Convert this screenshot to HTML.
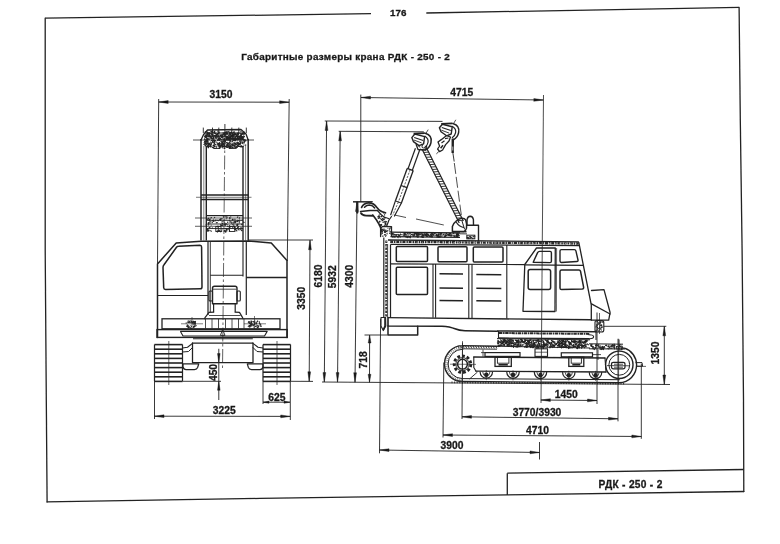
<!DOCTYPE html>
<html><head><meta charset="utf-8"><title>176</title>
<style>
html,body{margin:0;padding:0;background:#fff;}
body{width:780px;height:544px;overflow:hidden;font-family:"Liberation Sans",sans-serif;}
svg{display:block;}
svg text{font-family:"Liberation Sans",sans-serif;font-weight:bold;stroke:#1a1a1a;stroke-width:0.3px;}
</style></head><body>
<svg width="780" height="544" viewBox="0 0 780 544">
<defs><filter id="soft" x="0" y="0" width="780" height="544" filterUnits="userSpaceOnUse"><feGaussianBlur stdDeviation="0.38"/></filter></defs>
<rect x="0" y="0" width="780" height="544" fill="#ffffff"/>
<g filter="url(#soft)">
<line x1="45.20" y1="18.20" x2="371.00" y2="13.60" stroke="#222" stroke-width="1.3" />
<line x1="426.30" y1="13.00" x2="739.10" y2="7.40" stroke="#222" stroke-width="1.3" />
<path d="M739.10,7.40 L740.30,120.00 L742.10,250.00 L743.50,400.00 L743.80,491.50" stroke="#222" stroke-width="1.3" fill="none" stroke-linejoin="round" stroke-linecap="round" />
<path d="M743.80,491.50 L507.00,494.90 L260.00,498.40 L47.10,501.90" stroke="#222" stroke-width="1.3" fill="none" stroke-linejoin="round" stroke-linecap="round" />
<path d="M47.10,501.90 L46.30,400.00 L45.20,250.00 L45.20,18.20" stroke="#222" stroke-width="1.3" fill="none" stroke-linejoin="round" stroke-linecap="round" />
<line x1="507.30" y1="473.20" x2="507.30" y2="495.00" stroke="#222" stroke-width="1.3" />
<line x1="507.30" y1="473.20" x2="743.60" y2="469.50" stroke="#222" stroke-width="1.3" />
<text x="398.30" y="15.90" font-size="9.8" text-anchor="middle" fill="#1a1a1a">176</text>
<text x="345.50" y="60.00" font-size="9.9" text-anchor="middle" fill="#1a1a1a" textLength="208.6" lengthAdjust="spacing">Габаритные размеры крана РДК - 250 - 2</text>
<text x="630.40" y="488.10" font-size="10.2" text-anchor="middle" fill="#1a1a1a" textLength="63.8" lengthAdjust="spacing">РДК - 250 - 2</text>
<line x1="158.70" y1="99.00" x2="157.50" y2="264.00" stroke="#222" stroke-width="0.9" />
<line x1="289.20" y1="99.00" x2="287.30" y2="261.00" stroke="#222" stroke-width="0.9" />
<line x1="158.70" y1="102.00" x2="289.10" y2="102.20" stroke="#222" stroke-width="0.9" />
<path d="M158.70,102.00 L168.20,100.61 L168.20,103.41 Z" fill="#1a1a1a" stroke="#1a1a1a" stroke-width="0.4"/>
<path d="M289.10,102.20 L279.60,103.59 L279.60,100.79 Z" fill="#1a1a1a" stroke="#1a1a1a" stroke-width="0.4"/>
<text x="221.00" y="98.30" font-size="10.3" text-anchor="middle" fill="#1a1a1a">3150</text>
<line x1="248.00" y1="240.00" x2="313.00" y2="240.00" stroke="#222" stroke-width="0.9" />
<line x1="290.50" y1="381.30" x2="313.00" y2="381.40" stroke="#222" stroke-width="0.9" />
<line x1="310.00" y1="240.20" x2="309.20" y2="381.30" stroke="#222" stroke-width="0.9" />
<path d="M310.00,240.20 L311.35,249.71 L308.55,249.69 Z" fill="#1a1a1a" stroke="#1a1a1a" stroke-width="0.4"/>
<path d="M309.20,381.30 L307.85,371.79 L310.65,371.81 Z" fill="#1a1a1a" stroke="#1a1a1a" stroke-width="0.4"/>
<text x="305.30" y="298.30" font-size="10.3" text-anchor="middle" fill="#1a1a1a" transform="rotate(-90 305.30 298.30)">3350</text>
<line x1="218.80" y1="348.80" x2="218.80" y2="400.00" stroke="#222" stroke-width="0.9" />
<path d="M218.80,362.50 L217.50,353.50 L220.10,353.50 Z" fill="#1a1a1a" stroke="#1a1a1a" stroke-width="0.4"/>
<path d="M218.80,381.30 L220.10,390.30 L217.50,390.30 Z" fill="#1a1a1a" stroke="#1a1a1a" stroke-width="0.4"/>
<line x1="182.50" y1="381.30" x2="221.00" y2="381.30" stroke="#222" stroke-width="0.9" />
<text x="217.30" y="372.50" font-size="10.3" text-anchor="middle" fill="#1a1a1a" transform="rotate(-90 217.30 372.50)">450</text>
<line x1="263.00" y1="381.00" x2="263.00" y2="404.00" stroke="#222" stroke-width="0.9" />
<line x1="290.30" y1="381.00" x2="290.30" y2="420.00" stroke="#222" stroke-width="0.9" />
<line x1="263.00" y1="402.20" x2="290.00" y2="402.20" stroke="#222" stroke-width="0.9" />
<path d="M263.00,402.20 L269.00,401.10 L269.00,403.30 Z" fill="#1a1a1a" stroke="#1a1a1a" stroke-width="0.4"/>
<path d="M290.00,402.20 L284.00,403.30 L284.00,401.10 Z" fill="#1a1a1a" stroke="#1a1a1a" stroke-width="0.4"/>
<text x="276.80" y="400.90" font-size="10.3" text-anchor="middle" fill="#1a1a1a">625</text>
<line x1="154.50" y1="381.00" x2="154.50" y2="419.00" stroke="#222" stroke-width="0.9" />
<line x1="154.50" y1="416.20" x2="290.20" y2="416.40" stroke="#222" stroke-width="0.9" />
<path d="M154.50,416.20 L164.00,414.81 L164.00,417.61 Z" fill="#1a1a1a" stroke="#1a1a1a" stroke-width="0.4"/>
<path d="M290.20,416.40 L280.70,417.79 L280.70,414.99 Z" fill="#1a1a1a" stroke="#1a1a1a" stroke-width="0.4"/>
<text x="224.30" y="414.40" font-size="10.3" text-anchor="middle" fill="#1a1a1a">3225</text>
<line x1="322.00" y1="382.00" x2="670.00" y2="384.50" stroke="#222" stroke-width="0.9" />
<line x1="324.80" y1="121.00" x2="442.50" y2="121.40" stroke="#222" stroke-width="0.9" />
<line x1="326.60" y1="121.00" x2="324.30" y2="382.00" stroke="#222" stroke-width="0.9" />
<path d="M326.60,121.00 L327.92,130.51 L325.12,130.49 Z" fill="#1a1a1a" stroke="#1a1a1a" stroke-width="0.4"/>
<path d="M324.30,382.00 L322.98,372.49 L325.78,372.51 Z" fill="#1a1a1a" stroke="#1a1a1a" stroke-width="0.4"/>
<text x="322.10" y="276.00" font-size="10.3" text-anchor="middle" fill="#1a1a1a" transform="rotate(-90 322.10 276.00)">6180</text>
<line x1="338.70" y1="131.30" x2="423.80" y2="131.80" stroke="#222" stroke-width="0.9" />
<line x1="340.20" y1="131.30" x2="337.50" y2="382.10" stroke="#222" stroke-width="0.9" />
<path d="M340.20,131.30 L341.50,140.81 L338.70,140.78 Z" fill="#1a1a1a" stroke="#1a1a1a" stroke-width="0.4"/>
<path d="M337.50,382.10 L336.20,372.59 L339.00,372.62 Z" fill="#1a1a1a" stroke="#1a1a1a" stroke-width="0.4"/>
<text x="336.20" y="276.80" font-size="10.3" text-anchor="middle" fill="#1a1a1a" transform="rotate(-90 336.20 276.80)">5932</text>
<line x1="353.00" y1="202.00" x2="372.00" y2="202.00" stroke="#222" stroke-width="0.9" />
<line x1="357.00" y1="202.00" x2="355.00" y2="382.20" stroke="#222" stroke-width="0.9" />
<path d="M357.00,202.00 L358.29,211.51 L355.49,211.48 Z" fill="#1a1a1a" stroke="#1a1a1a" stroke-width="0.4"/>
<path d="M355.00,382.20 L353.71,372.69 L356.51,372.72 Z" fill="#1a1a1a" stroke="#1a1a1a" stroke-width="0.4"/>
<text x="353.50" y="276.30" font-size="10.3" text-anchor="middle" fill="#1a1a1a" transform="rotate(-90 353.50 276.30)">4300</text>
<line x1="364.50" y1="335.00" x2="387.50" y2="335.00" stroke="#222" stroke-width="0.9" />
<line x1="369.60" y1="335.00" x2="369.50" y2="382.30" stroke="#222" stroke-width="0.9" />
<path d="M369.60,335.00 L370.98,343.00 L368.18,343.00 Z" fill="#1a1a1a" stroke="#1a1a1a" stroke-width="0.4"/>
<path d="M369.50,382.30 L368.12,374.30 L370.92,374.30 Z" fill="#1a1a1a" stroke="#1a1a1a" stroke-width="0.4"/>
<text x="366.80" y="359.80" font-size="10.3" text-anchor="middle" fill="#1a1a1a" transform="rotate(-90 366.80 359.80)">718</text>
<line x1="360.80" y1="94.60" x2="360.80" y2="202.00" stroke="#222" stroke-width="0.9" />
<line x1="361.00" y1="97.50" x2="543.30" y2="100.00" stroke="#222" stroke-width="0.9" />
<path d="M361.00,97.50 L370.52,96.23 L370.48,99.03 Z" fill="#1a1a1a" stroke="#1a1a1a" stroke-width="0.4"/>
<path d="M543.30,100.00 L533.78,101.27 L533.82,98.47 Z" fill="#1a1a1a" stroke="#1a1a1a" stroke-width="0.4"/>
<text x="461.80" y="95.80" font-size="10.3" text-anchor="middle" fill="#1a1a1a">4715</text>
<line x1="543.50" y1="95.00" x2="541.00" y2="403.00" stroke="#222" stroke-width="0.8" />
<line x1="380.60" y1="318.80" x2="379.50" y2="453.30" stroke="#222" stroke-width="0.9" />
<line x1="539.50" y1="442.00" x2="539.50" y2="459.50" stroke="#222" stroke-width="0.9" />
<line x1="379.50" y1="450.00" x2="539.50" y2="452.50" stroke="#222" stroke-width="0.9" />
<path d="M379.50,450.00 L389.02,448.75 L388.98,451.55 Z" fill="#1a1a1a" stroke="#1a1a1a" stroke-width="0.4"/>
<path d="M539.50,452.50 L529.98,453.75 L530.02,450.95 Z" fill="#1a1a1a" stroke="#1a1a1a" stroke-width="0.4"/>
<text x="452.00" y="448.80" font-size="10.3" text-anchor="middle" fill="#1a1a1a">3900</text>
<line x1="597.00" y1="312.50" x2="597.00" y2="404.00" stroke="#222" stroke-width="0.9" />
<line x1="540.90" y1="400.00" x2="597.00" y2="400.50" stroke="#222" stroke-width="0.9" />
<path d="M540.90,400.00 L550.41,398.68 L550.39,401.48 Z" fill="#1a1a1a" stroke="#1a1a1a" stroke-width="0.4"/>
<path d="M597.00,400.50 L587.49,401.82 L587.51,399.02 Z" fill="#1a1a1a" stroke="#1a1a1a" stroke-width="0.4"/>
<text x="566.30" y="398.00" font-size="10.3" text-anchor="middle" fill="#1a1a1a">1450</text>
<line x1="462.50" y1="342.50" x2="462.00" y2="419.00" stroke="#222" stroke-width="0.9" />
<line x1="618.00" y1="338.80" x2="618.00" y2="421.30" stroke="#222" stroke-width="0.9" />
<line x1="462.00" y1="416.80" x2="618.00" y2="418.80" stroke="#222" stroke-width="0.9" />
<path d="M462.00,416.80 L471.52,415.52 L471.48,418.32 Z" fill="#1a1a1a" stroke="#1a1a1a" stroke-width="0.4"/>
<path d="M618.00,418.80 L608.48,420.08 L608.52,417.28 Z" fill="#1a1a1a" stroke="#1a1a1a" stroke-width="0.4"/>
<text x="537.00" y="415.90" font-size="10.3" text-anchor="middle" fill="#1a1a1a">3770/3930</text>
<line x1="443.80" y1="362.50" x2="443.00" y2="437.50" stroke="#222" stroke-width="0.9" />
<line x1="641.30" y1="363.80" x2="641.30" y2="438.80" stroke="#222" stroke-width="0.9" />
<line x1="443.00" y1="435.00" x2="641.30" y2="436.50" stroke="#222" stroke-width="0.9" />
<path d="M443.00,435.00 L452.51,433.67 L452.49,436.47 Z" fill="#1a1a1a" stroke="#1a1a1a" stroke-width="0.4"/>
<path d="M641.30,436.50 L631.79,437.83 L631.81,435.03 Z" fill="#1a1a1a" stroke="#1a1a1a" stroke-width="0.4"/>
<text x="537.50" y="434.20" font-size="10.3" text-anchor="middle" fill="#1a1a1a">4710</text>
<line x1="603.80" y1="326.30" x2="666.30" y2="326.30" stroke="#222" stroke-width="0.9" />
<line x1="664.30" y1="326.30" x2="664.30" y2="384.50" stroke="#222" stroke-width="0.9" />
<path d="M664.30,326.30 L665.70,335.80 L662.90,335.80 Z" fill="#1a1a1a" stroke="#1a1a1a" stroke-width="0.4"/>
<path d="M664.30,384.50 L662.90,375.00 L665.70,375.00 Z" fill="#1a1a1a" stroke="#1a1a1a" stroke-width="0.4"/>
<text x="658.80" y="353.00" font-size="10.3" text-anchor="middle" fill="#1a1a1a" transform="rotate(-90 658.80 353.00)">1350</text>
<line x1="201.00" y1="139.00" x2="201.00" y2="240.50" stroke="#222" stroke-width="1.5" />
<line x1="203.80" y1="146.00" x2="203.80" y2="240.50" stroke="#555" stroke-width="0.7" />
<line x1="206.30" y1="146.00" x2="206.30" y2="240.50" stroke="#222" stroke-width="1.4" />
<line x1="243.00" y1="146.00" x2="243.00" y2="240.50" stroke="#222" stroke-width="1.4" />
<line x1="245.60" y1="146.00" x2="245.60" y2="240.50" stroke="#555" stroke-width="0.7" />
<line x1="248.20" y1="139.00" x2="248.20" y2="240.50" stroke="#222" stroke-width="1.5" />
<path d="M201.00,140.00 L203.60,134.50 L207.50,130.00 L241.00,129.50 L246.00,134.00 L248.20,140.00" stroke="#222" stroke-width="1.3" fill="none" stroke-linejoin="round" stroke-linecap="round" />
<path d="M206.30,146.50 L212.00,146.80 L214.00,148.50 L220.00,148.30 L222.00,146.50 L227.00,146.50 L229.00,148.50 L236.00,148.30 L238.00,146.50 L243.00,146.50" stroke="#222" stroke-width="1.0" fill="none" stroke-linejoin="round" stroke-linecap="round" />
<line x1="217.78" y1="133.26" x2="217.43" y2="133.94" stroke="#222" stroke-width="1.25" />
<line x1="226.47" y1="136.49" x2="228.16" y2="136.80" stroke="#222" stroke-width="1.25" />
<line x1="206.04" y1="137.50" x2="206.82" y2="137.68" stroke="#222" stroke-width="1.25" />
<line x1="221.91" y1="143.40" x2="222.91" y2="143.82" stroke="#222" stroke-width="1.25" />
<line x1="230.22" y1="145.22" x2="229.87" y2="146.65" stroke="#222" stroke-width="1.25" />
<line x1="244.53" y1="131.70" x2="243.41" y2="132.23" stroke="#222" stroke-width="1.25" />
<line x1="210.41" y1="132.77" x2="211.77" y2="134.74" stroke="#222" stroke-width="1.25" />
<line x1="211.91" y1="139.72" x2="211.31" y2="141.01" stroke="#222" stroke-width="1.25" />
<line x1="226.96" y1="131.94" x2="227.99" y2="132.14" stroke="#222" stroke-width="1.25" />
<line x1="232.40" y1="137.41" x2="233.44" y2="138.99" stroke="#222" stroke-width="1.25" />
<line x1="223.08" y1="135.50" x2="221.37" y2="136.78" stroke="#222" stroke-width="1.25" />
<line x1="214.51" y1="139.62" x2="214.31" y2="142.13" stroke="#222" stroke-width="1.25" />
<line x1="234.41" y1="135.32" x2="233.55" y2="135.37" stroke="#222" stroke-width="1.25" />
<line x1="221.64" y1="142.36" x2="223.13" y2="143.13" stroke="#222" stroke-width="1.25" />
<line x1="206.11" y1="141.02" x2="204.73" y2="142.28" stroke="#222" stroke-width="1.25" />
<line x1="240.39" y1="135.71" x2="239.30" y2="137.27" stroke="#222" stroke-width="1.25" />
<line x1="228.28" y1="137.84" x2="225.93" y2="139.13" stroke="#222" stroke-width="1.25" />
<line x1="223.94" y1="140.96" x2="226.04" y2="141.37" stroke="#222" stroke-width="1.25" />
<line x1="231.03" y1="145.90" x2="229.99" y2="146.55" stroke="#222" stroke-width="1.25" />
<line x1="220.32" y1="141.03" x2="221.93" y2="141.14" stroke="#222" stroke-width="1.25" />
<line x1="211.39" y1="132.76" x2="213.64" y2="133.18" stroke="#222" stroke-width="1.25" />
<line x1="209.80" y1="134.71" x2="210.65" y2="137.09" stroke="#222" stroke-width="1.25" />
<line x1="207.80" y1="137.74" x2="207.41" y2="140.25" stroke="#222" stroke-width="1.25" />
<line x1="238.09" y1="143.96" x2="239.06" y2="145.12" stroke="#222" stroke-width="1.25" />
<line x1="219.21" y1="144.26" x2="218.29" y2="144.39" stroke="#222" stroke-width="1.25" />
<line x1="211.72" y1="134.48" x2="212.96" y2="135.59" stroke="#222" stroke-width="1.25" />
<line x1="228.65" y1="134.94" x2="230.18" y2="134.96" stroke="#222" stroke-width="1.25" />
<line x1="219.64" y1="139.50" x2="217.54" y2="139.81" stroke="#222" stroke-width="1.25" />
<line x1="225.64" y1="140.26" x2="225.26" y2="140.88" stroke="#222" stroke-width="1.25" />
<line x1="241.38" y1="142.70" x2="239.21" y2="143.60" stroke="#222" stroke-width="1.25" />
<line x1="220.59" y1="136.98" x2="222.48" y2="137.62" stroke="#222" stroke-width="1.25" />
<line x1="207.05" y1="132.01" x2="207.81" y2="132.59" stroke="#222" stroke-width="1.25" />
<line x1="218.44" y1="131.79" x2="219.37" y2="131.79" stroke="#222" stroke-width="1.25" />
<line x1="208.66" y1="136.45" x2="211.18" y2="136.66" stroke="#222" stroke-width="1.25" />
<line x1="229.68" y1="133.23" x2="230.63" y2="134.20" stroke="#222" stroke-width="1.25" />
<line x1="219.43" y1="132.84" x2="216.95" y2="134.12" stroke="#222" stroke-width="1.25" />
<line x1="223.61" y1="138.26" x2="224.40" y2="138.48" stroke="#222" stroke-width="1.25" />
<line x1="218.55" y1="134.97" x2="217.73" y2="135.46" stroke="#222" stroke-width="1.25" />
<line x1="205.45" y1="145.26" x2="205.37" y2="146.18" stroke="#222" stroke-width="1.25" />
<line x1="226.77" y1="131.41" x2="226.53" y2="134.15" stroke="#222" stroke-width="1.25" />
<line x1="239.90" y1="141.44" x2="240.86" y2="142.47" stroke="#222" stroke-width="1.25" />
<line x1="211.35" y1="142.58" x2="211.11" y2="144.88" stroke="#222" stroke-width="1.25" />
<line x1="218.02" y1="134.35" x2="215.72" y2="135.89" stroke="#222" stroke-width="1.25" />
<line x1="239.46" y1="143.09" x2="237.58" y2="144.29" stroke="#222" stroke-width="1.25" />
<line x1="213.80" y1="138.76" x2="214.09" y2="139.36" stroke="#222" stroke-width="1.25" />
<line x1="205.65" y1="135.19" x2="207.10" y2="136.74" stroke="#222" stroke-width="1.25" />
<line x1="243.72" y1="137.71" x2="241.00" y2="138.25" stroke="#222" stroke-width="1.25" />
<line x1="243.66" y1="136.47" x2="244.50" y2="137.17" stroke="#222" stroke-width="1.25" />
<line x1="212.56" y1="134.07" x2="211.58" y2="136.45" stroke="#222" stroke-width="1.25" />
<line x1="238.96" y1="138.19" x2="237.87" y2="140.28" stroke="#222" stroke-width="1.25" />
<line x1="207.98" y1="140.91" x2="205.75" y2="141.56" stroke="#222" stroke-width="1.25" />
<line x1="235.26" y1="138.17" x2="237.23" y2="139.41" stroke="#222" stroke-width="1.25" />
<line x1="218.13" y1="143.01" x2="216.67" y2="143.14" stroke="#222" stroke-width="1.25" />
<line x1="220.96" y1="145.20" x2="220.32" y2="145.94" stroke="#222" stroke-width="1.25" />
<line x1="209.71" y1="133.27" x2="207.44" y2="133.97" stroke="#222" stroke-width="1.25" />
<line x1="210.49" y1="143.40" x2="208.45" y2="143.52" stroke="#222" stroke-width="1.25" />
<line x1="218.87" y1="139.23" x2="219.45" y2="139.48" stroke="#222" stroke-width="1.25" />
<line x1="244.31" y1="140.75" x2="244.09" y2="143.39" stroke="#222" stroke-width="1.25" />
<line x1="222.29" y1="144.08" x2="221.38" y2="144.63" stroke="#222" stroke-width="1.25" />
<line x1="214.83" y1="135.39" x2="216.20" y2="136.69" stroke="#222" stroke-width="1.25" />
<line x1="215.13" y1="137.29" x2="217.52" y2="138.33" stroke="#222" stroke-width="1.25" />
<line x1="219.01" y1="137.87" x2="218.33" y2="140.37" stroke="#222" stroke-width="1.25" />
<line x1="221.75" y1="144.77" x2="221.74" y2="146.54" stroke="#222" stroke-width="1.25" />
<line x1="225.96" y1="131.28" x2="226.15" y2="132.27" stroke="#222" stroke-width="1.25" />
<line x1="204.66" y1="142.99" x2="206.07" y2="143.83" stroke="#222" stroke-width="1.25" />
<line x1="234.23" y1="139.35" x2="235.14" y2="140.83" stroke="#222" stroke-width="1.25" />
<line x1="227.27" y1="142.76" x2="229.00" y2="143.36" stroke="#222" stroke-width="1.25" />
<line x1="214.69" y1="135.15" x2="213.39" y2="136.28" stroke="#222" stroke-width="1.25" />
<line x1="227.53" y1="142.40" x2="226.01" y2="142.83" stroke="#222" stroke-width="1.25" />
<line x1="229.61" y1="138.58" x2="229.53" y2="140.71" stroke="#222" stroke-width="1.25" />
<line x1="223.05" y1="139.00" x2="223.23" y2="141.66" stroke="#222" stroke-width="1.25" />
<line x1="233.17" y1="144.15" x2="232.02" y2="144.36" stroke="#222" stroke-width="1.25" />
<line x1="227.44" y1="145.15" x2="226.65" y2="145.58" stroke="#222" stroke-width="1.25" />
<line x1="209.49" y1="137.63" x2="210.59" y2="137.89" stroke="#222" stroke-width="1.25" />
<line x1="207.50" y1="141.04" x2="205.49" y2="142.66" stroke="#222" stroke-width="1.25" />
<line x1="210.83" y1="141.74" x2="210.39" y2="142.54" stroke="#222" stroke-width="1.25" />
<line x1="240.70" y1="145.51" x2="242.78" y2="147.23" stroke="#222" stroke-width="1.25" />
<line x1="220.83" y1="138.31" x2="218.40" y2="138.39" stroke="#222" stroke-width="1.25" />
<line x1="211.12" y1="137.47" x2="211.05" y2="138.82" stroke="#222" stroke-width="1.25" />
<line x1="212.53" y1="135.78" x2="212.11" y2="136.27" stroke="#222" stroke-width="1.25" />
<line x1="227.22" y1="137.61" x2="228.54" y2="137.68" stroke="#222" stroke-width="1.25" />
<line x1="230.08" y1="138.68" x2="232.79" y2="139.24" stroke="#222" stroke-width="1.25" />
<line x1="236.82" y1="145.58" x2="237.94" y2="145.96" stroke="#222" stroke-width="1.25" />
<line x1="206.12" y1="142.68" x2="206.71" y2="143.35" stroke="#222" stroke-width="1.25" />
<line x1="221.81" y1="144.67" x2="220.83" y2="145.30" stroke="#222" stroke-width="1.25" />
<line x1="210.62" y1="144.79" x2="210.15" y2="146.88" stroke="#222" stroke-width="1.25" />
<line x1="208.17" y1="131.86" x2="207.31" y2="133.14" stroke="#222" stroke-width="1.25" />
<line x1="207.47" y1="145.08" x2="206.50" y2="147.23" stroke="#222" stroke-width="1.25" />
<line x1="207.93" y1="143.84" x2="210.38" y2="144.36" stroke="#222" stroke-width="1.25" />
<line x1="223.10" y1="136.09" x2="222.67" y2="138.69" stroke="#222" stroke-width="1.25" />
<line x1="215.48" y1="132.94" x2="215.39" y2="134.06" stroke="#222" stroke-width="1.25" />
<line x1="208.99" y1="133.42" x2="210.02" y2="133.59" stroke="#222" stroke-width="1.25" />
<line x1="217.29" y1="135.58" x2="216.39" y2="136.42" stroke="#222" stroke-width="1.25" />
<line x1="225.00" y1="133.67" x2="225.30" y2="134.24" stroke="#222" stroke-width="1.25" />
<line x1="214.77" y1="131.23" x2="213.56" y2="132.58" stroke="#222" stroke-width="1.25" />
<line x1="212.27" y1="138.12" x2="211.45" y2="138.29" stroke="#222" stroke-width="1.25" />
<line x1="238.08" y1="137.48" x2="238.11" y2="139.92" stroke="#222" stroke-width="1.25" />
<line x1="220.62" y1="138.60" x2="219.08" y2="140.90" stroke="#222" stroke-width="1.25" />
<line x1="218.55" y1="143.48" x2="217.34" y2="145.08" stroke="#222" stroke-width="1.25" />
<line x1="221.09" y1="136.21" x2="221.97" y2="136.36" stroke="#222" stroke-width="1.25" />
<line x1="207.40" y1="142.11" x2="208.07" y2="142.80" stroke="#222" stroke-width="1.25" />
<line x1="207.96" y1="143.62" x2="206.06" y2="144.44" stroke="#222" stroke-width="1.25" />
<line x1="216.06" y1="134.63" x2="217.03" y2="135.92" stroke="#222" stroke-width="1.25" />
<line x1="210.96" y1="137.69" x2="212.80" y2="139.69" stroke="#222" stroke-width="1.25" />
<line x1="244.38" y1="139.21" x2="246.34" y2="141.10" stroke="#222" stroke-width="1.25" />
<line x1="217.19" y1="136.35" x2="218.63" y2="136.35" stroke="#222" stroke-width="1.25" />
<line x1="223.96" y1="138.54" x2="225.34" y2="139.55" stroke="#222" stroke-width="1.25" />
<line x1="204.70" y1="134.96" x2="206.12" y2="135.37" stroke="#222" stroke-width="1.25" />
<line x1="206.21" y1="131.34" x2="206.85" y2="132.25" stroke="#222" stroke-width="1.25" />
<line x1="228.51" y1="138.94" x2="227.06" y2="140.38" stroke="#222" stroke-width="1.25" />
<line x1="233.86" y1="144.19" x2="234.30" y2="145.43" stroke="#222" stroke-width="1.25" />
<line x1="244.87" y1="133.24" x2="243.57" y2="134.78" stroke="#222" stroke-width="1.25" />
<line x1="206.30" y1="143.53" x2="204.43" y2="144.19" stroke="#222" stroke-width="1.25" />
<line x1="234.59" y1="143.18" x2="236.18" y2="143.93" stroke="#222" stroke-width="1.25" />
<line x1="225.18" y1="143.52" x2="223.20" y2="144.92" stroke="#222" stroke-width="1.25" />
<line x1="228.45" y1="144.39" x2="227.29" y2="146.18" stroke="#222" stroke-width="1.25" />
<line x1="213.93" y1="131.47" x2="215.20" y2="132.03" stroke="#222" stroke-width="1.25" />
<line x1="208.80" y1="143.54" x2="208.44" y2="145.49" stroke="#222" stroke-width="1.25" />
<line x1="230.18" y1="141.21" x2="230.20" y2="141.82" stroke="#222" stroke-width="1.25" />
<line x1="237.21" y1="142.22" x2="237.19" y2="144.00" stroke="#222" stroke-width="1.25" />
<line x1="231.53" y1="131.99" x2="230.75" y2="132.84" stroke="#222" stroke-width="1.25" />
<line x1="207.55" y1="134.98" x2="206.86" y2="135.77" stroke="#222" stroke-width="1.25" />
<line x1="234.83" y1="145.64" x2="234.86" y2="147.08" stroke="#222" stroke-width="1.25" />
<line x1="224.14" y1="141.26" x2="222.68" y2="142.56" stroke="#222" stroke-width="1.25" />
<line x1="230.85" y1="132.16" x2="231.89" y2="132.68" stroke="#222" stroke-width="1.25" />
<line x1="234.97" y1="135.57" x2="234.84" y2="136.18" stroke="#222" stroke-width="1.25" />
<line x1="206.99" y1="135.03" x2="205.90" y2="136.85" stroke="#222" stroke-width="1.25" />
<line x1="232.20" y1="135.36" x2="232.12" y2="136.98" stroke="#222" stroke-width="1.25" />
<line x1="223.62" y1="132.78" x2="222.64" y2="133.12" stroke="#222" stroke-width="1.25" />
<line x1="244.60" y1="145.04" x2="246.21" y2="145.13" stroke="#222" stroke-width="1.25" />
<line x1="238.12" y1="145.52" x2="238.30" y2="146.70" stroke="#222" stroke-width="1.25" />
<line x1="213.10" y1="145.18" x2="214.59" y2="146.34" stroke="#222" stroke-width="1.25" />
<line x1="210.31" y1="138.86" x2="209.43" y2="138.99" stroke="#222" stroke-width="1.25" />
<line x1="238.13" y1="138.63" x2="236.12" y2="139.38" stroke="#222" stroke-width="1.25" />
<line x1="213.99" y1="144.47" x2="214.02" y2="145.12" stroke="#222" stroke-width="1.25" />
<line x1="204.65" y1="138.38" x2="204.84" y2="139.62" stroke="#222" stroke-width="1.25" />
<line x1="210.27" y1="136.16" x2="211.61" y2="138.21" stroke="#222" stroke-width="1.25" />
<line x1="204.57" y1="142.26" x2="203.82" y2="142.68" stroke="#222" stroke-width="1.25" />
<line x1="242.48" y1="141.70" x2="241.30" y2="142.07" stroke="#222" stroke-width="1.25" />
<line x1="219.76" y1="136.89" x2="217.86" y2="136.90" stroke="#222" stroke-width="1.25" />
<line x1="219.29" y1="137.42" x2="219.75" y2="137.96" stroke="#222" stroke-width="1.25" />
<line x1="208.67" y1="143.52" x2="210.33" y2="145.60" stroke="#222" stroke-width="1.25" />
<line x1="214.72" y1="134.99" x2="214.69" y2="136.00" stroke="#222" stroke-width="1.25" />
<line x1="219.81" y1="145.34" x2="217.58" y2="146.19" stroke="#222" stroke-width="1.25" />
<line x1="230.37" y1="144.70" x2="228.59" y2="145.04" stroke="#222" stroke-width="1.25" />
<line x1="234.00" y1="131.74" x2="232.94" y2="132.93" stroke="#222" stroke-width="1.25" />
<line x1="235.36" y1="140.67" x2="235.80" y2="141.22" stroke="#222" stroke-width="1.25" />
<line x1="242.50" y1="132.91" x2="242.62" y2="134.26" stroke="#222" stroke-width="1.25" />
<line x1="216.71" y1="142.09" x2="215.54" y2="142.17" stroke="#222" stroke-width="1.25" />
<line x1="231.40" y1="135.51" x2="231.13" y2="136.96" stroke="#222" stroke-width="1.25" />
<line x1="211.36" y1="133.42" x2="213.42" y2="135.00" stroke="#222" stroke-width="1.25" />
<line x1="224.88" y1="134.30" x2="222.21" y2="135.11" stroke="#222" stroke-width="1.25" />
<line x1="222.95" y1="133.09" x2="223.61" y2="133.55" stroke="#222" stroke-width="1.25" />
<line x1="218.52" y1="132.37" x2="219.37" y2="133.16" stroke="#222" stroke-width="1.25" />
<line x1="227.85" y1="144.31" x2="226.79" y2="145.38" stroke="#222" stroke-width="1.25" />
<line x1="221.47" y1="138.86" x2="221.98" y2="140.11" stroke="#222" stroke-width="1.25" />
<line x1="207.04" y1="135.16" x2="206.17" y2="135.25" stroke="#222" stroke-width="1.25" />
<line x1="225.14" y1="140.44" x2="224.16" y2="140.89" stroke="#222" stroke-width="1.25" />
<line x1="215.61" y1="134.73" x2="216.10" y2="136.23" stroke="#222" stroke-width="1.25" />
<line x1="243.61" y1="143.73" x2="243.01" y2="143.98" stroke="#222" stroke-width="1.25" />
<line x1="205.82" y1="141.64" x2="204.27" y2="142.17" stroke="#222" stroke-width="1.25" />
<line x1="228.57" y1="131.00" x2="229.46" y2="133.49" stroke="#222" stroke-width="1.25" />
<line x1="238.35" y1="143.83" x2="237.21" y2="143.93" stroke="#222" stroke-width="1.25" />
<line x1="208.97" y1="133.32" x2="208.82" y2="135.41" stroke="#222" stroke-width="1.25" />
<line x1="243.10" y1="141.83" x2="242.08" y2="143.87" stroke="#222" stroke-width="1.25" />
<line x1="223.25" y1="139.27" x2="225.55" y2="139.56" stroke="#222" stroke-width="1.25" />
<line x1="214.04" y1="144.80" x2="213.48" y2="145.94" stroke="#222" stroke-width="1.25" />
<line x1="209.75" y1="134.78" x2="208.86" y2="136.72" stroke="#222" stroke-width="1.25" />
<line x1="209.10" y1="132.06" x2="208.95" y2="133.93" stroke="#222" stroke-width="1.25" />
<line x1="220.41" y1="134.35" x2="220.22" y2="134.95" stroke="#222" stroke-width="1.25" />
<line x1="216.86" y1="137.91" x2="214.86" y2="138.17" stroke="#222" stroke-width="1.25" />
<line x1="240.73" y1="138.13" x2="241.58" y2="138.90" stroke="#222" stroke-width="1.25" />
<line x1="243.89" y1="141.57" x2="244.25" y2="142.10" stroke="#222" stroke-width="1.25" />
<line x1="224.93" y1="141.12" x2="225.22" y2="142.25" stroke="#222" stroke-width="1.25" />
<line x1="231.86" y1="144.88" x2="232.37" y2="145.32" stroke="#222" stroke-width="1.25" />
<line x1="218.36" y1="137.31" x2="217.80" y2="138.18" stroke="#222" stroke-width="1.25" />
<line x1="237.18" y1="142.09" x2="237.16" y2="143.14" stroke="#222" stroke-width="1.25" />
<line x1="244.26" y1="135.68" x2="243.33" y2="136.27" stroke="#222" stroke-width="1.25" />
<line x1="213.58" y1="142.41" x2="215.20" y2="144.56" stroke="#222" stroke-width="1.25" />
<line x1="224.83" y1="133.81" x2="225.99" y2="134.79" stroke="#222" stroke-width="1.25" />
<line x1="231.78" y1="145.23" x2="233.09" y2="145.88" stroke="#222" stroke-width="1.25" />
<line x1="213.23" y1="145.61" x2="213.88" y2="145.92" stroke="#222" stroke-width="1.25" />
<line x1="206.97" y1="136.90" x2="204.55" y2="137.70" stroke="#222" stroke-width="1.25" />
<line x1="234.54" y1="145.96" x2="233.25" y2="146.25" stroke="#222" stroke-width="1.25" />
<line x1="212.11" y1="145.04" x2="211.64" y2="145.52" stroke="#222" stroke-width="1.25" />
<line x1="231.74" y1="136.68" x2="232.25" y2="137.91" stroke="#222" stroke-width="1.25" />
<line x1="211.44" y1="131.04" x2="212.32" y2="132.10" stroke="#222" stroke-width="1.25" />
<line x1="243.68" y1="132.86" x2="242.63" y2="132.97" stroke="#222" stroke-width="1.25" />
<line x1="219.12" y1="143.32" x2="217.81" y2="144.15" stroke="#222" stroke-width="1.25" />
<line x1="206.52" y1="138.10" x2="207.54" y2="140.52" stroke="#222" stroke-width="1.25" />
<line x1="212.41" y1="136.46" x2="211.78" y2="136.68" stroke="#222" stroke-width="1.25" />
<line x1="221.34" y1="143.18" x2="220.83" y2="143.64" stroke="#222" stroke-width="1.25" />
<line x1="205.93" y1="131.94" x2="204.80" y2="132.23" stroke="#222" stroke-width="1.25" />
<line x1="235.14" y1="144.48" x2="235.72" y2="145.53" stroke="#222" stroke-width="1.25" />
<line x1="243.77" y1="140.25" x2="245.24" y2="141.85" stroke="#222" stroke-width="1.25" />
<line x1="217.48" y1="135.13" x2="219.74" y2="135.16" stroke="#222" stroke-width="1.25" />
<line x1="242.07" y1="140.51" x2="241.43" y2="140.63" stroke="#222" stroke-width="1.25" />
<line x1="214.09" y1="138.13" x2="211.41" y2="138.49" stroke="#222" stroke-width="1.25" />
<line x1="220.35" y1="134.77" x2="220.72" y2="136.41" stroke="#222" stroke-width="1.25" />
<line x1="242.55" y1="133.74" x2="240.74" y2="135.04" stroke="#222" stroke-width="1.25" />
<line x1="238.23" y1="142.59" x2="237.80" y2="143.84" stroke="#222" stroke-width="1.25" />
<line x1="217.60" y1="136.43" x2="217.00" y2="136.92" stroke="#222" stroke-width="1.25" />
<line x1="212.59" y1="142.29" x2="213.12" y2="142.81" stroke="#222" stroke-width="1.25" />
<line x1="205.89" y1="139.29" x2="207.32" y2="141.64" stroke="#222" stroke-width="1.25" />
<line x1="240.72" y1="145.82" x2="241.25" y2="146.40" stroke="#222" stroke-width="1.25" />
<line x1="208.45" y1="138.48" x2="207.48" y2="139.73" stroke="#222" stroke-width="1.25" />
<line x1="214.10" y1="137.25" x2="213.33" y2="139.19" stroke="#222" stroke-width="1.25" />
<line x1="235.17" y1="143.70" x2="234.74" y2="144.46" stroke="#222" stroke-width="1.25" />
<line x1="238.98" y1="135.41" x2="238.68" y2="136.80" stroke="#222" stroke-width="1.25" />
<line x1="234.76" y1="133.99" x2="235.57" y2="134.79" stroke="#222" stroke-width="1.25" />
<line x1="210.79" y1="144.26" x2="210.47" y2="145.54" stroke="#222" stroke-width="1.25" />
<line x1="220.74" y1="145.89" x2="220.71" y2="147.00" stroke="#222" stroke-width="1.25" />
<line x1="237.65" y1="140.80" x2="236.82" y2="140.82" stroke="#222" stroke-width="1.25" />
<line x1="223.97" y1="143.29" x2="221.67" y2="144.54" stroke="#222" stroke-width="1.25" />
<line x1="206.15" y1="135.41" x2="207.10" y2="135.78" stroke="#222" stroke-width="1.25" />
<line x1="244.39" y1="139.75" x2="243.01" y2="140.06" stroke="#222" stroke-width="1.25" />
<line x1="240.01" y1="137.74" x2="241.59" y2="139.42" stroke="#222" stroke-width="1.25" />
<line x1="243.27" y1="132.59" x2="242.69" y2="134.46" stroke="#222" stroke-width="1.25" />
<line x1="213.42" y1="136.53" x2="214.37" y2="136.98" stroke="#222" stroke-width="1.25" />
<line x1="214.95" y1="139.99" x2="214.47" y2="140.92" stroke="#222" stroke-width="1.25" />
<line x1="204.97" y1="135.91" x2="204.43" y2="136.76" stroke="#222" stroke-width="1.25" />
<line x1="217.30" y1="134.05" x2="215.86" y2="135.13" stroke="#222" stroke-width="1.25" />
<line x1="207.09" y1="132.52" x2="207.68" y2="134.23" stroke="#222" stroke-width="1.25" />
<line x1="230.71" y1="132.37" x2="232.56" y2="133.41" stroke="#222" stroke-width="1.25" />
<line x1="221.30" y1="135.25" x2="222.83" y2="137.47" stroke="#222" stroke-width="1.25" />
<line x1="217.31" y1="139.50" x2="217.96" y2="140.86" stroke="#222" stroke-width="1.25" />
<line x1="239.93" y1="145.95" x2="240.36" y2="146.89" stroke="#222" stroke-width="1.25" />
<line x1="234.35" y1="134.06" x2="236.93" y2="134.10" stroke="#222" stroke-width="1.25" />
<line x1="221.87" y1="143.31" x2="222.61" y2="145.74" stroke="#222" stroke-width="1.25" />
<line x1="223.40" y1="133.44" x2="225.21" y2="133.52" stroke="#222" stroke-width="1.25" />
<line x1="230.77" y1="144.65" x2="232.66" y2="145.19" stroke="#222" stroke-width="1.25" />
<line x1="219.70" y1="138.57" x2="220.80" y2="139.11" stroke="#222" stroke-width="1.25" />
<line x1="225.87" y1="144.88" x2="227.45" y2="145.45" stroke="#222" stroke-width="1.25" />
<line x1="237.50" y1="145.50" x2="238.21" y2="146.01" stroke="#222" stroke-width="1.25" />
<line x1="243.17" y1="145.63" x2="243.20" y2="146.35" stroke="#222" stroke-width="1.25" />
<line x1="242.47" y1="136.82" x2="240.60" y2="137.40" stroke="#222" stroke-width="1.25" />
<line x1="238.31" y1="133.40" x2="237.46" y2="134.08" stroke="#222" stroke-width="1.25" />
<line x1="221.08" y1="143.70" x2="220.22" y2="144.21" stroke="#222" stroke-width="1.25" />
<line x1="213.44" y1="137.00" x2="213.36" y2="138.44" stroke="#222" stroke-width="1.25" />
<line x1="209.55" y1="134.71" x2="207.87" y2="136.66" stroke="#222" stroke-width="1.25" />
<line x1="206.19" y1="139.44" x2="205.69" y2="139.91" stroke="#222" stroke-width="1.25" />
<line x1="238.87" y1="132.77" x2="238.31" y2="134.49" stroke="#222" stroke-width="1.25" />
<line x1="230.21" y1="135.59" x2="230.68" y2="137.42" stroke="#222" stroke-width="1.25" />
<line x1="221.96" y1="140.88" x2="222.22" y2="142.43" stroke="#222" stroke-width="1.25" />
<line x1="205.46" y1="140.28" x2="205.50" y2="141.40" stroke="#222" stroke-width="1.25" />
<line x1="235.81" y1="142.70" x2="235.94" y2="143.69" stroke="#222" stroke-width="1.25" />
<line x1="223.90" y1="132.61" x2="225.32" y2="133.21" stroke="#222" stroke-width="1.25" />
<line x1="208.26" y1="137.63" x2="208.24" y2="138.32" stroke="#222" stroke-width="1.25" />
<line x1="230.59" y1="132.23" x2="229.05" y2="133.95" stroke="#222" stroke-width="1.25" />
<line x1="225.47" y1="131.81" x2="225.45" y2="133.25" stroke="#222" stroke-width="1.25" />
<line x1="243.49" y1="133.04" x2="240.97" y2="134.25" stroke="#222" stroke-width="1.25" />
<line x1="234.52" y1="143.22" x2="236.78" y2="144.80" stroke="#222" stroke-width="1.25" />
<line x1="224.67" y1="145.35" x2="223.74" y2="145.60" stroke="#222" stroke-width="1.25" />
<line x1="236.82" y1="144.96" x2="238.17" y2="145.24" stroke="#222" stroke-width="1.25" />
<line x1="235.50" y1="133.38" x2="234.36" y2="133.77" stroke="#222" stroke-width="1.25" />
<line x1="237.94" y1="133.15" x2="237.92" y2="135.78" stroke="#222" stroke-width="1.25" />
<line x1="213.04" y1="134.94" x2="213.02" y2="136.24" stroke="#222" stroke-width="1.25" />
<line x1="206.01" y1="133.73" x2="208.34" y2="135.02" stroke="#222" stroke-width="1.25" />
<line x1="232.37" y1="144.43" x2="234.37" y2="145.61" stroke="#222" stroke-width="1.25" />
<line x1="209.22" y1="138.96" x2="208.64" y2="140.23" stroke="#222" stroke-width="1.25" />
<line x1="240.29" y1="139.33" x2="239.66" y2="141.79" stroke="#222" stroke-width="1.25" />
<line x1="208.79" y1="145.89" x2="208.21" y2="147.24" stroke="#222" stroke-width="1.25" />
<line x1="237.20" y1="134.97" x2="235.34" y2="135.03" stroke="#222" stroke-width="1.25" />
<line x1="219.27" y1="142.47" x2="219.45" y2="143.44" stroke="#222" stroke-width="1.25" />
<line x1="234.99" y1="131.72" x2="234.01" y2="132.35" stroke="#222" stroke-width="1.25" />
<line x1="230.71" y1="145.76" x2="230.16" y2="147.75" stroke="#222" stroke-width="1.25" />
<line x1="217.32" y1="131.03" x2="218.24" y2="131.13" stroke="#222" stroke-width="1.25" />
<line x1="229.76" y1="137.48" x2="229.66" y2="140.05" stroke="#222" stroke-width="1.25" />
<line x1="209.91" y1="134.41" x2="209.61" y2="134.98" stroke="#222" stroke-width="1.25" />
<line x1="204.61" y1="136.32" x2="205.92" y2="136.78" stroke="#222" stroke-width="1.25" />
<line x1="213.69" y1="139.75" x2="213.40" y2="140.76" stroke="#222" stroke-width="1.25" />
<line x1="230.08" y1="138.12" x2="232.51" y2="139.22" stroke="#222" stroke-width="1.25" />
<line x1="214.49" y1="133.24" x2="216.40" y2="133.83" stroke="#222" stroke-width="1.25" />
<line x1="240.22" y1="142.73" x2="240.58" y2="143.86" stroke="#222" stroke-width="1.25" />
<line x1="204.97" y1="140.67" x2="204.70" y2="142.02" stroke="#222" stroke-width="1.25" />
<line x1="230.97" y1="137.66" x2="228.80" y2="138.09" stroke="#222" stroke-width="1.25" />
<line x1="214.69" y1="144.55" x2="216.44" y2="144.80" stroke="#222" stroke-width="1.25" />
<line x1="221.15" y1="134.57" x2="223.42" y2="134.99" stroke="#222" stroke-width="1.25" />
<line x1="205.01" y1="139.26" x2="204.11" y2="139.43" stroke="#222" stroke-width="1.25" />
<line x1="212.68" y1="140.12" x2="212.64" y2="142.13" stroke="#222" stroke-width="1.25" />
<line x1="237.85" y1="133.62" x2="238.56" y2="134.66" stroke="#222" stroke-width="1.25" />
<line x1="206.49" y1="144.34" x2="204.80" y2="145.71" stroke="#222" stroke-width="1.25" />
<line x1="204.76" y1="143.67" x2="203.63" y2="144.83" stroke="#222" stroke-width="1.25" />
<line x1="234.91" y1="137.79" x2="235.54" y2="138.33" stroke="#222" stroke-width="1.25" />
<line x1="214.02" y1="131.58" x2="215.14" y2="133.54" stroke="#222" stroke-width="1.25" />
<line x1="233.00" y1="143.68" x2="232.27" y2="144.61" stroke="#222" stroke-width="1.25" />
<line x1="227.21" y1="137.54" x2="225.83" y2="138.62" stroke="#222" stroke-width="1.25" />
<line x1="215.38" y1="140.63" x2="214.31" y2="140.75" stroke="#222" stroke-width="1.25" />
<line x1="240.58" y1="131.23" x2="241.35" y2="132.05" stroke="#222" stroke-width="1.25" />
<line x1="235.00" y1="145.17" x2="234.08" y2="146.11" stroke="#222" stroke-width="1.25" />
<line x1="240.59" y1="135.93" x2="242.48" y2="137.70" stroke="#222" stroke-width="1.25" />
<line x1="230.36" y1="141.39" x2="228.99" y2="143.78" stroke="#222" stroke-width="1.25" />
<line x1="223.75" y1="143.60" x2="222.30" y2="145.62" stroke="#222" stroke-width="1.25" />
<line x1="222.43" y1="141.87" x2="222.15" y2="143.12" stroke="#222" stroke-width="1.25" />
<line x1="213.19" y1="140.34" x2="215.72" y2="140.97" stroke="#222" stroke-width="1.25" />
<line x1="210.43" y1="131.40" x2="212.92" y2="132.27" stroke="#222" stroke-width="1.25" />
<line x1="218.64" y1="133.13" x2="219.33" y2="133.19" stroke="#222" stroke-width="1.25" />
<line x1="232.90" y1="140.51" x2="231.61" y2="142.32" stroke="#222" stroke-width="1.25" />
<line x1="207.20" y1="139.86" x2="208.19" y2="142.04" stroke="#222" stroke-width="1.25" />
<line x1="238.10" y1="144.37" x2="240.56" y2="144.89" stroke="#222" stroke-width="1.25" />
<line x1="241.54" y1="139.61" x2="242.50" y2="139.94" stroke="#222" stroke-width="1.4" />
<line x1="227.90" y1="133.24" x2="225.93" y2="134.26" stroke="#222" stroke-width="1.4" />
<line x1="236.78" y1="138.78" x2="236.31" y2="139.85" stroke="#222" stroke-width="1.4" />
<line x1="227.70" y1="133.69" x2="226.97" y2="134.38" stroke="#222" stroke-width="1.4" />
<line x1="231.43" y1="135.97" x2="232.54" y2="136.04" stroke="#222" stroke-width="1.4" />
<line x1="230.80" y1="138.01" x2="231.30" y2="139.15" stroke="#222" stroke-width="1.4" />
<line x1="242.39" y1="136.53" x2="240.75" y2="137.35" stroke="#222" stroke-width="1.4" />
<line x1="226.53" y1="135.89" x2="226.95" y2="137.99" stroke="#222" stroke-width="1.4" />
<line x1="231.90" y1="137.93" x2="231.77" y2="138.96" stroke="#222" stroke-width="1.4" />
<line x1="240.66" y1="133.64" x2="239.86" y2="134.14" stroke="#222" stroke-width="1.4" />
<line x1="226.02" y1="134.41" x2="224.15" y2="136.15" stroke="#222" stroke-width="1.4" />
<line x1="226.07" y1="136.44" x2="226.13" y2="138.63" stroke="#222" stroke-width="1.4" />
<line x1="229.14" y1="136.46" x2="230.18" y2="138.47" stroke="#222" stroke-width="1.4" />
<line x1="230.43" y1="139.61" x2="231.08" y2="140.41" stroke="#222" stroke-width="1.4" />
<line x1="237.89" y1="136.49" x2="239.65" y2="137.12" stroke="#222" stroke-width="1.4" />
<line x1="227.38" y1="138.52" x2="226.11" y2="140.29" stroke="#222" stroke-width="1.4" />
<line x1="236.67" y1="135.49" x2="237.10" y2="136.81" stroke="#222" stroke-width="1.4" />
<line x1="241.14" y1="133.60" x2="240.53" y2="133.83" stroke="#222" stroke-width="1.4" />
<line x1="229.50" y1="134.84" x2="227.98" y2="135.33" stroke="#222" stroke-width="1.4" />
<line x1="232.45" y1="139.19" x2="233.58" y2="140.21" stroke="#222" stroke-width="1.4" />
<line x1="235.04" y1="138.28" x2="233.69" y2="139.61" stroke="#222" stroke-width="1.4" />
<line x1="231.92" y1="135.29" x2="233.94" y2="136.36" stroke="#222" stroke-width="1.4" />
<line x1="237.26" y1="138.19" x2="238.53" y2="138.94" stroke="#222" stroke-width="1.4" />
<line x1="239.15" y1="137.05" x2="240.55" y2="137.64" stroke="#222" stroke-width="1.4" />
<line x1="241.05" y1="134.67" x2="242.04" y2="135.35" stroke="#222" stroke-width="1.4" />
<line x1="237.95" y1="138.91" x2="238.76" y2="139.33" stroke="#222" stroke-width="1.4" />
<line x1="230.21" y1="135.29" x2="230.14" y2="136.21" stroke="#222" stroke-width="1.4" />
<line x1="231.58" y1="134.32" x2="229.53" y2="134.49" stroke="#222" stroke-width="1.4" />
<line x1="227.73" y1="139.74" x2="229.03" y2="140.17" stroke="#222" stroke-width="1.4" />
<line x1="242.73" y1="138.56" x2="241.74" y2="139.66" stroke="#222" stroke-width="1.4" />
<line x1="229.34" y1="137.47" x2="230.29" y2="137.80" stroke="#222" stroke-width="1.4" />
<line x1="232.60" y1="133.24" x2="233.28" y2="135.31" stroke="#222" stroke-width="1.4" />
<line x1="237.79" y1="136.50" x2="237.17" y2="137.90" stroke="#222" stroke-width="1.4" />
<line x1="228.41" y1="137.23" x2="229.02" y2="139.22" stroke="#222" stroke-width="1.4" />
<line x1="241.44" y1="136.01" x2="240.95" y2="138.05" stroke="#222" stroke-width="1.4" />
<line x1="233.16" y1="134.60" x2="231.64" y2="136.41" stroke="#222" stroke-width="1.4" />
<line x1="239.16" y1="137.90" x2="237.41" y2="138.78" stroke="#222" stroke-width="1.4" />
<line x1="236.91" y1="136.18" x2="237.94" y2="137.72" stroke="#222" stroke-width="1.4" />
<line x1="227.66" y1="135.94" x2="226.09" y2="137.22" stroke="#222" stroke-width="1.4" />
<line x1="236.70" y1="134.75" x2="237.06" y2="136.22" stroke="#222" stroke-width="1.4" />
<line x1="236.57" y1="135.87" x2="235.28" y2="137.96" stroke="#222" stroke-width="1.4" />
<line x1="229.11" y1="137.58" x2="228.06" y2="138.47" stroke="#222" stroke-width="1.4" />
<line x1="234.33" y1="139.82" x2="236.00" y2="140.02" stroke="#222" stroke-width="1.4" />
<line x1="228.73" y1="138.47" x2="227.12" y2="138.78" stroke="#222" stroke-width="1.4" />
<line x1="227.72" y1="137.02" x2="227.46" y2="139.04" stroke="#222" stroke-width="1.4" />
<line x1="234.71" y1="137.47" x2="233.30" y2="138.32" stroke="#222" stroke-width="1.4" />
<line x1="232.98" y1="139.64" x2="234.53" y2="140.84" stroke="#222" stroke-width="1.4" />
<line x1="232.67" y1="138.34" x2="235.05" y2="139.30" stroke="#222" stroke-width="1.4" />
<line x1="232.04" y1="133.40" x2="232.95" y2="134.46" stroke="#222" stroke-width="1.4" />
<line x1="226.23" y1="135.93" x2="226.72" y2="137.86" stroke="#222" stroke-width="1.4" />
<line x1="231.99" y1="134.86" x2="233.57" y2="136.21" stroke="#222" stroke-width="1.4" />
<line x1="241.98" y1="136.69" x2="243.68" y2="138.09" stroke="#222" stroke-width="1.4" />
<line x1="232.66" y1="134.48" x2="234.64" y2="135.33" stroke="#222" stroke-width="1.4" />
<line x1="239.76" y1="137.44" x2="239.93" y2="139.16" stroke="#222" stroke-width="1.4" />
<line x1="229.84" y1="139.75" x2="230.68" y2="141.43" stroke="#222" stroke-width="1.4" />
<line x1="239.92" y1="138.71" x2="240.04" y2="139.90" stroke="#222" stroke-width="1.4" />
<line x1="235.32" y1="133.88" x2="234.19" y2="134.53" stroke="#222" stroke-width="1.4" />
<line x1="240.46" y1="134.87" x2="240.88" y2="135.90" stroke="#222" stroke-width="1.4" />
<line x1="233.24" y1="134.30" x2="235.29" y2="134.32" stroke="#222" stroke-width="1.4" />
<line x1="230.78" y1="134.71" x2="231.69" y2="135.98" stroke="#222" stroke-width="1.4" />
<line x1="233.28" y1="137.46" x2="232.65" y2="138.62" stroke="#222" stroke-width="1.4" />
<line x1="241.79" y1="138.98" x2="244.01" y2="139.38" stroke="#222" stroke-width="1.4" />
<line x1="241.40" y1="138.49" x2="243.44" y2="139.45" stroke="#222" stroke-width="1.4" />
<line x1="236.76" y1="133.10" x2="239.27" y2="133.20" stroke="#222" stroke-width="1.4" />
<line x1="237.15" y1="134.75" x2="237.99" y2="135.03" stroke="#222" stroke-width="1.4" />
<line x1="229.97" y1="138.43" x2="230.39" y2="139.24" stroke="#222" stroke-width="1.4" />
<line x1="241.37" y1="138.54" x2="243.43" y2="139.74" stroke="#222" stroke-width="1.4" />
<line x1="236.34" y1="138.47" x2="235.14" y2="140.53" stroke="#222" stroke-width="1.4" />
<line x1="239.40" y1="138.87" x2="241.01" y2="140.03" stroke="#222" stroke-width="1.4" />
<line x1="235.02" y1="138.19" x2="235.48" y2="140.51" stroke="#222" stroke-width="1.4" />
<line x1="226.87" y1="143.45" x2="227.50" y2="144.03" stroke="#222" stroke-width="1.2" />
<line x1="224.76" y1="142.32" x2="224.85" y2="143.18" stroke="#222" stroke-width="1.2" />
<line x1="224.71" y1="144.74" x2="224.44" y2="146.88" stroke="#222" stroke-width="1.2" />
<line x1="208.22" y1="146.62" x2="208.39" y2="148.23" stroke="#222" stroke-width="1.2" />
<line x1="230.62" y1="146.62" x2="231.14" y2="147.87" stroke="#222" stroke-width="1.2" />
<line x1="240.66" y1="142.41" x2="239.93" y2="144.00" stroke="#222" stroke-width="1.2" />
<line x1="208.97" y1="145.35" x2="207.73" y2="147.27" stroke="#222" stroke-width="1.2" />
<line x1="219.24" y1="147.40" x2="219.19" y2="148.87" stroke="#222" stroke-width="1.2" />
<line x1="238.52" y1="142.19" x2="237.42" y2="143.52" stroke="#222" stroke-width="1.2" />
<line x1="219.51" y1="146.74" x2="220.11" y2="148.07" stroke="#222" stroke-width="1.2" />
<line x1="225.87" y1="146.24" x2="226.96" y2="147.09" stroke="#222" stroke-width="1.2" />
<line x1="222.36" y1="145.05" x2="221.40" y2="145.63" stroke="#222" stroke-width="1.2" />
<line x1="236.14" y1="144.22" x2="236.13" y2="145.31" stroke="#222" stroke-width="1.2" />
<line x1="225.22" y1="147.36" x2="224.27" y2="149.15" stroke="#222" stroke-width="1.2" />
<line x1="219.25" y1="143.74" x2="220.23" y2="145.08" stroke="#222" stroke-width="1.2" />
<line x1="229.58" y1="146.31" x2="231.47" y2="146.55" stroke="#222" stroke-width="1.2" />
<line x1="238.11" y1="145.00" x2="239.24" y2="145.18" stroke="#222" stroke-width="1.2" />
<line x1="208.21" y1="143.04" x2="206.57" y2="143.46" stroke="#222" stroke-width="1.2" />
<line x1="230.37" y1="146.34" x2="228.74" y2="146.82" stroke="#222" stroke-width="1.2" />
<line x1="228.97" y1="145.45" x2="228.00" y2="146.81" stroke="#222" stroke-width="1.2" />
<line x1="231.15" y1="143.17" x2="230.44" y2="144.40" stroke="#222" stroke-width="1.2" />
<line x1="233.93" y1="142.56" x2="234.49" y2="142.92" stroke="#222" stroke-width="1.2" />
<line x1="234.33" y1="147.03" x2="233.74" y2="148.14" stroke="#222" stroke-width="1.2" />
<line x1="235.97" y1="146.33" x2="235.76" y2="147.37" stroke="#222" stroke-width="1.2" />
<line x1="218.27" y1="144.32" x2="219.01" y2="145.48" stroke="#222" stroke-width="1.2" />
<line x1="229.82" y1="147.14" x2="231.42" y2="147.41" stroke="#222" stroke-width="1.2" />
<line x1="209.34" y1="142.65" x2="207.99" y2="143.57" stroke="#222" stroke-width="1.2" />
<line x1="239.23" y1="144.46" x2="240.53" y2="144.51" stroke="#222" stroke-width="1.2" />
<line x1="228.13" y1="147.16" x2="226.67" y2="147.25" stroke="#222" stroke-width="1.2" />
<line x1="222.02" y1="142.56" x2="221.59" y2="143.44" stroke="#222" stroke-width="1.2" />
<line x1="213.16" y1="142.09" x2="214.99" y2="142.11" stroke="#222" stroke-width="1.2" />
<line x1="212.14" y1="147.31" x2="214.22" y2="147.91" stroke="#222" stroke-width="1.2" />
<line x1="212.38" y1="142.10" x2="211.73" y2="142.90" stroke="#222" stroke-width="1.2" />
<line x1="232.94" y1="143.03" x2="234.91" y2="143.34" stroke="#222" stroke-width="1.2" />
<line x1="232.26" y1="146.71" x2="231.76" y2="147.27" stroke="#222" stroke-width="1.2" />
<line x1="229.37" y1="145.90" x2="229.65" y2="148.16" stroke="#222" stroke-width="1.2" />
<line x1="216.64" y1="147.30" x2="216.25" y2="147.79" stroke="#222" stroke-width="1.2" />
<line x1="208.50" y1="145.58" x2="207.88" y2="145.98" stroke="#222" stroke-width="1.2" />
<line x1="218.58" y1="146.01" x2="220.44" y2="147.08" stroke="#222" stroke-width="1.2" />
<line x1="224.54" y1="142.33" x2="225.20" y2="143.82" stroke="#222" stroke-width="1.2" />
<line x1="222.92" y1="145.72" x2="224.74" y2="146.62" stroke="#222" stroke-width="1.2" />
<line x1="220.35" y1="145.55" x2="219.82" y2="146.79" stroke="#222" stroke-width="1.2" />
<line x1="221.12" y1="146.32" x2="219.13" y2="146.67" stroke="#222" stroke-width="1.2" />
<line x1="227.27" y1="143.61" x2="229.58" y2="144.05" stroke="#222" stroke-width="1.2" />
<line x1="231.91" y1="146.55" x2="232.76" y2="148.01" stroke="#222" stroke-width="1.2" />
<line x1="241.23" y1="146.57" x2="240.87" y2="147.67" stroke="#222" stroke-width="1.2" />
<line x1="222.57" y1="146.88" x2="223.26" y2="148.58" stroke="#222" stroke-width="1.2" />
<line x1="228.46" y1="146.93" x2="227.55" y2="147.56" stroke="#222" stroke-width="1.2" />
<line x1="208.06" y1="143.45" x2="208.46" y2="145.05" stroke="#222" stroke-width="1.2" />
<line x1="235.74" y1="146.88" x2="237.82" y2="147.16" stroke="#222" stroke-width="1.2" />
<line x1="235.60" y1="146.77" x2="235.35" y2="147.83" stroke="#222" stroke-width="1.2" />
<line x1="236.94" y1="146.44" x2="235.71" y2="148.32" stroke="#222" stroke-width="1.2" />
<line x1="219.79" y1="142.47" x2="219.45" y2="144.47" stroke="#222" stroke-width="1.2" />
<line x1="214.81" y1="146.13" x2="213.82" y2="146.34" stroke="#222" stroke-width="1.2" />
<line x1="228.63" y1="145.73" x2="228.74" y2="146.69" stroke="#222" stroke-width="1.2" />
<line x1="216.66" y1="146.13" x2="215.53" y2="147.00" stroke="#222" stroke-width="1.2" />
<line x1="210.98" y1="146.44" x2="210.21" y2="147.10" stroke="#222" stroke-width="1.2" />
<line x1="227.71" y1="146.93" x2="226.27" y2="147.48" stroke="#222" stroke-width="1.2" />
<line x1="224.20" y1="145.24" x2="224.99" y2="145.77" stroke="#222" stroke-width="1.2" />
<line x1="214.14" y1="145.86" x2="214.82" y2="147.32" stroke="#222" stroke-width="1.2" />
<line x1="205.00" y1="133.00" x2="245.00" y2="133.00" stroke="#222" stroke-width="1.0" />
<line x1="205.00" y1="136.50" x2="245.00" y2="136.50" stroke="#222" stroke-width="0.8" />
<line x1="193.00" y1="140.00" x2="254.00" y2="140.00" stroke="#222" stroke-width="0.8" />
<line x1="203.30" y1="127.60" x2="203.30" y2="133.00" stroke="#222" stroke-width="0.9" />
<line x1="212.50" y1="127.60" x2="212.50" y2="133.00" stroke="#222" stroke-width="0.9" />
<line x1="218.80" y1="127.60" x2="218.80" y2="133.00" stroke="#222" stroke-width="0.9" />
<line x1="231.80" y1="127.60" x2="231.80" y2="133.00" stroke="#222" stroke-width="0.9" />
<line x1="238.80" y1="127.60" x2="238.80" y2="133.00" stroke="#222" stroke-width="0.9" />
<line x1="246.30" y1="127.60" x2="246.30" y2="133.00" stroke="#222" stroke-width="0.9" />
<line x1="224.90" y1="124.00" x2="224.90" y2="133.00" stroke="#222" stroke-width="0.9" />
<line x1="224.90" y1="134.00" x2="222.50" y2="369.00" stroke="#222" stroke-width="0.7" stroke-dasharray="14 2.5 2.5 2.5"/>
<line x1="201.00" y1="195.00" x2="248.20" y2="195.00" stroke="#222" stroke-width="1.3" />
<line x1="201.00" y1="199.50" x2="248.20" y2="199.50" stroke="#222" stroke-width="1.3" />
<line x1="196.00" y1="197.30" x2="251.50" y2="197.30" stroke="#222" stroke-width="0.6" />
<line x1="195.00" y1="218.00" x2="252.00" y2="218.00" stroke="#222" stroke-width="0.7" />
<line x1="195.00" y1="226.30" x2="252.00" y2="226.30" stroke="#222" stroke-width="0.7" />
<line x1="206.30" y1="215.60" x2="243.00" y2="215.60" stroke="#222" stroke-width="1.3" />
<line x1="206.30" y1="220.30" x2="243.00" y2="220.30" stroke="#222" stroke-width="1.1" />
<line x1="206.00" y1="224.00" x2="243.00" y2="224.00" stroke="#222" stroke-width="0.9" />
<line x1="206.00" y1="228.50" x2="243.00" y2="228.50" stroke="#222" stroke-width="0.9" />
<line x1="220.89" y1="224.00" x2="221.50" y2="224.31" stroke="#222" stroke-width="1.1" />
<line x1="242.89" y1="221.92" x2="244.54" y2="222.49" stroke="#222" stroke-width="1.1" />
<line x1="235.13" y1="218.76" x2="234.76" y2="219.93" stroke="#222" stroke-width="1.1" />
<line x1="225.22" y1="216.80" x2="227.59" y2="217.05" stroke="#222" stroke-width="1.1" />
<line x1="238.05" y1="223.55" x2="237.82" y2="224.60" stroke="#222" stroke-width="1.1" />
<line x1="234.83" y1="222.68" x2="232.88" y2="223.01" stroke="#222" stroke-width="1.1" />
<line x1="236.30" y1="230.47" x2="236.76" y2="230.95" stroke="#222" stroke-width="1.1" />
<line x1="213.44" y1="219.12" x2="214.10" y2="219.30" stroke="#222" stroke-width="1.1" />
<line x1="226.62" y1="229.12" x2="226.92" y2="231.41" stroke="#222" stroke-width="1.1" />
<line x1="239.67" y1="217.43" x2="239.27" y2="218.68" stroke="#222" stroke-width="1.1" />
<line x1="210.44" y1="230.41" x2="211.55" y2="231.58" stroke="#222" stroke-width="1.1" />
<line x1="229.70" y1="230.37" x2="229.04" y2="231.49" stroke="#222" stroke-width="1.1" />
<line x1="222.59" y1="218.82" x2="220.22" y2="219.07" stroke="#222" stroke-width="1.1" />
<line x1="214.20" y1="217.06" x2="215.06" y2="217.95" stroke="#222" stroke-width="1.1" />
<line x1="239.40" y1="229.62" x2="238.80" y2="229.95" stroke="#222" stroke-width="1.1" />
<line x1="235.10" y1="226.79" x2="234.04" y2="228.92" stroke="#222" stroke-width="1.1" />
<line x1="208.06" y1="218.60" x2="206.42" y2="220.19" stroke="#222" stroke-width="1.1" />
<line x1="231.04" y1="220.83" x2="230.49" y2="222.72" stroke="#222" stroke-width="1.1" />
<line x1="209.90" y1="221.20" x2="210.47" y2="221.79" stroke="#222" stroke-width="1.1" />
<line x1="223.81" y1="218.94" x2="224.44" y2="219.53" stroke="#222" stroke-width="1.1" />
<line x1="231.07" y1="216.68" x2="230.47" y2="217.42" stroke="#222" stroke-width="1.1" />
<line x1="207.33" y1="229.95" x2="209.09" y2="231.41" stroke="#222" stroke-width="1.1" />
<line x1="238.07" y1="229.39" x2="239.34" y2="229.98" stroke="#222" stroke-width="1.1" />
<line x1="209.59" y1="229.97" x2="208.07" y2="230.79" stroke="#222" stroke-width="1.1" />
<line x1="222.74" y1="221.43" x2="221.50" y2="222.20" stroke="#222" stroke-width="1.1" />
<line x1="229.24" y1="218.57" x2="229.78" y2="219.02" stroke="#222" stroke-width="1.1" />
<line x1="232.41" y1="224.52" x2="234.35" y2="225.48" stroke="#222" stroke-width="1.1" />
<line x1="215.86" y1="222.47" x2="216.82" y2="222.98" stroke="#222" stroke-width="1.1" />
<line x1="237.06" y1="221.35" x2="238.35" y2="222.10" stroke="#222" stroke-width="1.1" />
<line x1="217.77" y1="229.60" x2="219.98" y2="230.42" stroke="#222" stroke-width="1.1" />
<line x1="208.10" y1="229.48" x2="207.61" y2="230.32" stroke="#222" stroke-width="1.1" />
<line x1="223.67" y1="220.65" x2="224.33" y2="221.35" stroke="#222" stroke-width="1.1" />
<line x1="219.48" y1="230.87" x2="217.21" y2="230.88" stroke="#222" stroke-width="1.1" />
<line x1="209.61" y1="220.70" x2="208.94" y2="220.92" stroke="#222" stroke-width="1.1" />
<line x1="232.88" y1="220.76" x2="232.25" y2="220.80" stroke="#222" stroke-width="1.1" />
<line x1="235.86" y1="221.44" x2="236.41" y2="221.70" stroke="#222" stroke-width="1.1" />
<line x1="236.79" y1="224.14" x2="237.95" y2="224.90" stroke="#222" stroke-width="1.1" />
<line x1="239.74" y1="219.66" x2="239.55" y2="220.49" stroke="#222" stroke-width="1.1" />
<line x1="212.66" y1="227.67" x2="212.08" y2="228.42" stroke="#222" stroke-width="1.1" />
<line x1="208.93" y1="217.77" x2="208.43" y2="219.17" stroke="#222" stroke-width="1.1" />
<line x1="216.13" y1="219.49" x2="215.49" y2="221.25" stroke="#222" stroke-width="1.1" />
<line x1="236.03" y1="224.95" x2="236.61" y2="225.38" stroke="#222" stroke-width="1.1" />
<line x1="233.11" y1="222.42" x2="232.66" y2="222.95" stroke="#222" stroke-width="1.1" />
<line x1="235.99" y1="221.36" x2="234.10" y2="222.39" stroke="#222" stroke-width="1.1" />
<line x1="224.24" y1="216.72" x2="222.84" y2="217.13" stroke="#222" stroke-width="1.1" />
<line x1="238.26" y1="220.36" x2="240.01" y2="221.52" stroke="#222" stroke-width="1.1" />
<line x1="219.58" y1="218.87" x2="220.24" y2="220.41" stroke="#222" stroke-width="1.1" />
<line x1="206.17" y1="224.04" x2="206.43" y2="225.54" stroke="#222" stroke-width="1.1" />
<line x1="210.47" y1="226.86" x2="208.66" y2="228.04" stroke="#222" stroke-width="1.1" />
<line x1="217.88" y1="226.81" x2="218.59" y2="228.63" stroke="#222" stroke-width="1.1" />
<line x1="208.26" y1="229.16" x2="206.79" y2="229.37" stroke="#222" stroke-width="1.1" />
<line x1="224.99" y1="224.19" x2="224.92" y2="224.83" stroke="#222" stroke-width="1.1" />
<line x1="241.79" y1="219.74" x2="242.45" y2="220.17" stroke="#222" stroke-width="1.1" />
<line x1="215.27" y1="228.35" x2="216.04" y2="228.42" stroke="#222" stroke-width="1.1" />
<line x1="231.86" y1="219.33" x2="233.54" y2="219.42" stroke="#222" stroke-width="1.1" />
<line x1="227.33" y1="224.08" x2="226.86" y2="224.71" stroke="#222" stroke-width="1.1" />
<line x1="238.17" y1="226.90" x2="238.99" y2="227.01" stroke="#222" stroke-width="1.1" />
<line x1="224.26" y1="223.76" x2="224.79" y2="224.39" stroke="#222" stroke-width="1.1" />
<line x1="221.01" y1="218.49" x2="220.40" y2="220.55" stroke="#222" stroke-width="1.1" />
<line x1="211.45" y1="224.81" x2="210.82" y2="225.45" stroke="#222" stroke-width="1.1" />
<line x1="236.56" y1="230.09" x2="237.03" y2="231.37" stroke="#222" stroke-width="1.1" />
<line x1="237.07" y1="224.12" x2="237.81" y2="226.29" stroke="#222" stroke-width="1.1" />
<line x1="234.75" y1="221.41" x2="235.62" y2="222.23" stroke="#222" stroke-width="1.1" />
<line x1="222.12" y1="230.73" x2="220.28" y2="232.02" stroke="#222" stroke-width="1.1" />
<line x1="236.16" y1="228.79" x2="237.67" y2="229.05" stroke="#222" stroke-width="1.1" />
<line x1="241.44" y1="230.05" x2="242.40" y2="231.01" stroke="#222" stroke-width="1.1" />
<line x1="229.41" y1="221.78" x2="229.34" y2="222.51" stroke="#222" stroke-width="1.1" />
<line x1="222.02" y1="223.82" x2="222.87" y2="223.87" stroke="#222" stroke-width="1.1" />
<line x1="241.88" y1="227.76" x2="240.17" y2="228.10" stroke="#222" stroke-width="1.1" />
<line x1="235.94" y1="229.32" x2="235.32" y2="229.56" stroke="#222" stroke-width="1.1" />
<line x1="229.74" y1="220.35" x2="229.16" y2="221.28" stroke="#222" stroke-width="1.1" />
<line x1="226.06" y1="229.90" x2="225.67" y2="230.88" stroke="#222" stroke-width="1.1" />
<line x1="225.25" y1="222.79" x2="224.15" y2="222.96" stroke="#222" stroke-width="1.1" />
<line x1="217.30" y1="225.89" x2="218.85" y2="226.51" stroke="#222" stroke-width="1.1" />
<line x1="241.38" y1="223.95" x2="242.33" y2="225.02" stroke="#222" stroke-width="1.1" />
<line x1="225.75" y1="218.65" x2="226.53" y2="218.97" stroke="#222" stroke-width="1.1" />
<line x1="216.86" y1="222.39" x2="217.50" y2="223.21" stroke="#222" stroke-width="1.1" />
<line x1="209.25" y1="224.42" x2="207.76" y2="225.24" stroke="#222" stroke-width="1.1" />
<line x1="227.10" y1="225.93" x2="228.61" y2="227.04" stroke="#222" stroke-width="1.1" />
<line x1="223.05" y1="224.45" x2="222.55" y2="225.80" stroke="#222" stroke-width="1.1" />
<line x1="217.49" y1="220.01" x2="218.66" y2="220.99" stroke="#222" stroke-width="1.1" />
<line x1="220.18" y1="224.99" x2="221.41" y2="225.04" stroke="#222" stroke-width="1.1" />
<line x1="237.89" y1="219.96" x2="237.63" y2="221.42" stroke="#222" stroke-width="1.1" />
<line x1="216.54" y1="230.82" x2="217.73" y2="232.41" stroke="#222" stroke-width="1.1" />
<line x1="211.87" y1="217.47" x2="210.59" y2="218.02" stroke="#222" stroke-width="1.1" />
<line x1="208.29" y1="222.12" x2="208.66" y2="224.01" stroke="#222" stroke-width="1.1" />
<line x1="210.04" y1="219.76" x2="208.13" y2="220.01" stroke="#222" stroke-width="1.1" />
<line x1="211.72" y1="221.39" x2="212.53" y2="223.01" stroke="#222" stroke-width="1.1" />
<line x1="228.80" y1="228.82" x2="227.51" y2="229.64" stroke="#222" stroke-width="1.1" />
<line x1="233.33" y1="227.28" x2="232.27" y2="228.27" stroke="#222" stroke-width="1.1" />
<line x1="235.04" y1="226.77" x2="234.24" y2="226.99" stroke="#222" stroke-width="1.1" />
<line x1="238.22" y1="216.56" x2="236.99" y2="217.67" stroke="#222" stroke-width="1.1" />
<line x1="224.42" y1="230.46" x2="224.12" y2="231.78" stroke="#222" stroke-width="1.1" />
<line x1="235.00" y1="229.16" x2="234.57" y2="230.37" stroke="#222" stroke-width="1.1" />
<line x1="222.73" y1="223.14" x2="222.01" y2="224.00" stroke="#222" stroke-width="1.1" />
<line x1="220.46" y1="224.55" x2="220.87" y2="225.66" stroke="#222" stroke-width="1.1" />
<line x1="235.12" y1="228.82" x2="235.12" y2="230.22" stroke="#222" stroke-width="1.1" />
<line x1="212.82" y1="220.91" x2="214.28" y2="221.63" stroke="#222" stroke-width="1.1" />
<line x1="227.52" y1="217.77" x2="226.37" y2="218.07" stroke="#222" stroke-width="1.1" />
<line x1="237.21" y1="228.65" x2="236.25" y2="228.78" stroke="#222" stroke-width="1.1" />
<line x1="221.78" y1="229.70" x2="222.46" y2="229.73" stroke="#222" stroke-width="1.1" />
<line x1="226.90" y1="223.71" x2="224.97" y2="224.20" stroke="#222" stroke-width="1.1" />
<line x1="225.92" y1="230.98" x2="225.84" y2="232.50" stroke="#222" stroke-width="1.1" />
<line x1="231.35" y1="222.15" x2="232.08" y2="223.65" stroke="#222" stroke-width="1.1" />
<line x1="218.99" y1="230.24" x2="218.18" y2="231.56" stroke="#222" stroke-width="1.1" />
<line x1="209.66" y1="221.93" x2="210.16" y2="223.46" stroke="#222" stroke-width="1.1" />
<line x1="227.24" y1="229.26" x2="225.77" y2="229.42" stroke="#222" stroke-width="1.1" />
<line x1="222.29" y1="225.56" x2="221.07" y2="225.57" stroke="#222" stroke-width="1.1" />
<line x1="225.62" y1="228.33" x2="226.62" y2="228.93" stroke="#222" stroke-width="1.1" />
<line x1="242.20" y1="228.48" x2="242.17" y2="229.28" stroke="#222" stroke-width="1.1" />
<line x1="239.10" y1="226.50" x2="237.08" y2="227.78" stroke="#222" stroke-width="1.1" />
<line x1="238.86" y1="222.60" x2="239.85" y2="223.13" stroke="#222" stroke-width="1.1" />
<line x1="224.93" y1="223.82" x2="225.70" y2="224.34" stroke="#222" stroke-width="1.1" />
<line x1="229.31" y1="225.25" x2="230.38" y2="227.38" stroke="#222" stroke-width="1.1" />
<line x1="229.55" y1="217.11" x2="230.11" y2="219.05" stroke="#222" stroke-width="1.1" />
<line x1="217.35" y1="226.52" x2="218.50" y2="226.53" stroke="#222" stroke-width="1.1" />
<line x1="237.16" y1="225.00" x2="236.68" y2="225.82" stroke="#222" stroke-width="1.1" />
<line x1="224.42" y1="224.52" x2="225.60" y2="225.83" stroke="#222" stroke-width="1.1" />
<line x1="225.67" y1="230.96" x2="225.35" y2="232.26" stroke="#222" stroke-width="1.1" />
<line x1="210.50" y1="218.77" x2="209.92" y2="219.32" stroke="#222" stroke-width="1.1" />
<line x1="209.70" y1="218.97" x2="209.56" y2="221.05" stroke="#222" stroke-width="1.1" />
<line x1="228.68" y1="228.20" x2="229.29" y2="228.32" stroke="#222" stroke-width="1.1" />
<line x1="234.51" y1="221.18" x2="233.74" y2="222.15" stroke="#222" stroke-width="1.1" />
<line x1="212.27" y1="220.37" x2="214.39" y2="221.05" stroke="#222" stroke-width="1.1" />
<line x1="227.54" y1="221.56" x2="227.75" y2="222.84" stroke="#222" stroke-width="1.1" />
<line x1="208.02" y1="229.41" x2="207.43" y2="231.66" stroke="#222" stroke-width="1.1" />
<line x1="222.27" y1="225.49" x2="222.75" y2="225.97" stroke="#222" stroke-width="1.1" />
<line x1="240.44" y1="228.89" x2="241.66" y2="230.75" stroke="#222" stroke-width="1.1" />
<line x1="236.19" y1="220.90" x2="235.45" y2="223.11" stroke="#222" stroke-width="1.1" />
<line x1="224.34" y1="230.27" x2="225.28" y2="231.17" stroke="#222" stroke-width="1.1" />
<rect x="215.80" y="226.50" width="5.20" height="5.00" rx="0" stroke="#222" stroke-width="0.9" fill="none"/>
<rect x="229.50" y="226.50" width="5.50" height="5.00" rx="0" stroke="#222" stroke-width="0.9" fill="none"/>
<path d="M157.50,337.50 L157.50,264.00 L176.20,243.00 L201.00,241.20 L248.20,241.00 L271.30,243.00 L287.00,260.50 L287.00,337.50" stroke="#222" stroke-width="1.5" fill="none" stroke-linejoin="round" stroke-linecap="round" />
<path d="M178.5,246.3 L200.0,245.2 Q201.6,245.2 201.6,247 L202.0,287 Q202,288.8 200.3,288.8 L165.5,289.5 Q163.8,289.5 163.7,287.8 L163.0,267.5 Q163,266 164,264.8 L176.5,247.3 Q177.3,246.3 178.5,246.3 Z" stroke="#222" stroke-width="1.5" fill="none" stroke-linejoin="round" stroke-linecap="round" />
<line x1="157.50" y1="295.50" x2="208.00" y2="295.50" stroke="#222" stroke-width="1.2" />
<line x1="208.00" y1="241.00" x2="208.00" y2="315.00" stroke="#222" stroke-width="1.2" />
<line x1="210.30" y1="241.00" x2="210.30" y2="312.00" stroke="#222" stroke-width="0.9" />
<line x1="243.00" y1="241.00" x2="243.00" y2="276.60" stroke="#222" stroke-width="1.1" />
<line x1="246.30" y1="241.00" x2="246.30" y2="315.00" stroke="#222" stroke-width="1.2" />
<line x1="246.30" y1="277.50" x2="287.00" y2="277.50" stroke="#222" stroke-width="1.3" />
<line x1="210.30" y1="275.20" x2="243.00" y2="275.20" stroke="#222" stroke-width="1.1" />
<path d="M214.5,286.3 L235,286.3 Q237,286.3 237,288.3 L237,303.8 L212.5,303.8 L212.5,288.3 Q212.5,286.3 214.5,286.3 Z" stroke="#222" stroke-width="1.4" fill="none" stroke-linejoin="round" stroke-linecap="round" />
<rect x="209.00" y="291.00" width="3.50" height="10.00" rx="1" stroke="#222" stroke-width="1.1" fill="none"/>
<rect x="237.00" y="291.00" width="3.30" height="10.00" rx="1" stroke="#222" stroke-width="1.1" fill="none"/>
<line x1="213.60" y1="303.80" x2="213.60" y2="312.20" stroke="#222" stroke-width="1.2" />
<line x1="235.20" y1="303.80" x2="235.20" y2="312.20" stroke="#222" stroke-width="1.2" />
<line x1="213.00" y1="289.20" x2="236.50" y2="289.20" stroke="#222" stroke-width="0.8" />
<path d="M213.60,312.20 L209.00,312.40 L205.00,317.60 L204.60,318.70" stroke="#222" stroke-width="1.2" fill="none" stroke-linejoin="round" stroke-linecap="round" />
<path d="M235.20,312.20 L239.50,312.40 L242.60,317.60 L243.00,318.70" stroke="#222" stroke-width="1.2" fill="none" stroke-linejoin="round" stroke-linecap="round" />
<line x1="209.00" y1="315.50" x2="240.50" y2="315.50" stroke="#222" stroke-width="0.8" />
<rect x="162.00" y="318.80" width="118.00" height="10.00" rx="0" stroke="#222" stroke-width="1.3" fill="none"/>
<line x1="205.50" y1="319.00" x2="205.50" y2="328.50" stroke="#222" stroke-width="0.8" />
<line x1="212.00" y1="319.00" x2="212.00" y2="328.50" stroke="#222" stroke-width="0.8" />
<line x1="218.50" y1="319.00" x2="218.50" y2="328.50" stroke="#222" stroke-width="0.8" />
<line x1="225.50" y1="319.00" x2="225.50" y2="328.50" stroke="#222" stroke-width="0.8" />
<line x1="232.00" y1="319.00" x2="232.00" y2="328.50" stroke="#222" stroke-width="0.8" />
<line x1="238.50" y1="319.00" x2="238.50" y2="328.50" stroke="#222" stroke-width="0.8" />
<line x1="244.00" y1="319.00" x2="244.00" y2="328.50" stroke="#222" stroke-width="0.8" />
<line x1="193.54" y1="321.88" x2="194.77" y2="323.68" stroke="#222" stroke-width="1.1" />
<line x1="191.09" y1="326.22" x2="191.74" y2="326.86" stroke="#222" stroke-width="1.1" />
<line x1="189.76" y1="321.62" x2="188.64" y2="321.72" stroke="#222" stroke-width="1.1" />
<line x1="191.90" y1="321.07" x2="191.76" y2="322.36" stroke="#222" stroke-width="1.1" />
<line x1="190.23" y1="320.70" x2="192.17" y2="321.49" stroke="#222" stroke-width="1.1" />
<line x1="189.69" y1="322.06" x2="190.60" y2="322.69" stroke="#222" stroke-width="1.1" />
<line x1="188.49" y1="320.47" x2="187.89" y2="321.52" stroke="#222" stroke-width="1.1" />
<line x1="187.64" y1="325.56" x2="188.68" y2="325.88" stroke="#222" stroke-width="1.1" />
<line x1="194.77" y1="321.17" x2="195.14" y2="323.24" stroke="#222" stroke-width="1.1" />
<line x1="194.45" y1="321.41" x2="195.30" y2="323.11" stroke="#222" stroke-width="1.1" />
<line x1="189.96" y1="327.48" x2="191.79" y2="328.89" stroke="#222" stroke-width="1.1" />
<line x1="191.30" y1="321.93" x2="191.42" y2="322.75" stroke="#222" stroke-width="1.1" />
<line x1="193.42" y1="322.18" x2="191.84" y2="322.70" stroke="#222" stroke-width="1.1" />
<line x1="189.86" y1="322.07" x2="189.54" y2="323.00" stroke="#222" stroke-width="1.1" />
<line x1="195.16" y1="321.13" x2="195.10" y2="322.71" stroke="#222" stroke-width="1.1" />
<line x1="188.84" y1="326.07" x2="189.47" y2="327.73" stroke="#222" stroke-width="1.1" />
<line x1="191.96" y1="322.56" x2="192.22" y2="323.27" stroke="#222" stroke-width="1.1" />
<line x1="187.86" y1="326.67" x2="188.81" y2="328.18" stroke="#222" stroke-width="1.1" />
<line x1="187.14" y1="324.47" x2="187.78" y2="325.83" stroke="#222" stroke-width="1.1" />
<line x1="189.12" y1="320.70" x2="189.68" y2="321.54" stroke="#222" stroke-width="1.1" />
<line x1="187.32" y1="325.65" x2="188.16" y2="326.67" stroke="#222" stroke-width="1.1" />
<line x1="195.54" y1="326.09" x2="193.54" y2="326.86" stroke="#222" stroke-width="1.1" />
<line x1="187.39" y1="322.30" x2="189.20" y2="322.47" stroke="#222" stroke-width="1.1" />
<line x1="192.97" y1="322.87" x2="193.45" y2="324.59" stroke="#222" stroke-width="1.1" />
<line x1="193.34" y1="322.09" x2="192.25" y2="322.66" stroke="#222" stroke-width="1.1" />
<line x1="192.60" y1="321.58" x2="194.70" y2="322.37" stroke="#222" stroke-width="1.1" />
<line x1="193.71" y1="325.62" x2="194.37" y2="325.70" stroke="#222" stroke-width="1.1" />
<line x1="187.70" y1="321.71" x2="188.45" y2="322.75" stroke="#222" stroke-width="1.1" />
<line x1="186.41" y1="322.56" x2="186.02" y2="323.40" stroke="#222" stroke-width="1.1" />
<line x1="194.81" y1="324.53" x2="194.15" y2="325.36" stroke="#222" stroke-width="1.1" />
<line x1="190.57" y1="325.40" x2="190.84" y2="325.94" stroke="#222" stroke-width="1.1" />
<line x1="194.76" y1="326.10" x2="195.18" y2="326.63" stroke="#222" stroke-width="1.1" />
<line x1="194.97" y1="324.82" x2="196.00" y2="324.97" stroke="#222" stroke-width="1.1" />
<line x1="187.17" y1="326.21" x2="188.94" y2="327.59" stroke="#222" stroke-width="1.1" />
<line x1="193.87" y1="320.85" x2="193.12" y2="321.93" stroke="#222" stroke-width="1.1" />
<line x1="193.85" y1="326.50" x2="194.33" y2="327.09" stroke="#222" stroke-width="1.1" />
<line x1="195.94" y1="323.42" x2="194.14" y2="323.82" stroke="#222" stroke-width="1.1" />
<line x1="193.76" y1="326.51" x2="193.20" y2="327.81" stroke="#222" stroke-width="1.1" />
<line x1="186.57" y1="325.51" x2="186.91" y2="326.99" stroke="#222" stroke-width="1.1" />
<line x1="195.75" y1="321.17" x2="195.25" y2="321.63" stroke="#222" stroke-width="1.1" />
<line x1="193.38" y1="326.32" x2="194.46" y2="327.48" stroke="#222" stroke-width="1.1" />
<line x1="196.18" y1="325.05" x2="196.03" y2="326.08" stroke="#222" stroke-width="1.1" />
<line x1="249.18" y1="322.92" x2="249.45" y2="323.85" stroke="#222" stroke-width="1.1" />
<line x1="252.07" y1="321.24" x2="250.98" y2="322.68" stroke="#222" stroke-width="1.1" />
<line x1="251.24" y1="322.04" x2="251.17" y2="323.44" stroke="#222" stroke-width="1.1" />
<line x1="259.26" y1="322.87" x2="260.55" y2="324.64" stroke="#222" stroke-width="1.1" />
<line x1="250.13" y1="324.48" x2="251.16" y2="326.27" stroke="#222" stroke-width="1.1" />
<line x1="254.80" y1="325.98" x2="256.36" y2="326.89" stroke="#222" stroke-width="1.1" />
<line x1="255.38" y1="323.70" x2="253.83" y2="325.11" stroke="#222" stroke-width="1.1" />
<line x1="249.82" y1="322.40" x2="250.23" y2="323.28" stroke="#222" stroke-width="1.1" />
<line x1="249.19" y1="322.33" x2="250.71" y2="323.42" stroke="#222" stroke-width="1.1" />
<line x1="253.65" y1="321.06" x2="254.41" y2="322.29" stroke="#222" stroke-width="1.1" />
<line x1="252.67" y1="321.48" x2="253.28" y2="321.62" stroke="#222" stroke-width="1.1" />
<line x1="259.91" y1="325.90" x2="261.73" y2="326.40" stroke="#222" stroke-width="1.1" />
<line x1="259.77" y1="324.48" x2="261.17" y2="324.98" stroke="#222" stroke-width="1.1" />
<line x1="253.49" y1="321.64" x2="253.41" y2="322.25" stroke="#222" stroke-width="1.1" />
<line x1="259.07" y1="325.10" x2="258.18" y2="327.20" stroke="#222" stroke-width="1.1" />
<line x1="256.00" y1="322.11" x2="256.61" y2="322.70" stroke="#222" stroke-width="1.1" />
<line x1="248.82" y1="326.09" x2="247.83" y2="326.63" stroke="#222" stroke-width="1.1" />
<line x1="250.64" y1="325.05" x2="248.63" y2="326.11" stroke="#222" stroke-width="1.1" />
<line x1="250.44" y1="326.16" x2="248.77" y2="327.15" stroke="#222" stroke-width="1.1" />
<line x1="252.26" y1="321.60" x2="251.25" y2="322.22" stroke="#222" stroke-width="1.1" />
<line x1="252.74" y1="324.39" x2="253.58" y2="326.31" stroke="#222" stroke-width="1.1" />
<line x1="251.25" y1="320.51" x2="250.89" y2="322.21" stroke="#222" stroke-width="1.1" />
<line x1="257.93" y1="325.56" x2="255.73" y2="326.24" stroke="#222" stroke-width="1.1" />
<line x1="254.19" y1="324.00" x2="255.19" y2="324.54" stroke="#222" stroke-width="1.1" />
<line x1="255.18" y1="320.81" x2="254.68" y2="321.55" stroke="#222" stroke-width="1.1" />
<line x1="253.60" y1="327.57" x2="254.24" y2="327.76" stroke="#222" stroke-width="1.1" />
<line x1="253.55" y1="321.65" x2="253.16" y2="322.11" stroke="#222" stroke-width="1.1" />
<line x1="258.17" y1="326.70" x2="257.10" y2="327.55" stroke="#222" stroke-width="1.1" />
<line x1="251.76" y1="325.23" x2="251.70" y2="326.59" stroke="#222" stroke-width="1.1" />
<line x1="252.39" y1="323.53" x2="251.35" y2="325.34" stroke="#222" stroke-width="1.1" />
<line x1="258.90" y1="321.45" x2="259.73" y2="322.57" stroke="#222" stroke-width="1.1" />
<line x1="254.98" y1="322.85" x2="255.59" y2="323.28" stroke="#222" stroke-width="1.1" />
<line x1="252.22" y1="323.70" x2="250.00" y2="323.90" stroke="#222" stroke-width="1.1" />
<line x1="258.45" y1="327.61" x2="256.75" y2="327.81" stroke="#222" stroke-width="1.1" />
<line x1="257.83" y1="320.66" x2="256.94" y2="322.10" stroke="#222" stroke-width="1.1" />
<line x1="251.92" y1="324.54" x2="250.47" y2="324.76" stroke="#222" stroke-width="1.1" />
<line x1="255.94" y1="322.47" x2="256.98" y2="324.41" stroke="#222" stroke-width="1.1" />
<line x1="248.82" y1="321.64" x2="248.07" y2="322.82" stroke="#222" stroke-width="1.1" />
<line x1="249.48" y1="325.22" x2="250.12" y2="326.73" stroke="#222" stroke-width="1.1" />
<line x1="253.29" y1="324.23" x2="253.02" y2="325.51" stroke="#222" stroke-width="1.1" />
<line x1="249.81" y1="321.57" x2="248.32" y2="322.11" stroke="#222" stroke-width="1.1" />
<line x1="249.79" y1="326.75" x2="250.33" y2="327.30" stroke="#222" stroke-width="1.1" />
<line x1="254.60" y1="322.11" x2="254.66" y2="323.71" stroke="#222" stroke-width="1.1" />
<line x1="251.11" y1="324.55" x2="252.53" y2="325.08" stroke="#222" stroke-width="1.1" />
<line x1="181.00" y1="323.80" x2="203.00" y2="323.80" stroke="#222" stroke-width="0.6" />
<line x1="244.00" y1="323.80" x2="266.00" y2="323.80" stroke="#222" stroke-width="0.6" />
<line x1="192.00" y1="317.00" x2="192.00" y2="330.00" stroke="#222" stroke-width="0.6" />
<line x1="254.50" y1="316.00" x2="254.50" y2="330.00" stroke="#222" stroke-width="0.6" />
<rect x="157.00" y="329.60" width="130.20" height="7.80" rx="0" stroke="#222" stroke-width="1.4" fill="none"/>
<path d="M180.50,331.40 L267.20,331.40 L264.50,336.00 L183.00,336.00 Z" stroke="#222" stroke-width="1.1" fill="none" stroke-linejoin="round" stroke-linecap="round" />
<path d="M222.50,329.80 L220.40,335.40 L224.60,335.40 Z" stroke="#222" stroke-width="0.9" fill="none" stroke-linejoin="round" stroke-linecap="round" />
<line x1="193.00" y1="338.80" x2="252.80" y2="338.80" stroke="#222" stroke-width="1.1" />
<path d="M192.50,343.00 L192.50,362.60 L253.00,362.60 L253.00,343.00" stroke="#222" stroke-width="1.3" fill="none" stroke-linejoin="round" stroke-linecap="round" />
<line x1="192.50" y1="343.20" x2="253.00" y2="343.20" stroke="#222" stroke-width="1.2" />
<path d="M182.50,348.00 L187.50,347.30 L192.50,343.40" stroke="#222" stroke-width="1.1" fill="none" stroke-linejoin="round" stroke-linecap="round" />
<path d="M182.50,352.00 L188.50,351.50 L192.50,347.50" stroke="#222" stroke-width="1.0" fill="none" stroke-linejoin="round" stroke-linecap="round" />
<path d="M263.00,348.00 L258.00,347.30 L253.00,343.40" stroke="#222" stroke-width="1.1" fill="none" stroke-linejoin="round" stroke-linecap="round" />
<path d="M263.00,352.00 L257.00,351.50 L253.00,347.50" stroke="#222" stroke-width="1.0" fill="none" stroke-linejoin="round" stroke-linecap="round" />
<path d="M183,363.8 L198.8,363.8 L197.6,367.5 Q196.8,369.6 194.5,369.6 L186,369.6 Q183.6,369.6 183,367 Z" stroke="#222" stroke-width="1.2" fill="none" stroke-linejoin="round" stroke-linecap="round" />
<path d="M263,363.8 L247.3,363.8 L248.4,367.5 Q249.2,369.6 251.5,369.6 L260,369.6 Q262.4,369.6 263,367 Z" stroke="#222" stroke-width="1.2" fill="none" stroke-linejoin="round" stroke-linecap="round" />
<line x1="154.50" y1="344.50" x2="154.50" y2="381.30" stroke="#222" stroke-width="1.2" />
<line x1="182.50" y1="344.50" x2="182.50" y2="381.30" stroke="#222" stroke-width="1.2" />
<line x1="154.50" y1="344.60" x2="182.50" y2="344.60" stroke="#222" stroke-width="1.6" />
<line x1="154.50" y1="349.20" x2="182.50" y2="349.20" stroke="#222" stroke-width="1.6" />
<line x1="154.50" y1="353.80" x2="182.50" y2="353.80" stroke="#222" stroke-width="1.6" />
<line x1="154.50" y1="358.40" x2="182.50" y2="358.40" stroke="#222" stroke-width="1.6" />
<line x1="154.50" y1="363.00" x2="182.50" y2="363.00" stroke="#222" stroke-width="1.6" />
<line x1="154.50" y1="367.60" x2="182.50" y2="367.60" stroke="#222" stroke-width="1.6" />
<line x1="154.50" y1="372.20" x2="182.50" y2="372.20" stroke="#222" stroke-width="1.6" />
<line x1="154.50" y1="376.80" x2="182.50" y2="376.80" stroke="#222" stroke-width="1.6" />
<line x1="154.50" y1="381.40" x2="182.50" y2="381.40" stroke="#222" stroke-width="1.6" />
<line x1="263.00" y1="344.50" x2="263.00" y2="381.30" stroke="#222" stroke-width="1.2" />
<line x1="290.50" y1="344.50" x2="290.50" y2="381.30" stroke="#222" stroke-width="1.2" />
<line x1="263.00" y1="344.60" x2="290.50" y2="344.60" stroke="#222" stroke-width="1.6" />
<line x1="263.00" y1="349.20" x2="290.50" y2="349.20" stroke="#222" stroke-width="1.6" />
<line x1="263.00" y1="353.80" x2="290.50" y2="353.80" stroke="#222" stroke-width="1.6" />
<line x1="263.00" y1="358.40" x2="290.50" y2="358.40" stroke="#222" stroke-width="1.6" />
<line x1="263.00" y1="363.00" x2="290.50" y2="363.00" stroke="#222" stroke-width="1.6" />
<line x1="263.00" y1="367.60" x2="290.50" y2="367.60" stroke="#222" stroke-width="1.6" />
<line x1="263.00" y1="372.20" x2="290.50" y2="372.20" stroke="#222" stroke-width="1.6" />
<line x1="263.00" y1="376.80" x2="290.50" y2="376.80" stroke="#222" stroke-width="1.6" />
<line x1="263.00" y1="381.40" x2="290.50" y2="381.40" stroke="#222" stroke-width="1.6" />
<line x1="168.80" y1="341.00" x2="168.80" y2="385.00" stroke="#222" stroke-width="0.7" />
<line x1="277.00" y1="341.00" x2="277.00" y2="385.00" stroke="#222" stroke-width="0.7" />
<line x1="383.80" y1="237.50" x2="383.80" y2="318.00" stroke="#222" stroke-width="1.2" />
<line x1="387.60" y1="244.00" x2="387.60" y2="317.50" stroke="#222" stroke-width="0.8" />
<line x1="390.50" y1="244.50" x2="390.50" y2="317.50" stroke="#222" stroke-width="1.2" />
<line x1="386.30" y1="240.50" x2="386.30" y2="317.00" stroke="#333" stroke-width="2.1" stroke-dasharray="2.6 0.9"/>
<line x1="386.30" y1="241.00" x2="386.30" y2="316.00" stroke="#ddd" stroke-width="0.6" stroke-dasharray="1 3.3"/>
<line x1="388.00" y1="240.00" x2="578.80" y2="241.80" stroke="#222" stroke-width="1.3" />
<line x1="390.50" y1="244.30" x2="579.50" y2="245.60" stroke="#222" stroke-width="1.2" />
<line x1="390.00" y1="241.70" x2="578.60" y2="243.50" stroke="#2a2a2a" stroke-width="2.4" stroke-dasharray="3.1 0.8 1.6 0.7"/>
<line x1="390.00" y1="241.90" x2="578.60" y2="243.70" stroke="#e8e8e8" stroke-width="0.6" stroke-dasharray="1.2 4.1"/>
<line x1="388.00" y1="317.60" x2="591.30" y2="319.80" stroke="#222" stroke-width="1.4" />
<rect x="396.30" y="246.40" width="31.20" height="15.00" rx="1" stroke="#222" stroke-width="1.5" fill="none"/>
<rect x="438.00" y="246.74" width="29.00" height="15.00" rx="1" stroke="#222" stroke-width="1.5" fill="none"/>
<rect x="473.30" y="247.02" width="29.70" height="15.00" rx="1" stroke="#222" stroke-width="1.5" fill="none"/>
<line x1="390.50" y1="263.80" x2="525.00" y2="264.60" stroke="#222" stroke-width="1.2" />
<rect x="396.30" y="267.20" width="31.20" height="27.40" rx="1" stroke="#222" stroke-width="1.5" fill="none"/>
<line x1="433.00" y1="264.00" x2="433.00" y2="317.80" stroke="#222" stroke-width="1.1" />
<line x1="435.60" y1="264.00" x2="435.60" y2="317.80" stroke="#222" stroke-width="1.1" />
<line x1="468.80" y1="264.30" x2="468.80" y2="318.20" stroke="#222" stroke-width="1.1" />
<line x1="472.00" y1="264.30" x2="472.00" y2="318.20" stroke="#222" stroke-width="1.1" />
<line x1="506.80" y1="245.00" x2="506.80" y2="318.60" stroke="#222" stroke-width="1.1" />
<line x1="439.50" y1="273.80" x2="463.00" y2="274.00" stroke="#222" stroke-width="1.5" />
<line x1="439.50" y1="288.00" x2="463.00" y2="288.20" stroke="#222" stroke-width="1.5" />
<line x1="439.50" y1="300.50" x2="463.00" y2="300.70" stroke="#222" stroke-width="1.5" />
<line x1="476.30" y1="274.50" x2="501.30" y2="274.70" stroke="#222" stroke-width="1.5" />
<line x1="476.30" y1="288.30" x2="501.30" y2="288.50" stroke="#222" stroke-width="1.5" />
<line x1="476.30" y1="300.80" x2="501.30" y2="301.00" stroke="#222" stroke-width="1.5" />
<path d="M555.30,248.00 L536.50,248.00 L524.80,264.50 L523.00,311.30 L555.00,311.50 L555.30,248.00" stroke="#222" stroke-width="1.3" fill="none" stroke-linejoin="round" stroke-linecap="round" />
<line x1="556.60" y1="248.00" x2="556.40" y2="311.50" stroke="#222" stroke-width="0.7" />
<line x1="524.80" y1="264.80" x2="583.60" y2="265.30" stroke="#222" stroke-width="1.2" />
<path d="M533.2,262.3 L537.6,252.6 Q538.2,251.4 539.6,251.4 L550,251.4 Q551.4,251.4 551.4,252.8 L551.4,261.2 Q551.4,262.6 550,262.6 Z" stroke="#222" stroke-width="1.4" fill="none" stroke-linejoin="round" stroke-linecap="round" />
<path d="M561.4,249.6 L574.4,249.6 Q575.6,249.6 575.9,250.8 L578.0,260 Q578.3,261.4 576.9,261.5 L561.4,262.5 Q560,262.5 560,261.1 L560,251 Q560,249.6 561.4,249.6 Z" stroke="#222" stroke-width="1.4" fill="none" stroke-linejoin="round" stroke-linecap="round" />
<rect x="528.20" y="269.60" width="22.40" height="20.00" rx="2" stroke="#222" stroke-width="1.5" fill="none"/>
<path d="M561.6,270 L579,270 Q580.2,270 580.5,271.2 L583.6,287.2 Q583.9,288.8 582.3,288.9 L561.6,289.6 Q560,289.6 560,288 L560,271.6 Q560,270 561.6,270 Z" stroke="#222" stroke-width="1.5" fill="none" stroke-linejoin="round" stroke-linecap="round" />
<path d="M578.80,242.50 L591.30,305.00 L591.30,320.00" stroke="#222" stroke-width="1.3" fill="none" stroke-linejoin="round" stroke-linecap="round" />
<path d="M591.50,290.50 L604.00,289.60 L610.10,312.50 L608.70,320.20 L591.50,320.20" stroke="#222" stroke-width="1.3" fill="none" stroke-linejoin="round" stroke-linecap="round" />
<path d="M591.50,303.90 L610.10,314.00" stroke="#222" stroke-width="1.2" fill="none" stroke-linejoin="round" stroke-linecap="round" />
<rect x="595.00" y="320.50" width="8.80" height="11.50" rx="2" stroke="#222" stroke-width="1.1" fill="none"/>
<line x1="599.50" y1="313.00" x2="599.50" y2="334.00" stroke="#222" stroke-width="0.7" />
<circle cx="599.40" cy="326.40" r="2.60" stroke="#222" stroke-width="0.9" fill="none"/>
<line x1="600.15" y1="321.85" x2="600.35" y2="322.54" stroke="#222" stroke-width="1.0" />
<line x1="598.97" y1="330.15" x2="598.70" y2="331.87" stroke="#222" stroke-width="1.0" />
<line x1="601.48" y1="322.21" x2="599.73" y2="322.27" stroke="#222" stroke-width="1.0" />
<line x1="596.31" y1="329.80" x2="596.60" y2="330.62" stroke="#222" stroke-width="1.0" />
<line x1="603.08" y1="326.97" x2="602.46" y2="327.50" stroke="#222" stroke-width="1.0" />
<line x1="601.63" y1="321.61" x2="602.51" y2="322.42" stroke="#222" stroke-width="1.0" />
<line x1="595.62" y1="327.30" x2="596.47" y2="327.97" stroke="#222" stroke-width="1.0" />
<line x1="601.09" y1="325.52" x2="599.59" y2="326.06" stroke="#222" stroke-width="1.0" />
<line x1="602.39" y1="326.97" x2="600.46" y2="327.48" stroke="#222" stroke-width="1.0" />
<line x1="596.83" y1="328.90" x2="597.70" y2="330.50" stroke="#222" stroke-width="1.0" />
<line x1="600.88" y1="329.75" x2="601.99" y2="330.20" stroke="#222" stroke-width="1.0" />
<line x1="601.32" y1="331.05" x2="600.89" y2="331.56" stroke="#222" stroke-width="1.0" />
<line x1="600.27" y1="322.06" x2="599.98" y2="323.92" stroke="#222" stroke-width="1.0" />
<line x1="596.39" y1="330.81" x2="595.87" y2="331.67" stroke="#222" stroke-width="1.0" />
<line x1="597.03" y1="325.74" x2="595.69" y2="326.48" stroke="#222" stroke-width="1.0" />
<line x1="596.40" y1="321.22" x2="598.17" y2="321.86" stroke="#222" stroke-width="1.0" />
<line x1="596.96" y1="326.88" x2="598.01" y2="328.22" stroke="#222" stroke-width="1.0" />
<line x1="598.51" y1="322.53" x2="597.16" y2="323.09" stroke="#222" stroke-width="1.0" />
<line x1="600.95" y1="329.57" x2="600.33" y2="329.67" stroke="#222" stroke-width="1.0" />
<line x1="598.20" y1="322.60" x2="598.19" y2="324.60" stroke="#222" stroke-width="1.0" />
<line x1="601.82" y1="321.38" x2="603.43" y2="322.41" stroke="#222" stroke-width="1.0" />
<line x1="600.87" y1="325.16" x2="600.93" y2="326.01" stroke="#222" stroke-width="1.0" />
<line x1="602.18" y1="325.17" x2="600.72" y2="325.78" stroke="#222" stroke-width="1.0" />
<line x1="596.10" y1="324.49" x2="597.68" y2="325.77" stroke="#222" stroke-width="1.0" />
<line x1="600.15" y1="321.46" x2="601.17" y2="322.06" stroke="#222" stroke-width="1.0" />
<line x1="599.20" y1="327.12" x2="599.60" y2="328.21" stroke="#222" stroke-width="1.0" />
<path d="M388,317.6 L388,326.0 L442,326.2 Q450,326.6 455,328.8 Q459,330.6 465,330.8 L497,331.2" stroke="#222" stroke-width="1.6" fill="none" stroke-linejoin="round" stroke-linecap="round" />
<path d="M388.00,326.00 L388.00,335.00 L417.70,335.00 L417.70,326.20" stroke="#222" stroke-width="1.5" fill="none" stroke-linejoin="round" stroke-linecap="round" />
<path d="M381.00,317.50 L385.60,317.50 L385.80,326.00 L383.30,330.60 L381.00,326.00 Z" stroke="#222" stroke-width="1.1" fill="#fff" stroke-linejoin="round" stroke-linecap="round" />
<path d="M385.00,318.50 L385.00,326.00 L383.40,329.60" stroke="#222" stroke-width="1.6" fill="none" stroke-linejoin="round" stroke-linecap="round" />
<line x1="497.00" y1="331.00" x2="596.00" y2="331.80" stroke="#222" stroke-width="1.5" />
<line x1="499.00" y1="333.00" x2="590.00" y2="333.90" stroke="#2a2a2a" stroke-width="2.0" stroke-dasharray="3.4 0.7 1.5 0.6"/>
<line x1="498.50" y1="338.00" x2="589.50" y2="338.70" stroke="#222" stroke-width="1.3" />
<line x1="498.50" y1="331.00" x2="498.50" y2="338.00" stroke="#222" stroke-width="1.1" />
<path d="M589.0,334.8 Q593.6,334.8 593.6,336.8 Q593.6,338.8 589.5,338.7" stroke="#222" stroke-width="1.1" fill="none" stroke-linejoin="round" stroke-linecap="round" />
<line x1="596.00" y1="330.50" x2="596.00" y2="340.00" stroke="#222" stroke-width="1.0" />
<line x1="497.00" y1="338.60" x2="590.00" y2="339.80" stroke="#222" stroke-width="1.0" />
<line x1="497.00" y1="346.20" x2="590.00" y2="348.00" stroke="#222" stroke-width="1.0" />
<line x1="498.04" y1="343.07" x2="498.35" y2="343.62" stroke="#222" stroke-width="1.25" />
<line x1="538.62" y1="346.71" x2="539.47" y2="346.83" stroke="#222" stroke-width="1.25" />
<line x1="557.55" y1="341.80" x2="558.53" y2="342.93" stroke="#222" stroke-width="1.25" />
<line x1="520.96" y1="343.38" x2="520.75" y2="345.69" stroke="#222" stroke-width="1.25" />
<line x1="586.30" y1="340.41" x2="585.92" y2="342.36" stroke="#222" stroke-width="1.25" />
<line x1="575.58" y1="345.83" x2="574.87" y2="347.42" stroke="#222" stroke-width="1.25" />
<line x1="529.98" y1="341.46" x2="528.24" y2="342.76" stroke="#222" stroke-width="1.25" />
<line x1="581.51" y1="345.23" x2="582.65" y2="346.84" stroke="#222" stroke-width="1.25" />
<line x1="563.69" y1="343.64" x2="563.18" y2="344.76" stroke="#222" stroke-width="1.25" />
<line x1="546.79" y1="342.61" x2="547.98" y2="342.84" stroke="#222" stroke-width="1.25" />
<line x1="526.43" y1="346.49" x2="526.50" y2="347.75" stroke="#222" stroke-width="1.25" />
<line x1="519.29" y1="340.97" x2="519.67" y2="341.72" stroke="#222" stroke-width="1.25" />
<line x1="498.15" y1="345.12" x2="498.35" y2="346.50" stroke="#222" stroke-width="1.25" />
<line x1="548.40" y1="341.88" x2="549.02" y2="342.24" stroke="#222" stroke-width="1.25" />
<line x1="524.48" y1="341.57" x2="523.44" y2="342.77" stroke="#222" stroke-width="1.25" />
<line x1="581.40" y1="342.66" x2="579.80" y2="343.06" stroke="#222" stroke-width="1.25" />
<line x1="504.66" y1="340.36" x2="504.07" y2="342.66" stroke="#222" stroke-width="1.25" />
<line x1="529.45" y1="345.00" x2="529.93" y2="347.11" stroke="#222" stroke-width="1.25" />
<line x1="503.56" y1="342.50" x2="502.52" y2="342.84" stroke="#222" stroke-width="1.25" />
<line x1="520.55" y1="339.47" x2="521.49" y2="340.00" stroke="#222" stroke-width="1.25" />
<line x1="560.54" y1="341.44" x2="560.84" y2="342.35" stroke="#222" stroke-width="1.25" />
<line x1="551.46" y1="346.05" x2="551.03" y2="346.91" stroke="#222" stroke-width="1.25" />
<line x1="563.18" y1="347.01" x2="562.95" y2="347.71" stroke="#222" stroke-width="1.25" />
<line x1="569.95" y1="346.48" x2="570.35" y2="347.22" stroke="#222" stroke-width="1.25" />
<line x1="514.34" y1="343.04" x2="512.72" y2="343.71" stroke="#222" stroke-width="1.25" />
<line x1="580.10" y1="341.67" x2="581.11" y2="343.34" stroke="#222" stroke-width="1.25" />
<line x1="555.58" y1="342.75" x2="554.94" y2="343.77" stroke="#222" stroke-width="1.25" />
<line x1="502.64" y1="341.99" x2="504.35" y2="342.23" stroke="#222" stroke-width="1.25" />
<line x1="527.44" y1="342.95" x2="527.12" y2="343.96" stroke="#222" stroke-width="1.25" />
<line x1="538.97" y1="339.64" x2="537.40" y2="340.02" stroke="#222" stroke-width="1.25" />
<line x1="585.88" y1="340.57" x2="585.22" y2="342.35" stroke="#222" stroke-width="1.25" />
<line x1="526.96" y1="340.06" x2="527.72" y2="340.46" stroke="#222" stroke-width="1.25" />
<line x1="566.16" y1="340.56" x2="565.03" y2="341.31" stroke="#222" stroke-width="1.25" />
<line x1="545.71" y1="343.93" x2="545.40" y2="345.69" stroke="#222" stroke-width="1.25" />
<line x1="551.34" y1="342.13" x2="550.61" y2="342.91" stroke="#222" stroke-width="1.25" />
<line x1="561.17" y1="345.49" x2="560.29" y2="346.24" stroke="#222" stroke-width="1.25" />
<line x1="566.65" y1="347.18" x2="566.81" y2="348.27" stroke="#222" stroke-width="1.25" />
<line x1="544.34" y1="346.48" x2="544.90" y2="346.73" stroke="#222" stroke-width="1.25" />
<line x1="540.08" y1="344.33" x2="539.13" y2="345.14" stroke="#222" stroke-width="1.25" />
<line x1="586.06" y1="341.88" x2="585.51" y2="342.40" stroke="#222" stroke-width="1.25" />
<line x1="500.00" y1="339.98" x2="501.48" y2="340.26" stroke="#222" stroke-width="1.25" />
<line x1="547.19" y1="340.98" x2="545.96" y2="341.22" stroke="#222" stroke-width="1.25" />
<line x1="510.86" y1="340.44" x2="509.33" y2="342.09" stroke="#222" stroke-width="1.25" />
<line x1="512.01" y1="339.40" x2="511.21" y2="340.07" stroke="#222" stroke-width="1.25" />
<line x1="585.42" y1="343.92" x2="584.91" y2="345.03" stroke="#222" stroke-width="1.25" />
<line x1="569.15" y1="343.37" x2="570.32" y2="345.26" stroke="#222" stroke-width="1.25" />
<line x1="507.15" y1="344.31" x2="508.87" y2="344.67" stroke="#222" stroke-width="1.25" />
<line x1="533.47" y1="345.72" x2="535.05" y2="346.02" stroke="#222" stroke-width="1.25" />
<line x1="534.19" y1="346.13" x2="532.49" y2="346.43" stroke="#222" stroke-width="1.25" />
<line x1="517.56" y1="341.06" x2="518.49" y2="342.08" stroke="#222" stroke-width="1.25" />
<line x1="518.21" y1="340.72" x2="516.93" y2="341.93" stroke="#222" stroke-width="1.25" />
<line x1="524.21" y1="346.49" x2="525.48" y2="347.51" stroke="#222" stroke-width="1.25" />
<line x1="511.53" y1="345.31" x2="510.54" y2="345.74" stroke="#222" stroke-width="1.25" />
<line x1="564.76" y1="345.99" x2="565.52" y2="346.92" stroke="#222" stroke-width="1.25" />
<line x1="540.96" y1="346.06" x2="542.56" y2="346.95" stroke="#222" stroke-width="1.25" />
<line x1="550.98" y1="343.03" x2="550.45" y2="345.15" stroke="#222" stroke-width="1.25" />
<line x1="516.28" y1="345.54" x2="517.13" y2="347.36" stroke="#222" stroke-width="1.25" />
<line x1="574.77" y1="341.37" x2="572.59" y2="342.36" stroke="#222" stroke-width="1.25" />
<line x1="524.14" y1="339.53" x2="526.35" y2="340.33" stroke="#222" stroke-width="1.25" />
<line x1="498.34" y1="345.41" x2="500.06" y2="346.28" stroke="#222" stroke-width="1.25" />
<line x1="506.23" y1="340.31" x2="505.82" y2="340.95" stroke="#222" stroke-width="1.25" />
<line x1="527.89" y1="346.01" x2="526.51" y2="347.71" stroke="#222" stroke-width="1.25" />
<line x1="585.18" y1="340.39" x2="586.68" y2="341.75" stroke="#222" stroke-width="1.25" />
<line x1="559.21" y1="340.08" x2="559.19" y2="341.10" stroke="#222" stroke-width="1.25" />
<line x1="536.03" y1="340.26" x2="538.41" y2="340.41" stroke="#222" stroke-width="1.25" />
<line x1="525.83" y1="345.69" x2="527.20" y2="346.23" stroke="#222" stroke-width="1.25" />
<line x1="509.66" y1="342.20" x2="511.21" y2="343.18" stroke="#222" stroke-width="1.25" />
<line x1="510.74" y1="344.41" x2="510.74" y2="345.21" stroke="#222" stroke-width="1.25" />
<line x1="529.14" y1="342.99" x2="527.96" y2="343.30" stroke="#222" stroke-width="1.25" />
<line x1="516.75" y1="346.15" x2="514.97" y2="346.84" stroke="#222" stroke-width="1.25" />
<line x1="521.93" y1="340.59" x2="522.42" y2="341.13" stroke="#222" stroke-width="1.25" />
<line x1="501.37" y1="342.63" x2="501.82" y2="344.17" stroke="#222" stroke-width="1.25" />
<line x1="529.95" y1="339.50" x2="528.96" y2="340.98" stroke="#222" stroke-width="1.25" />
<line x1="546.19" y1="343.65" x2="544.85" y2="345.61" stroke="#222" stroke-width="1.25" />
<line x1="575.73" y1="345.40" x2="576.09" y2="346.52" stroke="#222" stroke-width="1.25" />
<line x1="535.01" y1="346.54" x2="535.46" y2="347.75" stroke="#222" stroke-width="1.25" />
<line x1="534.19" y1="340.52" x2="533.58" y2="340.52" stroke="#222" stroke-width="1.25" />
<line x1="551.90" y1="346.52" x2="553.08" y2="347.74" stroke="#222" stroke-width="1.25" />
<line x1="531.24" y1="341.18" x2="531.90" y2="341.65" stroke="#222" stroke-width="1.25" />
<line x1="572.95" y1="345.85" x2="572.29" y2="346.05" stroke="#222" stroke-width="1.25" />
<line x1="559.63" y1="342.21" x2="558.93" y2="343.63" stroke="#222" stroke-width="1.25" />
<line x1="525.75" y1="346.35" x2="527.69" y2="346.36" stroke="#222" stroke-width="1.25" />
<line x1="573.89" y1="343.82" x2="573.20" y2="346.11" stroke="#222" stroke-width="1.25" />
<line x1="518.48" y1="343.77" x2="517.59" y2="344.70" stroke="#222" stroke-width="1.25" />
<line x1="561.24" y1="342.75" x2="561.10" y2="344.44" stroke="#222" stroke-width="1.25" />
<line x1="558.11" y1="342.17" x2="557.49" y2="343.62" stroke="#222" stroke-width="1.25" />
<line x1="517.48" y1="343.63" x2="518.99" y2="345.29" stroke="#222" stroke-width="1.25" />
<line x1="539.86" y1="344.80" x2="539.76" y2="346.26" stroke="#222" stroke-width="1.25" />
<line x1="517.30" y1="340.28" x2="515.79" y2="340.63" stroke="#222" stroke-width="1.25" />
<line x1="544.39" y1="343.47" x2="543.53" y2="344.03" stroke="#222" stroke-width="1.25" />
<line x1="512.93" y1="345.04" x2="513.14" y2="346.78" stroke="#222" stroke-width="1.25" />
<line x1="571.56" y1="346.65" x2="570.94" y2="346.92" stroke="#222" stroke-width="1.25" />
<line x1="531.62" y1="345.46" x2="530.93" y2="345.90" stroke="#222" stroke-width="1.25" />
<line x1="511.27" y1="340.97" x2="512.45" y2="341.36" stroke="#222" stroke-width="1.25" />
<line x1="569.39" y1="343.83" x2="569.50" y2="344.58" stroke="#222" stroke-width="1.25" />
<line x1="532.90" y1="346.67" x2="532.09" y2="347.83" stroke="#222" stroke-width="1.25" />
<line x1="540.31" y1="345.37" x2="539.68" y2="345.97" stroke="#222" stroke-width="1.25" />
<line x1="558.38" y1="342.51" x2="558.31" y2="343.53" stroke="#222" stroke-width="1.25" />
<line x1="530.68" y1="341.89" x2="530.91" y2="342.48" stroke="#222" stroke-width="1.25" />
<line x1="515.48" y1="343.30" x2="516.38" y2="343.47" stroke="#222" stroke-width="1.25" />
<line x1="561.78" y1="341.87" x2="562.32" y2="342.75" stroke="#222" stroke-width="1.25" />
<line x1="572.16" y1="340.65" x2="571.27" y2="342.61" stroke="#222" stroke-width="1.25" />
<line x1="515.55" y1="342.25" x2="514.19" y2="343.29" stroke="#222" stroke-width="1.25" />
<line x1="530.76" y1="339.75" x2="530.99" y2="340.99" stroke="#222" stroke-width="1.25" />
<line x1="561.27" y1="342.02" x2="561.78" y2="343.71" stroke="#222" stroke-width="1.25" />
<line x1="570.07" y1="342.58" x2="570.65" y2="344.11" stroke="#222" stroke-width="1.25" />
<line x1="580.27" y1="341.52" x2="578.40" y2="341.69" stroke="#222" stroke-width="1.25" />
<line x1="530.83" y1="344.24" x2="531.20" y2="344.87" stroke="#222" stroke-width="1.25" />
<line x1="565.17" y1="342.70" x2="565.04" y2="344.19" stroke="#222" stroke-width="1.25" />
<line x1="578.17" y1="345.74" x2="579.83" y2="345.88" stroke="#222" stroke-width="1.25" />
<line x1="538.90" y1="342.90" x2="537.72" y2="343.55" stroke="#222" stroke-width="1.25" />
<line x1="539.89" y1="346.03" x2="540.17" y2="347.49" stroke="#222" stroke-width="1.25" />
<line x1="543.31" y1="345.62" x2="542.32" y2="347.28" stroke="#222" stroke-width="1.25" />
<line x1="533.45" y1="339.76" x2="532.60" y2="341.11" stroke="#222" stroke-width="1.25" />
<line x1="566.35" y1="345.63" x2="567.28" y2="345.99" stroke="#222" stroke-width="1.25" />
<line x1="504.40" y1="344.86" x2="505.12" y2="345.10" stroke="#222" stroke-width="1.25" />
<line x1="564.92" y1="344.07" x2="566.72" y2="344.39" stroke="#222" stroke-width="1.25" />
<line x1="561.14" y1="343.41" x2="562.96" y2="343.72" stroke="#222" stroke-width="1.25" />
<line x1="534.90" y1="343.72" x2="532.83" y2="343.73" stroke="#222" stroke-width="1.25" />
<line x1="575.54" y1="341.11" x2="576.30" y2="342.44" stroke="#222" stroke-width="1.25" />
<line x1="498.04" y1="345.94" x2="498.74" y2="346.76" stroke="#222" stroke-width="1.25" />
<line x1="525.52" y1="341.20" x2="524.07" y2="341.89" stroke="#222" stroke-width="1.25" />
<line x1="543.23" y1="342.66" x2="544.37" y2="342.85" stroke="#222" stroke-width="1.25" />
<line x1="575.08" y1="346.03" x2="574.12" y2="346.49" stroke="#222" stroke-width="1.25" />
<line x1="515.58" y1="339.61" x2="515.43" y2="340.88" stroke="#222" stroke-width="1.25" />
<line x1="539.05" y1="343.10" x2="538.72" y2="344.31" stroke="#222" stroke-width="1.25" />
<line x1="569.23" y1="341.43" x2="567.68" y2="341.83" stroke="#222" stroke-width="1.25" />
<line x1="502.08" y1="341.28" x2="501.94" y2="342.60" stroke="#222" stroke-width="1.25" />
<line x1="548.06" y1="342.03" x2="549.39" y2="343.57" stroke="#222" stroke-width="1.25" />
<line x1="523.59" y1="344.44" x2="522.24" y2="345.41" stroke="#222" stroke-width="1.25" />
<line x1="538.19" y1="346.32" x2="538.56" y2="348.47" stroke="#222" stroke-width="1.25" />
<line x1="502.67" y1="342.13" x2="502.37" y2="342.75" stroke="#222" stroke-width="1.25" />
<line x1="574.71" y1="340.54" x2="574.43" y2="341.42" stroke="#222" stroke-width="1.25" />
<line x1="580.05" y1="344.30" x2="578.84" y2="345.18" stroke="#222" stroke-width="1.25" />
<line x1="557.81" y1="344.77" x2="558.40" y2="345.56" stroke="#222" stroke-width="1.25" />
<line x1="572.53" y1="341.07" x2="571.59" y2="341.31" stroke="#222" stroke-width="1.25" />
<line x1="506.53" y1="339.80" x2="504.73" y2="341.24" stroke="#222" stroke-width="1.25" />
<line x1="534.61" y1="344.26" x2="536.15" y2="345.87" stroke="#222" stroke-width="1.25" />
<line x1="558.89" y1="340.94" x2="560.71" y2="341.27" stroke="#222" stroke-width="1.25" />
<line x1="501.24" y1="344.93" x2="501.85" y2="345.74" stroke="#222" stroke-width="1.25" />
<line x1="549.59" y1="342.02" x2="549.43" y2="342.88" stroke="#222" stroke-width="1.25" />
<line x1="579.12" y1="342.50" x2="578.35" y2="342.92" stroke="#222" stroke-width="1.25" />
<line x1="569.04" y1="347.25" x2="569.26" y2="347.87" stroke="#222" stroke-width="1.25" />
<line x1="531.51" y1="344.07" x2="532.72" y2="345.09" stroke="#222" stroke-width="1.25" />
<line x1="505.88" y1="342.39" x2="504.97" y2="343.43" stroke="#222" stroke-width="1.25" />
<line x1="558.26" y1="340.64" x2="557.56" y2="341.06" stroke="#222" stroke-width="1.25" />
<line x1="580.14" y1="347.58" x2="578.62" y2="347.87" stroke="#222" stroke-width="1.25" />
<line x1="523.52" y1="341.84" x2="522.47" y2="342.89" stroke="#222" stroke-width="1.25" />
<line x1="580.72" y1="340.78" x2="580.82" y2="342.93" stroke="#222" stroke-width="1.25" />
<line x1="551.00" y1="343.67" x2="551.82" y2="343.90" stroke="#222" stroke-width="1.25" />
<line x1="521.77" y1="345.71" x2="520.88" y2="346.18" stroke="#222" stroke-width="1.25" />
<line x1="580.25" y1="340.32" x2="579.54" y2="342.55" stroke="#222" stroke-width="1.25" />
<line x1="528.31" y1="346.21" x2="527.99" y2="346.81" stroke="#222" stroke-width="1.25" />
<line x1="527.32" y1="342.63" x2="528.70" y2="343.98" stroke="#222" stroke-width="1.25" />
<line x1="513.51" y1="344.81" x2="513.94" y2="345.40" stroke="#222" stroke-width="1.25" />
<line x1="547.55" y1="340.35" x2="547.22" y2="342.35" stroke="#222" stroke-width="1.25" />
<line x1="550.81" y1="343.08" x2="552.32" y2="343.25" stroke="#222" stroke-width="1.25" />
<line x1="506.20" y1="343.68" x2="507.70" y2="344.35" stroke="#222" stroke-width="1.25" />
<line x1="529.08" y1="342.11" x2="528.64" y2="342.89" stroke="#222" stroke-width="1.25" />
<line x1="512.69" y1="345.89" x2="513.76" y2="347.72" stroke="#222" stroke-width="1.25" />
<line x1="575.67" y1="343.62" x2="576.36" y2="343.97" stroke="#222" stroke-width="1.25" />
<line x1="576.18" y1="340.90" x2="576.20" y2="342.47" stroke="#222" stroke-width="1.25" />
<line x1="508.02" y1="342.45" x2="509.38" y2="343.22" stroke="#222" stroke-width="1.25" />
<line x1="542.86" y1="342.27" x2="543.94" y2="343.04" stroke="#222" stroke-width="1.25" />
<line x1="515.71" y1="340.15" x2="517.29" y2="341.63" stroke="#222" stroke-width="1.25" />
<line x1="542.41" y1="346.08" x2="544.71" y2="346.19" stroke="#222" stroke-width="1.25" />
<line x1="541.21" y1="345.33" x2="540.81" y2="347.13" stroke="#222" stroke-width="1.25" />
<line x1="518.02" y1="344.62" x2="518.97" y2="345.12" stroke="#222" stroke-width="1.25" />
<line x1="500.27" y1="341.80" x2="500.20" y2="342.93" stroke="#222" stroke-width="1.25" />
<line x1="577.20" y1="340.67" x2="576.95" y2="341.66" stroke="#222" stroke-width="1.25" />
<line x1="550.78" y1="345.45" x2="550.34" y2="346.02" stroke="#222" stroke-width="1.25" />
<line x1="519.49" y1="343.57" x2="518.82" y2="343.61" stroke="#222" stroke-width="1.25" />
<line x1="552.83" y1="344.81" x2="551.82" y2="345.48" stroke="#222" stroke-width="1.25" />
<line x1="570.04" y1="343.39" x2="569.44" y2="343.55" stroke="#222" stroke-width="1.25" />
<line x1="581.66" y1="343.20" x2="581.88" y2="343.93" stroke="#222" stroke-width="1.25" />
<line x1="519.41" y1="344.53" x2="518.95" y2="345.27" stroke="#222" stroke-width="1.25" />
<line x1="528.32" y1="340.42" x2="529.13" y2="341.00" stroke="#222" stroke-width="1.25" />
<line x1="527.13" y1="346.41" x2="525.11" y2="346.43" stroke="#222" stroke-width="1.25" />
<line x1="540.44" y1="343.18" x2="538.72" y2="344.61" stroke="#222" stroke-width="1.25" />
<line x1="564.76" y1="344.61" x2="566.15" y2="345.62" stroke="#222" stroke-width="1.25" />
<line x1="573.19" y1="345.88" x2="575.00" y2="346.42" stroke="#222" stroke-width="1.25" />
<line x1="528.75" y1="340.58" x2="526.95" y2="340.77" stroke="#222" stroke-width="1.25" />
<line x1="564.23" y1="340.87" x2="562.26" y2="342.04" stroke="#222" stroke-width="1.25" />
<line x1="578.48" y1="345.66" x2="576.71" y2="346.68" stroke="#222" stroke-width="1.25" />
<line x1="550.34" y1="342.89" x2="548.62" y2="343.94" stroke="#222" stroke-width="1.25" />
<line x1="575.44" y1="342.26" x2="573.89" y2="342.45" stroke="#222" stroke-width="1.25" />
<line x1="582.16" y1="340.97" x2="580.15" y2="341.17" stroke="#222" stroke-width="1.25" />
<line x1="520.05" y1="345.29" x2="520.77" y2="345.93" stroke="#222" stroke-width="1.25" />
<line x1="538.48" y1="341.26" x2="538.53" y2="343.49" stroke="#222" stroke-width="1.25" />
<line x1="558.84" y1="345.05" x2="559.51" y2="346.95" stroke="#222" stroke-width="1.25" />
<line x1="568.53" y1="345.02" x2="566.48" y2="345.40" stroke="#222" stroke-width="1.25" />
<line x1="533.86" y1="340.11" x2="532.89" y2="341.97" stroke="#222" stroke-width="1.25" />
<line x1="527.89" y1="343.68" x2="526.13" y2="344.68" stroke="#222" stroke-width="1.25" />
<line x1="497.90" y1="342.44" x2="498.70" y2="342.48" stroke="#222" stroke-width="1.25" />
<line x1="570.21" y1="343.07" x2="569.75" y2="344.42" stroke="#222" stroke-width="1.25" />
<line x1="527.52" y1="340.93" x2="528.46" y2="342.83" stroke="#222" stroke-width="1.25" />
<line x1="552.93" y1="341.87" x2="553.97" y2="342.17" stroke="#222" stroke-width="1.25" />
<line x1="560.26" y1="343.09" x2="559.26" y2="344.89" stroke="#222" stroke-width="1.25" />
<line x1="508.30" y1="343.98" x2="510.37" y2="344.25" stroke="#222" stroke-width="1.25" />
<line x1="513.98" y1="341.15" x2="512.74" y2="341.32" stroke="#222" stroke-width="1.25" />
<line x1="517.57" y1="345.61" x2="516.82" y2="347.69" stroke="#222" stroke-width="1.25" />
<line x1="532.79" y1="343.08" x2="531.30" y2="343.28" stroke="#222" stroke-width="1.25" />
<line x1="585.98" y1="341.58" x2="585.21" y2="342.04" stroke="#222" stroke-width="1.25" />
<line x1="544.68" y1="339.62" x2="546.64" y2="340.82" stroke="#222" stroke-width="1.25" />
<line x1="538.18" y1="345.41" x2="539.05" y2="346.29" stroke="#222" stroke-width="1.25" />
<line x1="506.53" y1="343.03" x2="505.15" y2="343.67" stroke="#222" stroke-width="1.25" />
<line x1="531.21" y1="346.15" x2="529.51" y2="346.74" stroke="#222" stroke-width="1.25" />
<line x1="504.29" y1="343.49" x2="504.70" y2="345.78" stroke="#222" stroke-width="1.25" />
<line x1="529.88" y1="344.19" x2="529.37" y2="345.36" stroke="#222" stroke-width="1.25" />
<line x1="544.24" y1="344.55" x2="542.80" y2="344.98" stroke="#222" stroke-width="1.25" />
<line x1="530.05" y1="346.47" x2="532.12" y2="346.84" stroke="#222" stroke-width="1.25" />
<line x1="558.68" y1="343.92" x2="559.00" y2="345.85" stroke="#222" stroke-width="1.25" />
<line x1="577.25" y1="345.51" x2="576.79" y2="345.98" stroke="#222" stroke-width="1.25" />
<line x1="526.61" y1="340.37" x2="524.42" y2="340.69" stroke="#222" stroke-width="1.25" />
<line x1="510.44" y1="343.34" x2="510.27" y2="344.00" stroke="#222" stroke-width="1.25" />
<line x1="532.60" y1="344.86" x2="532.13" y2="345.86" stroke="#222" stroke-width="1.25" />
<line x1="565.74" y1="342.05" x2="565.55" y2="343.40" stroke="#222" stroke-width="1.25" />
<line x1="585.04" y1="345.05" x2="583.56" y2="346.09" stroke="#222" stroke-width="1.25" />
<line x1="531.55" y1="346.40" x2="530.42" y2="347.86" stroke="#222" stroke-width="1.25" />
<line x1="522.33" y1="340.49" x2="521.85" y2="342.52" stroke="#222" stroke-width="1.25" />
<line x1="568.53" y1="342.51" x2="569.92" y2="343.16" stroke="#222" stroke-width="1.25" />
<line x1="576.03" y1="341.24" x2="575.41" y2="341.90" stroke="#222" stroke-width="1.25" />
<line x1="525.42" y1="339.75" x2="526.19" y2="340.79" stroke="#222" stroke-width="1.25" />
<line x1="584.04" y1="347.40" x2="585.00" y2="348.04" stroke="#222" stroke-width="1.25" />
<line x1="581.96" y1="341.59" x2="582.70" y2="342.76" stroke="#222" stroke-width="1.25" />
<line x1="507.20" y1="340.97" x2="507.63" y2="342.19" stroke="#222" stroke-width="1.25" />
<line x1="583.74" y1="342.14" x2="585.53" y2="343.47" stroke="#222" stroke-width="1.25" />
<line x1="537.80" y1="345.61" x2="536.96" y2="347.43" stroke="#222" stroke-width="1.25" />
<line x1="525.67" y1="340.46" x2="524.63" y2="341.46" stroke="#222" stroke-width="1.25" />
<line x1="547.51" y1="344.56" x2="546.73" y2="345.33" stroke="#222" stroke-width="1.25" />
<line x1="529.97" y1="346.04" x2="529.86" y2="347.16" stroke="#222" stroke-width="1.25" />
<line x1="553.90" y1="341.65" x2="553.39" y2="342.09" stroke="#222" stroke-width="1.25" />
<line x1="571.48" y1="344.20" x2="572.50" y2="346.25" stroke="#222" stroke-width="1.25" />
<line x1="521.26" y1="341.05" x2="522.81" y2="341.40" stroke="#222" stroke-width="1.25" />
<line x1="564.96" y1="344.92" x2="565.52" y2="346.90" stroke="#222" stroke-width="1.25" />
<line x1="507.46" y1="341.30" x2="506.43" y2="343.41" stroke="#222" stroke-width="1.25" />
<line x1="554.23" y1="344.84" x2="553.24" y2="345.69" stroke="#222" stroke-width="1.25" />
<line x1="581.66" y1="345.70" x2="582.28" y2="346.84" stroke="#222" stroke-width="1.25" />
<line x1="569.61" y1="342.55" x2="571.42" y2="343.74" stroke="#222" stroke-width="1.25" />
<line x1="545.10" y1="343.43" x2="543.97" y2="345.35" stroke="#222" stroke-width="1.25" />
<line x1="509.45" y1="341.56" x2="510.77" y2="341.84" stroke="#222" stroke-width="1.25" />
<line x1="542.44" y1="345.80" x2="541.62" y2="347.22" stroke="#222" stroke-width="1.25" />
<line x1="533.63" y1="343.62" x2="535.01" y2="345.23" stroke="#222" stroke-width="1.25" />
<line x1="568.07" y1="346.17" x2="569.68" y2="347.00" stroke="#222" stroke-width="1.25" />
<line x1="564.99" y1="343.60" x2="562.89" y2="344.30" stroke="#222" stroke-width="1.25" />
<line x1="564.00" y1="345.97" x2="563.02" y2="347.91" stroke="#222" stroke-width="1.25" />
<line x1="509.25" y1="344.14" x2="508.23" y2="345.51" stroke="#222" stroke-width="1.25" />
<line x1="522.12" y1="339.81" x2="521.45" y2="341.78" stroke="#222" stroke-width="1.25" />
<line x1="521.94" y1="340.85" x2="522.52" y2="341.34" stroke="#222" stroke-width="1.25" />
<line x1="558.00" y1="346.99" x2="556.99" y2="347.72" stroke="#222" stroke-width="1.25" />
<line x1="560.10" y1="340.35" x2="559.06" y2="340.92" stroke="#222" stroke-width="1.25" />
<line x1="497.81" y1="343.42" x2="498.80" y2="343.88" stroke="#222" stroke-width="1.25" />
<line x1="502.79" y1="342.21" x2="502.44" y2="344.23" stroke="#222" stroke-width="1.25" />
<line x1="501.04" y1="344.87" x2="501.99" y2="345.21" stroke="#222" stroke-width="1.25" />
<line x1="553.84" y1="342.24" x2="554.66" y2="343.64" stroke="#222" stroke-width="1.25" />
<line x1="517.00" y1="344.91" x2="518.67" y2="346.20" stroke="#222" stroke-width="1.25" />
<line x1="569.88" y1="343.95" x2="571.87" y2="344.14" stroke="#222" stroke-width="1.25" />
<line x1="500.04" y1="342.58" x2="500.21" y2="343.28" stroke="#222" stroke-width="1.25" />
<line x1="553.89" y1="345.07" x2="553.54" y2="346.35" stroke="#222" stroke-width="1.25" />
<line x1="543.33" y1="343.90" x2="544.97" y2="345.31" stroke="#222" stroke-width="1.25" />
<line x1="586.61" y1="346.25" x2="585.43" y2="346.39" stroke="#222" stroke-width="1.25" />
<line x1="585.77" y1="340.69" x2="585.83" y2="341.52" stroke="#222" stroke-width="1.25" />
<line x1="538.13" y1="344.49" x2="537.27" y2="345.62" stroke="#222" stroke-width="1.25" />
<line x1="528.08" y1="340.77" x2="528.41" y2="341.83" stroke="#222" stroke-width="1.25" />
<line x1="514.88" y1="344.47" x2="514.81" y2="345.86" stroke="#222" stroke-width="1.25" />
<line x1="515.19" y1="344.24" x2="516.07" y2="344.87" stroke="#222" stroke-width="1.25" />
<line x1="547.64" y1="344.79" x2="545.71" y2="344.96" stroke="#222" stroke-width="1.25" />
<line x1="582.37" y1="347.05" x2="581.15" y2="348.50" stroke="#222" stroke-width="1.25" />
<line x1="503.11" y1="340.53" x2="505.27" y2="340.61" stroke="#222" stroke-width="1.25" />
<line x1="562.12" y1="344.52" x2="562.96" y2="345.43" stroke="#222" stroke-width="1.25" />
<line x1="512.15" y1="343.68" x2="511.00" y2="343.71" stroke="#222" stroke-width="1.25" />
<line x1="501.46" y1="340.29" x2="502.43" y2="342.28" stroke="#222" stroke-width="1.25" />
<line x1="569.50" y1="343.33" x2="570.25" y2="343.58" stroke="#222" stroke-width="1.25" />
<line x1="511.27" y1="344.70" x2="511.49" y2="347.07" stroke="#222" stroke-width="1.25" />
<line x1="579.10" y1="346.04" x2="579.25" y2="348.12" stroke="#222" stroke-width="1.25" />
<line x1="508.98" y1="339.93" x2="508.68" y2="341.41" stroke="#222" stroke-width="1.25" />
<line x1="516.23" y1="341.04" x2="518.46" y2="341.19" stroke="#222" stroke-width="1.25" />
<line x1="561.06" y1="346.83" x2="559.68" y2="346.92" stroke="#222" stroke-width="1.25" />
<line x1="563.05" y1="342.71" x2="561.29" y2="343.88" stroke="#222" stroke-width="1.25" />
<line x1="509.48" y1="339.25" x2="510.77" y2="340.28" stroke="#222" stroke-width="1.25" />
<line x1="531.41" y1="339.51" x2="529.68" y2="340.53" stroke="#222" stroke-width="1.25" />
<line x1="539.00" y1="339.86" x2="537.53" y2="340.39" stroke="#222" stroke-width="1.25" />
<line x1="503.85" y1="341.37" x2="503.02" y2="343.39" stroke="#222" stroke-width="1.25" />
<line x1="540.87" y1="344.22" x2="541.69" y2="344.85" stroke="#222" stroke-width="1.25" />
<line x1="578.57" y1="342.93" x2="580.14" y2="343.47" stroke="#222" stroke-width="1.25" />
<line x1="508.80" y1="340.57" x2="509.02" y2="342.21" stroke="#222" stroke-width="1.25" />
<line x1="554.46" y1="344.95" x2="554.59" y2="345.66" stroke="#222" stroke-width="1.25" />
<line x1="562.34" y1="340.24" x2="562.46" y2="341.56" stroke="#222" stroke-width="1.25" />
<line x1="557.72" y1="345.06" x2="559.01" y2="346.27" stroke="#222" stroke-width="1.25" />
<line x1="559.44" y1="343.30" x2="561.45" y2="344.26" stroke="#222" stroke-width="1.25" />
<line x1="551.12" y1="340.16" x2="552.86" y2="341.78" stroke="#222" stroke-width="1.25" />
<line x1="517.97" y1="342.07" x2="516.33" y2="343.36" stroke="#222" stroke-width="1.25" />
<line x1="554.23" y1="345.20" x2="555.00" y2="345.30" stroke="#222" stroke-width="1.25" />
<line x1="584.87" y1="346.21" x2="585.55" y2="346.29" stroke="#222" stroke-width="1.25" />
<line x1="519.02" y1="345.93" x2="520.42" y2="347.08" stroke="#222" stroke-width="1.25" />
<line x1="580.77" y1="344.90" x2="579.73" y2="345.17" stroke="#222" stroke-width="1.25" />
<line x1="511.23" y1="339.31" x2="510.66" y2="339.86" stroke="#222" stroke-width="1.25" />
<line x1="584.60" y1="345.50" x2="586.31" y2="346.64" stroke="#222" stroke-width="1.25" />
<line x1="512.07" y1="342.83" x2="513.98" y2="343.49" stroke="#222" stroke-width="1.25" />
<line x1="577.13" y1="346.92" x2="579.26" y2="346.94" stroke="#222" stroke-width="1.25" />
<line x1="547.25" y1="345.66" x2="547.24" y2="347.38" stroke="#222" stroke-width="1.25" />
<line x1="550.71" y1="345.57" x2="551.39" y2="345.74" stroke="#222" stroke-width="1.25" />
<line x1="546.32" y1="341.77" x2="546.51" y2="342.35" stroke="#222" stroke-width="1.25" />
<line x1="564.18" y1="340.05" x2="562.40" y2="341.10" stroke="#222" stroke-width="1.25" />
<line x1="538.49" y1="340.42" x2="538.05" y2="341.29" stroke="#222" stroke-width="1.25" />
<line x1="535.90" y1="340.30" x2="534.32" y2="340.42" stroke="#222" stroke-width="1.25" />
<line x1="529.05" y1="340.09" x2="527.64" y2="341.69" stroke="#222" stroke-width="1.25" />
<line x1="573.42" y1="340.75" x2="573.89" y2="341.79" stroke="#222" stroke-width="1.25" />
<line x1="565.74" y1="340.99" x2="564.96" y2="343.22" stroke="#222" stroke-width="1.25" />
<line x1="566.31" y1="339.95" x2="567.09" y2="340.13" stroke="#222" stroke-width="1.25" />
<line x1="559.48" y1="344.24" x2="559.39" y2="345.66" stroke="#222" stroke-width="1.25" />
<line x1="533.96" y1="343.90" x2="532.95" y2="345.91" stroke="#222" stroke-width="1.25" />
<line x1="563.08" y1="345.77" x2="561.05" y2="346.34" stroke="#222" stroke-width="1.25" />
<line x1="561.64" y1="340.06" x2="560.50" y2="341.86" stroke="#222" stroke-width="1.25" />
<line x1="536.05" y1="345.87" x2="537.99" y2="347.10" stroke="#222" stroke-width="1.25" />
<line x1="537.04" y1="344.64" x2="537.84" y2="345.46" stroke="#222" stroke-width="1.25" />
<line x1="528.69" y1="341.75" x2="530.03" y2="342.16" stroke="#222" stroke-width="1.25" />
<line x1="585.29" y1="345.09" x2="583.36" y2="345.51" stroke="#222" stroke-width="1.25" />
<line x1="572.40" y1="347.42" x2="571.62" y2="348.18" stroke="#222" stroke-width="1.25" />
<line x1="519.85" y1="342.24" x2="520.87" y2="342.31" stroke="#222" stroke-width="1.25" />
<line x1="576.82" y1="346.95" x2="577.84" y2="348.66" stroke="#222" stroke-width="1.25" />
<line x1="566.86" y1="346.53" x2="565.61" y2="347.47" stroke="#222" stroke-width="1.25" />
<line x1="506.88" y1="344.96" x2="507.84" y2="346.40" stroke="#222" stroke-width="1.25" />
<line x1="530.36" y1="343.31" x2="529.47" y2="343.40" stroke="#222" stroke-width="1.25" />
<line x1="545.02" y1="344.37" x2="544.74" y2="346.64" stroke="#222" stroke-width="1.25" />
<line x1="533.97" y1="346.09" x2="532.66" y2="348.03" stroke="#222" stroke-width="1.25" />
<line x1="505.52" y1="340.61" x2="506.91" y2="342.36" stroke="#222" stroke-width="1.25" />
<line x1="498.72" y1="340.85" x2="497.23" y2="342.70" stroke="#222" stroke-width="1.25" />
<line x1="513.28" y1="342.32" x2="512.26" y2="343.86" stroke="#222" stroke-width="1.25" />
<line x1="564.27" y1="345.47" x2="565.02" y2="346.21" stroke="#222" stroke-width="1.25" />
<line x1="499.98" y1="343.89" x2="500.82" y2="344.54" stroke="#222" stroke-width="1.25" />
<line x1="583.81" y1="344.98" x2="583.30" y2="346.69" stroke="#222" stroke-width="1.25" />
<line x1="551.01" y1="344.80" x2="551.42" y2="345.39" stroke="#222" stroke-width="1.25" />
<line x1="503.49" y1="339.19" x2="503.85" y2="339.96" stroke="#222" stroke-width="1.25" />
<line x1="507.60" y1="342.63" x2="505.77" y2="342.80" stroke="#222" stroke-width="1.25" />
<line x1="521.97" y1="344.83" x2="522.64" y2="345.25" stroke="#222" stroke-width="1.25" />
<line x1="524.63" y1="342.29" x2="523.85" y2="343.45" stroke="#222" stroke-width="1.25" />
<line x1="562.68" y1="340.55" x2="561.50" y2="340.81" stroke="#222" stroke-width="1.25" />
<line x1="571.99" y1="340.20" x2="571.12" y2="340.71" stroke="#222" stroke-width="1.25" />
<line x1="574.02" y1="346.01" x2="573.46" y2="346.96" stroke="#222" stroke-width="1.25" />
<line x1="498.38" y1="340.35" x2="497.53" y2="340.61" stroke="#222" stroke-width="1.25" />
<line x1="556.50" y1="344.10" x2="556.05" y2="344.91" stroke="#222" stroke-width="1.25" />
<line x1="510.36" y1="339.86" x2="509.07" y2="339.93" stroke="#222" stroke-width="1.25" />
<line x1="555.87" y1="343.96" x2="556.42" y2="344.43" stroke="#222" stroke-width="1.25" />
<line x1="498.83" y1="345.00" x2="500.97" y2="345.93" stroke="#222" stroke-width="1.25" />
<line x1="530.05" y1="344.64" x2="531.88" y2="345.49" stroke="#222" stroke-width="1.25" />
<line x1="520.02" y1="341.92" x2="519.96" y2="342.71" stroke="#222" stroke-width="1.25" />
<line x1="519.72" y1="344.98" x2="520.52" y2="345.99" stroke="#222" stroke-width="1.25" />
<line x1="565.95" y1="341.56" x2="566.76" y2="342.13" stroke="#222" stroke-width="1.25" />
<line x1="531.88" y1="342.09" x2="531.26" y2="343.40" stroke="#222" stroke-width="1.25" />
<line x1="575.33" y1="340.39" x2="574.30" y2="342.22" stroke="#222" stroke-width="1.25" />
<line x1="518.52" y1="339.49" x2="518.67" y2="340.28" stroke="#222" stroke-width="1.25" />
<line x1="538.67" y1="344.71" x2="539.44" y2="344.95" stroke="#222" stroke-width="1.25" />
<line x1="540.42" y1="340.83" x2="541.46" y2="341.75" stroke="#222" stroke-width="1.25" />
<line x1="508.09" y1="339.62" x2="508.70" y2="340.93" stroke="#222" stroke-width="1.25" />
<line x1="581.32" y1="344.27" x2="582.30" y2="344.50" stroke="#222" stroke-width="1.25" />
<line x1="564.11" y1="344.05" x2="561.97" y2="344.97" stroke="#222" stroke-width="1.25" />
<line x1="574.28" y1="340.82" x2="572.76" y2="341.09" stroke="#222" stroke-width="1.25" />
<line x1="518.96" y1="340.50" x2="518.06" y2="340.91" stroke="#222" stroke-width="1.25" />
<line x1="504.94" y1="340.97" x2="503.55" y2="341.31" stroke="#222" stroke-width="1.25" />
<line x1="562.95" y1="340.40" x2="563.13" y2="341.56" stroke="#222" stroke-width="1.25" />
<line x1="515.88" y1="343.96" x2="516.22" y2="344.70" stroke="#222" stroke-width="1.25" />
<line x1="585.58" y1="343.79" x2="586.11" y2="344.12" stroke="#222" stroke-width="1.25" />
<line x1="555.94" y1="343.56" x2="557.38" y2="343.67" stroke="#222" stroke-width="1.25" />
<line x1="563.77" y1="343.85" x2="564.88" y2="344.86" stroke="#222" stroke-width="1.25" />
<line x1="551.64" y1="344.49" x2="553.48" y2="345.39" stroke="#222" stroke-width="1.25" />
<line x1="582.13" y1="345.69" x2="580.99" y2="346.23" stroke="#222" stroke-width="1.25" />
<line x1="578.29" y1="341.42" x2="579.56" y2="342.51" stroke="#222" stroke-width="1.25" />
<line x1="578.19" y1="340.66" x2="578.71" y2="341.08" stroke="#222" stroke-width="1.25" />
<line x1="536.79" y1="340.53" x2="538.40" y2="341.64" stroke="#222" stroke-width="1.25" />
<line x1="549.71" y1="346.58" x2="550.26" y2="348.31" stroke="#222" stroke-width="1.25" />
<line x1="498.63" y1="345.67" x2="499.71" y2="346.65" stroke="#222" stroke-width="1.25" />
<line x1="543.29" y1="346.52" x2="543.35" y2="348.90" stroke="#222" stroke-width="1.25" />
<line x1="553.10" y1="341.32" x2="552.26" y2="341.80" stroke="#222" stroke-width="1.25" />
<line x1="586.96" y1="343.62" x2="588.73" y2="345.14" stroke="#222" stroke-width="1.25" />
<line x1="526.30" y1="342.30" x2="527.15" y2="343.89" stroke="#222" stroke-width="1.25" />
<line x1="499.55" y1="341.66" x2="501.38" y2="342.68" stroke="#222" stroke-width="1.25" />
<line x1="497.51" y1="343.26" x2="498.49" y2="344.29" stroke="#222" stroke-width="1.25" />
<line x1="547.79" y1="344.87" x2="548.73" y2="345.30" stroke="#222" stroke-width="1.25" />
<line x1="508.29" y1="345.94" x2="509.04" y2="346.32" stroke="#222" stroke-width="1.25" />
<line x1="544.24" y1="343.86" x2="543.58" y2="344.10" stroke="#222" stroke-width="1.25" />
<line x1="518.47" y1="340.47" x2="518.10" y2="341.84" stroke="#222" stroke-width="1.25" />
<line x1="534.10" y1="345.91" x2="533.05" y2="347.79" stroke="#222" stroke-width="1.25" />
<line x1="583.15" y1="342.14" x2="581.83" y2="342.39" stroke="#222" stroke-width="1.25" />
<line x1="502.12" y1="345.50" x2="502.72" y2="345.70" stroke="#222" stroke-width="1.25" />
<line x1="523.42" y1="341.41" x2="521.27" y2="341.64" stroke="#222" stroke-width="1.25" />
<line x1="535.10" y1="343.33" x2="533.27" y2="344.27" stroke="#222" stroke-width="1.25" />
<line x1="555.98" y1="343.55" x2="556.95" y2="343.92" stroke="#222" stroke-width="1.25" />
<line x1="556.40" y1="344.10" x2="554.60" y2="345.39" stroke="#222" stroke-width="1.25" />
<line x1="583.63" y1="341.57" x2="585.79" y2="342.10" stroke="#222" stroke-width="1.25" />
<line x1="548.54" y1="341.00" x2="547.94" y2="341.87" stroke="#222" stroke-width="1.25" />
<line x1="518.67" y1="341.89" x2="518.54" y2="343.71" stroke="#222" stroke-width="1.25" />
<line x1="504.07" y1="344.31" x2="503.52" y2="345.65" stroke="#222" stroke-width="1.25" />
<line x1="557.65" y1="345.69" x2="559.11" y2="345.74" stroke="#222" stroke-width="1.25" />
<line x1="558.18" y1="345.03" x2="557.76" y2="345.86" stroke="#222" stroke-width="1.25" />
<line x1="583.28" y1="346.05" x2="584.31" y2="346.97" stroke="#222" stroke-width="1.25" />
<line x1="583.23" y1="341.68" x2="583.89" y2="343.91" stroke="#222" stroke-width="1.25" />
<line x1="578.06" y1="341.79" x2="577.22" y2="342.72" stroke="#222" stroke-width="1.25" />
<line x1="556.87" y1="345.44" x2="557.79" y2="345.83" stroke="#222" stroke-width="1.25" />
<line x1="516.74" y1="341.15" x2="517.58" y2="341.25" stroke="#222" stroke-width="1.25" />
<line x1="533.85" y1="342.52" x2="535.45" y2="342.92" stroke="#222" stroke-width="1.25" />
<line x1="581.84" y1="344.45" x2="582.66" y2="346.13" stroke="#222" stroke-width="1.25" />
<line x1="536.63" y1="340.78" x2="536.67" y2="341.41" stroke="#222" stroke-width="1.25" />
<line x1="558.00" y1="340.98" x2="558.93" y2="343.12" stroke="#222" stroke-width="1.25" />
<line x1="566.13" y1="346.11" x2="565.37" y2="347.68" stroke="#222" stroke-width="1.25" />
<line x1="560.59" y1="346.98" x2="562.20" y2="348.13" stroke="#222" stroke-width="1.25" />
<line x1="524.43" y1="341.19" x2="523.00" y2="342.08" stroke="#222" stroke-width="1.25" />
<line x1="573.54" y1="346.55" x2="573.28" y2="347.47" stroke="#222" stroke-width="1.25" />
<line x1="498.84" y1="342.77" x2="498.13" y2="343.60" stroke="#222" stroke-width="1.25" />
<line x1="503.77" y1="339.12" x2="505.35" y2="340.08" stroke="#222" stroke-width="1.25" />
<line x1="497.85" y1="340.62" x2="499.12" y2="342.01" stroke="#222" stroke-width="1.25" />
<line x1="585.86" y1="340.29" x2="587.99" y2="341.09" stroke="#222" stroke-width="1.25" />
<line x1="584.31" y1="341.25" x2="585.07" y2="342.59" stroke="#222" stroke-width="1.25" />
<line x1="526.15" y1="342.38" x2="526.23" y2="343.44" stroke="#222" stroke-width="1.25" />
<line x1="502.42" y1="339.66" x2="503.09" y2="340.03" stroke="#222" stroke-width="1.25" />
<line x1="553.35" y1="344.86" x2="554.73" y2="346.35" stroke="#222" stroke-width="1.25" />
<line x1="562.73" y1="342.38" x2="562.75" y2="343.32" stroke="#222" stroke-width="1.25" />
<line x1="580.64" y1="344.30" x2="581.51" y2="344.44" stroke="#222" stroke-width="1.25" />
<line x1="559.49" y1="342.66" x2="558.85" y2="343.44" stroke="#222" stroke-width="1.25" />
<line x1="568.85" y1="345.91" x2="570.43" y2="346.40" stroke="#222" stroke-width="1.25" />
<line x1="514.62" y1="344.26" x2="512.97" y2="345.43" stroke="#222" stroke-width="1.25" />
<line x1="518.20" y1="339.94" x2="517.40" y2="341.35" stroke="#222" stroke-width="1.25" />
<line x1="509.87" y1="340.53" x2="509.67" y2="341.30" stroke="#222" stroke-width="1.25" />
<line x1="554.24" y1="341.51" x2="555.18" y2="342.50" stroke="#222" stroke-width="1.25" />
<line x1="545.22" y1="344.92" x2="547.11" y2="345.10" stroke="#222" stroke-width="1.25" />
<line x1="517.28" y1="341.34" x2="516.49" y2="343.00" stroke="#222" stroke-width="1.25" />
<line x1="552.52" y1="346.35" x2="553.45" y2="347.05" stroke="#222" stroke-width="1.25" />
<line x1="556.80" y1="341.70" x2="557.68" y2="342.18" stroke="#222" stroke-width="1.25" />
<line x1="566.53" y1="346.06" x2="565.07" y2="347.87" stroke="#222" stroke-width="1.25" />
<line x1="568.60" y1="342.23" x2="569.63" y2="343.82" stroke="#222" stroke-width="1.25" />
<line x1="502.48" y1="343.36" x2="503.14" y2="343.55" stroke="#222" stroke-width="1.25" />
<line x1="543.48" y1="340.70" x2="541.35" y2="341.17" stroke="#222" stroke-width="1.25" />
<line x1="538.83" y1="340.98" x2="540.23" y2="341.53" stroke="#222" stroke-width="1.25" />
<line x1="544.16" y1="342.26" x2="543.18" y2="343.47" stroke="#222" stroke-width="1.25" />
<line x1="566.90" y1="340.69" x2="568.17" y2="340.98" stroke="#222" stroke-width="1.25" />
<line x1="540.78" y1="341.40" x2="540.27" y2="342.27" stroke="#222" stroke-width="1.25" />
<line x1="525.98" y1="342.80" x2="524.75" y2="344.36" stroke="#222" stroke-width="1.25" />
<line x1="530.76" y1="342.66" x2="528.54" y2="343.18" stroke="#222" stroke-width="1.25" />
<line x1="552.88" y1="340.49" x2="553.12" y2="342.22" stroke="#222" stroke-width="1.25" />
<line x1="522.43" y1="339.60" x2="520.20" y2="339.73" stroke="#222" stroke-width="1.25" />
<line x1="509.04" y1="342.45" x2="508.62" y2="343.51" stroke="#222" stroke-width="1.25" />
<line x1="503.63" y1="344.37" x2="502.59" y2="345.29" stroke="#222" stroke-width="1.25" />
<line x1="505.17" y1="341.88" x2="507.40" y2="342.56" stroke="#222" stroke-width="1.25" />
<line x1="502.08" y1="341.09" x2="501.46" y2="341.65" stroke="#222" stroke-width="1.25" />
<line x1="507.04" y1="339.63" x2="508.39" y2="340.40" stroke="#222" stroke-width="1.25" />
<line x1="572.06" y1="341.23" x2="573.75" y2="342.26" stroke="#222" stroke-width="1.25" />
<line x1="535.61" y1="341.95" x2="536.57" y2="342.34" stroke="#222" stroke-width="1.25" />
<line x1="584.47" y1="341.01" x2="585.80" y2="342.42" stroke="#222" stroke-width="1.25" />
<line x1="577.31" y1="346.83" x2="577.51" y2="349.15" stroke="#222" stroke-width="1.25" />
<line x1="551.56" y1="341.83" x2="551.77" y2="343.70" stroke="#222" stroke-width="1.25" />
<line x1="563.19" y1="340.82" x2="565.10" y2="342.15" stroke="#222" stroke-width="1.25" />
<line x1="507.08" y1="344.88" x2="507.58" y2="345.79" stroke="#222" stroke-width="1.25" />
<line x1="520.34" y1="342.66" x2="519.47" y2="342.68" stroke="#222" stroke-width="1.25" />
<line x1="573.98" y1="342.40" x2="575.64" y2="343.40" stroke="#222" stroke-width="1.25" />
<line x1="528.07" y1="340.75" x2="528.60" y2="342.76" stroke="#222" stroke-width="1.25" />
<line x1="574.74" y1="344.32" x2="576.72" y2="344.38" stroke="#222" stroke-width="1.25" />
<line x1="551.78" y1="346.32" x2="550.61" y2="346.50" stroke="#222" stroke-width="1.25" />
<line x1="573.44" y1="346.12" x2="574.28" y2="347.06" stroke="#222" stroke-width="1.25" />
<line x1="531.03" y1="341.99" x2="531.33" y2="342.73" stroke="#222" stroke-width="1.25" />
<line x1="517.83" y1="345.76" x2="518.31" y2="347.43" stroke="#222" stroke-width="1.25" />
<line x1="576.91" y1="345.71" x2="578.54" y2="347.28" stroke="#222" stroke-width="1.25" />
<line x1="569.47" y1="347.33" x2="568.19" y2="348.81" stroke="#222" stroke-width="1.25" />
<line x1="570.26" y1="341.84" x2="569.66" y2="342.97" stroke="#222" stroke-width="1.25" />
<line x1="572.65" y1="340.98" x2="572.51" y2="342.17" stroke="#222" stroke-width="1.25" />
<line x1="570.94" y1="342.54" x2="569.07" y2="343.54" stroke="#222" stroke-width="1.25" />
<line x1="576.16" y1="341.07" x2="574.25" y2="341.44" stroke="#222" stroke-width="1.25" />
<line x1="558.09" y1="344.61" x2="560.23" y2="344.94" stroke="#222" stroke-width="1.25" />
<line x1="546.53" y1="342.97" x2="547.50" y2="344.73" stroke="#222" stroke-width="1.25" />
<line x1="567.51" y1="346.39" x2="568.46" y2="347.15" stroke="#222" stroke-width="1.25" />
<line x1="519.82" y1="340.01" x2="520.15" y2="340.57" stroke="#222" stroke-width="1.25" />
<line x1="568.79" y1="341.62" x2="569.50" y2="341.78" stroke="#222" stroke-width="1.25" />
<line x1="563.83" y1="341.34" x2="563.99" y2="342.65" stroke="#222" stroke-width="1.25" />
<line x1="569.31" y1="347.06" x2="570.29" y2="348.49" stroke="#222" stroke-width="1.25" />
<line x1="577.58" y1="343.58" x2="575.75" y2="344.17" stroke="#222" stroke-width="1.25" />
<line x1="525.38" y1="345.64" x2="525.20" y2="346.41" stroke="#222" stroke-width="1.25" />
<line x1="550.08" y1="345.77" x2="549.99" y2="347.24" stroke="#222" stroke-width="1.25" />
<line x1="534.77" y1="345.87" x2="534.28" y2="346.71" stroke="#222" stroke-width="1.25" />
<line x1="529.93" y1="342.05" x2="528.09" y2="342.28" stroke="#222" stroke-width="1.25" />
<line x1="508.67" y1="345.62" x2="510.33" y2="345.80" stroke="#222" stroke-width="1.25" />
<line x1="536.20" y1="344.71" x2="536.37" y2="345.46" stroke="#222" stroke-width="1.25" />
<line x1="544.37" y1="345.60" x2="543.39" y2="346.37" stroke="#222" stroke-width="1.25" />
<line x1="517.40" y1="344.57" x2="516.59" y2="345.15" stroke="#222" stroke-width="1.25" />
<line x1="576.54" y1="347.48" x2="576.80" y2="348.74" stroke="#222" stroke-width="1.25" />
<line x1="561.03" y1="346.72" x2="561.95" y2="347.40" stroke="#222" stroke-width="1.25" />
<line x1="526.95" y1="344.65" x2="528.27" y2="345.53" stroke="#222" stroke-width="1.25" />
<line x1="542.28" y1="344.46" x2="544.37" y2="345.47" stroke="#222" stroke-width="1.25" />
<line x1="587.00" y1="344.41" x2="586.25" y2="344.97" stroke="#222" stroke-width="1.25" />
<line x1="578.96" y1="344.21" x2="577.39" y2="345.69" stroke="#222" stroke-width="1.25" />
<line x1="529.87" y1="346.09" x2="530.38" y2="346.48" stroke="#222" stroke-width="1.25" />
<line x1="542.47" y1="346.14" x2="540.26" y2="346.85" stroke="#222" stroke-width="1.25" />
<line x1="543.22" y1="346.40" x2="543.06" y2="347.25" stroke="#222" stroke-width="1.25" />
<line x1="553.98" y1="345.65" x2="554.38" y2="347.29" stroke="#222" stroke-width="1.25" />
<line x1="520.69" y1="341.28" x2="521.07" y2="342.76" stroke="#222" stroke-width="1.25" />
<line x1="539.41" y1="340.22" x2="540.62" y2="340.24" stroke="#222" stroke-width="1.25" />
<line x1="561.66" y1="345.39" x2="562.44" y2="346.10" stroke="#222" stroke-width="1.25" />
<line x1="543.74" y1="340.88" x2="543.04" y2="343.00" stroke="#222" stroke-width="1.25" />
<line x1="515.58" y1="343.41" x2="514.33" y2="344.91" stroke="#222" stroke-width="1.25" />
<line x1="561.23" y1="345.10" x2="562.61" y2="346.69" stroke="#222" stroke-width="1.25" />
<line x1="580.30" y1="340.47" x2="578.92" y2="340.71" stroke="#222" stroke-width="1.25" />
<line x1="505.23" y1="339.60" x2="503.77" y2="340.68" stroke="#222" stroke-width="1.25" />
<line x1="510.22" y1="342.43" x2="509.21" y2="344.60" stroke="#222" stroke-width="1.25" />
<line x1="527.58" y1="344.91" x2="528.26" y2="345.58" stroke="#222" stroke-width="1.25" />
<line x1="511.93" y1="342.10" x2="511.51" y2="343.17" stroke="#222" stroke-width="1.25" />
<line x1="511.99" y1="340.74" x2="512.91" y2="340.99" stroke="#222" stroke-width="1.25" />
<line x1="525.76" y1="343.00" x2="526.99" y2="343.79" stroke="#222" stroke-width="1.25" />
<line x1="536.86" y1="346.58" x2="536.96" y2="348.87" stroke="#222" stroke-width="1.25" />
<line x1="539.69" y1="340.99" x2="539.45" y2="341.82" stroke="#222" stroke-width="1.25" />
<line x1="512.64" y1="339.72" x2="511.26" y2="341.61" stroke="#222" stroke-width="1.25" />
<line x1="533.60" y1="342.03" x2="533.89" y2="343.23" stroke="#222" stroke-width="1.25" />
<line x1="559.32" y1="342.71" x2="561.23" y2="343.70" stroke="#222" stroke-width="1.25" />
<line x1="548.75" y1="339.71" x2="547.04" y2="340.59" stroke="#222" stroke-width="1.25" />
<line x1="529.23" y1="343.96" x2="527.94" y2="344.28" stroke="#222" stroke-width="1.25" />
<line x1="536.21" y1="341.67" x2="535.91" y2="343.44" stroke="#222" stroke-width="1.25" />
<line x1="563.29" y1="346.91" x2="564.42" y2="347.46" stroke="#222" stroke-width="1.25" />
<line x1="573.72" y1="345.92" x2="573.21" y2="347.67" stroke="#222" stroke-width="1.25" />
<line x1="527.94" y1="346.20" x2="527.73" y2="347.51" stroke="#222" stroke-width="1.25" />
<line x1="513.83" y1="340.04" x2="511.89" y2="340.68" stroke="#222" stroke-width="1.25" />
<line x1="499.89" y1="341.31" x2="499.99" y2="342.80" stroke="#222" stroke-width="1.25" />
<line x1="530.03" y1="345.88" x2="530.74" y2="347.27" stroke="#222" stroke-width="1.25" />
<line x1="580.68" y1="344.90" x2="580.77" y2="346.09" stroke="#222" stroke-width="1.25" />
<line x1="458.00" y1="345.90" x2="459.30" y2="348.40" stroke="#222" stroke-width="0.9" />
<line x1="460.50" y1="345.90" x2="461.80" y2="348.40" stroke="#222" stroke-width="0.9" />
<line x1="463.00" y1="345.90" x2="464.30" y2="348.40" stroke="#222" stroke-width="0.9" />
<line x1="465.50" y1="345.90" x2="466.80" y2="348.40" stroke="#222" stroke-width="0.9" />
<line x1="468.00" y1="345.90" x2="469.30" y2="348.40" stroke="#222" stroke-width="0.9" />
<line x1="470.50" y1="345.90" x2="471.80" y2="348.40" stroke="#222" stroke-width="0.9" />
<line x1="473.00" y1="345.90" x2="474.30" y2="348.40" stroke="#222" stroke-width="0.9" />
<line x1="475.50" y1="345.90" x2="476.80" y2="348.40" stroke="#222" stroke-width="0.9" />
<line x1="478.00" y1="345.90" x2="479.30" y2="348.40" stroke="#222" stroke-width="0.9" />
<line x1="480.50" y1="345.90" x2="481.80" y2="348.40" stroke="#222" stroke-width="0.9" />
<line x1="483.00" y1="345.90" x2="484.30" y2="348.40" stroke="#222" stroke-width="0.9" />
<line x1="485.50" y1="345.90" x2="486.80" y2="348.40" stroke="#222" stroke-width="0.9" />
<line x1="488.00" y1="345.90" x2="489.30" y2="348.40" stroke="#222" stroke-width="0.9" />
<line x1="490.50" y1="345.90" x2="491.80" y2="348.40" stroke="#222" stroke-width="0.9" />
<line x1="493.00" y1="345.90" x2="494.30" y2="348.40" stroke="#222" stroke-width="0.9" />
<line x1="495.50" y1="345.90" x2="496.80" y2="348.40" stroke="#222" stroke-width="0.9" />
<line x1="462.50" y1="348.80" x2="497.00" y2="349.20" stroke="#222" stroke-width="0.9" />
<line x1="589.00" y1="343.80" x2="623.00" y2="344.20" stroke="#222" stroke-width="1.0" />
<line x1="589.00" y1="348.80" x2="625.00" y2="349.00" stroke="#222" stroke-width="1.0" />
<line x1="602.77" y1="346.88" x2="601.98" y2="347.51" stroke="#222" stroke-width="1.1" />
<line x1="602.23" y1="345.91" x2="603.09" y2="347.78" stroke="#222" stroke-width="1.1" />
<line x1="607.79" y1="345.41" x2="608.75" y2="347.07" stroke="#222" stroke-width="1.1" />
<line x1="595.29" y1="347.24" x2="596.19" y2="347.30" stroke="#222" stroke-width="1.1" />
<line x1="591.96" y1="347.74" x2="592.83" y2="348.17" stroke="#222" stroke-width="1.1" />
<line x1="591.90" y1="345.36" x2="590.73" y2="346.66" stroke="#222" stroke-width="1.1" />
<line x1="620.04" y1="348.37" x2="619.71" y2="350.42" stroke="#222" stroke-width="1.1" />
<line x1="592.96" y1="348.27" x2="593.14" y2="349.16" stroke="#222" stroke-width="1.1" />
<line x1="614.69" y1="347.98" x2="614.95" y2="348.68" stroke="#222" stroke-width="1.1" />
<line x1="618.81" y1="347.52" x2="618.16" y2="349.58" stroke="#222" stroke-width="1.1" />
<line x1="591.26" y1="344.45" x2="591.84" y2="344.69" stroke="#222" stroke-width="1.1" />
<line x1="613.37" y1="346.97" x2="614.18" y2="347.27" stroke="#222" stroke-width="1.1" />
<line x1="595.97" y1="346.88" x2="594.86" y2="348.72" stroke="#222" stroke-width="1.1" />
<line x1="601.90" y1="348.51" x2="602.15" y2="349.71" stroke="#222" stroke-width="1.1" />
<line x1="598.36" y1="345.22" x2="596.17" y2="345.40" stroke="#222" stroke-width="1.1" />
<line x1="613.29" y1="344.97" x2="614.01" y2="345.42" stroke="#222" stroke-width="1.1" />
<line x1="601.58" y1="347.44" x2="603.01" y2="347.71" stroke="#222" stroke-width="1.1" />
<line x1="612.46" y1="344.35" x2="612.82" y2="346.18" stroke="#222" stroke-width="1.1" />
<line x1="609.00" y1="346.19" x2="607.54" y2="346.76" stroke="#222" stroke-width="1.1" />
<line x1="601.12" y1="345.94" x2="599.18" y2="346.29" stroke="#222" stroke-width="1.1" />
<line x1="620.19" y1="346.67" x2="620.98" y2="347.05" stroke="#222" stroke-width="1.1" />
<line x1="602.65" y1="347.24" x2="604.53" y2="347.27" stroke="#222" stroke-width="1.1" />
<line x1="615.94" y1="346.47" x2="617.81" y2="346.50" stroke="#222" stroke-width="1.1" />
<line x1="603.67" y1="347.14" x2="603.28" y2="348.87" stroke="#222" stroke-width="1.1" />
<line x1="603.49" y1="348.42" x2="601.42" y2="348.71" stroke="#222" stroke-width="1.1" />
<line x1="610.30" y1="345.59" x2="610.69" y2="346.55" stroke="#222" stroke-width="1.1" />
<line x1="619.82" y1="347.69" x2="618.32" y2="348.87" stroke="#222" stroke-width="1.1" />
<line x1="622.70" y1="347.23" x2="623.68" y2="348.75" stroke="#222" stroke-width="1.1" />
<line x1="598.66" y1="346.89" x2="600.39" y2="347.83" stroke="#222" stroke-width="1.1" />
<line x1="606.13" y1="345.41" x2="605.42" y2="345.59" stroke="#222" stroke-width="1.1" />
<line x1="620.70" y1="347.53" x2="622.32" y2="348.35" stroke="#222" stroke-width="1.1" />
<line x1="608.92" y1="348.19" x2="608.58" y2="349.43" stroke="#222" stroke-width="1.1" />
<line x1="620.80" y1="344.58" x2="620.22" y2="345.08" stroke="#222" stroke-width="1.1" />
<line x1="599.13" y1="344.70" x2="597.93" y2="345.21" stroke="#222" stroke-width="1.1" />
<line x1="613.97" y1="345.33" x2="612.89" y2="346.56" stroke="#222" stroke-width="1.1" />
<line x1="593.22" y1="346.37" x2="592.61" y2="347.10" stroke="#222" stroke-width="1.1" />
<line x1="611.59" y1="345.42" x2="612.41" y2="347.33" stroke="#222" stroke-width="1.1" />
<line x1="621.12" y1="348.59" x2="621.47" y2="350.07" stroke="#222" stroke-width="1.1" />
<line x1="616.68" y1="347.54" x2="616.95" y2="349.50" stroke="#222" stroke-width="1.1" />
<line x1="603.24" y1="348.38" x2="603.31" y2="349.17" stroke="#222" stroke-width="1.1" />
<line x1="614.72" y1="344.84" x2="614.35" y2="345.42" stroke="#222" stroke-width="1.1" />
<line x1="622.61" y1="346.58" x2="622.06" y2="347.17" stroke="#222" stroke-width="1.1" />
<line x1="611.02" y1="345.86" x2="612.37" y2="347.20" stroke="#222" stroke-width="1.1" />
<line x1="591.10" y1="346.30" x2="592.99" y2="346.83" stroke="#222" stroke-width="1.1" />
<line x1="619.48" y1="344.35" x2="619.63" y2="345.69" stroke="#222" stroke-width="1.1" />
<line x1="613.72" y1="347.41" x2="614.71" y2="349.25" stroke="#222" stroke-width="1.1" />
<line x1="596.12" y1="344.80" x2="595.45" y2="345.24" stroke="#222" stroke-width="1.1" />
<line x1="596.14" y1="346.40" x2="596.56" y2="347.15" stroke="#222" stroke-width="1.1" />
<line x1="620.69" y1="346.29" x2="619.90" y2="346.91" stroke="#222" stroke-width="1.1" />
<line x1="620.12" y1="345.17" x2="618.60" y2="345.63" stroke="#222" stroke-width="1.1" />
<line x1="622.05" y1="347.59" x2="621.46" y2="348.92" stroke="#222" stroke-width="1.1" />
<line x1="618.21" y1="346.15" x2="620.17" y2="346.78" stroke="#222" stroke-width="1.1" />
<line x1="616.58" y1="347.20" x2="615.91" y2="347.90" stroke="#222" stroke-width="1.1" />
<line x1="605.29" y1="347.82" x2="603.23" y2="348.07" stroke="#222" stroke-width="1.1" />
<line x1="595.30" y1="347.21" x2="595.09" y2="348.44" stroke="#222" stroke-width="1.1" />
<line x1="595.54" y1="344.80" x2="595.67" y2="346.19" stroke="#222" stroke-width="1.1" />
<line x1="598.84" y1="345.82" x2="598.53" y2="347.61" stroke="#222" stroke-width="1.1" />
<line x1="609.45" y1="344.91" x2="608.34" y2="345.33" stroke="#222" stroke-width="1.1" />
<line x1="621.67" y1="348.52" x2="623.06" y2="349.17" stroke="#222" stroke-width="1.1" />
<line x1="621.90" y1="345.89" x2="621.74" y2="346.98" stroke="#222" stroke-width="1.1" />
<line x1="590.95" y1="345.10" x2="591.92" y2="345.50" stroke="#222" stroke-width="1.1" />
<line x1="610.77" y1="346.68" x2="609.10" y2="346.95" stroke="#222" stroke-width="1.1" />
<line x1="601.96" y1="348.38" x2="601.36" y2="349.72" stroke="#222" stroke-width="1.1" />
<line x1="618.46" y1="347.15" x2="619.13" y2="348.57" stroke="#222" stroke-width="1.1" />
<line x1="599.91" y1="348.46" x2="601.46" y2="349.96" stroke="#222" stroke-width="1.1" />
<line x1="592.12" y1="344.24" x2="591.97" y2="345.16" stroke="#222" stroke-width="1.1" />
<line x1="606.75" y1="344.72" x2="605.29" y2="345.54" stroke="#222" stroke-width="1.1" />
<line x1="612.58" y1="348.28" x2="610.90" y2="348.32" stroke="#222" stroke-width="1.1" />
<line x1="613.54" y1="344.21" x2="614.80" y2="344.41" stroke="#222" stroke-width="1.1" />
<line x1="621.98" y1="345.58" x2="621.85" y2="346.18" stroke="#222" stroke-width="1.1" />
<line x1="603.72" y1="348.17" x2="603.19" y2="350.01" stroke="#222" stroke-width="1.1" />
<line x1="590.43" y1="345.09" x2="592.06" y2="346.12" stroke="#222" stroke-width="1.1" />
<line x1="593.35" y1="348.30" x2="594.70" y2="349.80" stroke="#222" stroke-width="1.1" />
<line x1="607.01" y1="345.62" x2="605.77" y2="345.75" stroke="#222" stroke-width="1.1" />
<line x1="613.02" y1="344.50" x2="611.15" y2="345.60" stroke="#222" stroke-width="1.1" />
<line x1="593.65" y1="347.48" x2="594.20" y2="348.11" stroke="#222" stroke-width="1.1" />
<line x1="602.02" y1="347.11" x2="599.85" y2="347.43" stroke="#222" stroke-width="1.1" />
<line x1="622.79" y1="346.94" x2="622.39" y2="347.70" stroke="#222" stroke-width="1.1" />
<line x1="613.96" y1="346.63" x2="614.83" y2="348.47" stroke="#222" stroke-width="1.1" />
<line x1="598.42" y1="344.82" x2="599.15" y2="345.22" stroke="#222" stroke-width="1.1" />
<line x1="609.42" y1="347.72" x2="610.65" y2="348.40" stroke="#222" stroke-width="1.1" />
<line x1="608.96" y1="346.67" x2="609.35" y2="348.08" stroke="#222" stroke-width="1.1" />
<line x1="590.50" y1="344.46" x2="590.73" y2="345.41" stroke="#222" stroke-width="1.1" />
<line x1="614.98" y1="345.26" x2="614.14" y2="345.78" stroke="#222" stroke-width="1.1" />
<line x1="593.06" y1="346.30" x2="593.45" y2="347.37" stroke="#222" stroke-width="1.1" />
<line x1="615.25" y1="345.18" x2="614.26" y2="346.84" stroke="#222" stroke-width="1.1" />
<line x1="604.94" y1="346.41" x2="603.42" y2="346.79" stroke="#222" stroke-width="1.1" />
<line x1="595.97" y1="344.51" x2="597.06" y2="344.79" stroke="#222" stroke-width="1.1" />
<line x1="592.93" y1="347.05" x2="593.19" y2="348.12" stroke="#222" stroke-width="1.1" />
<line x1="606.90" y1="348.32" x2="607.51" y2="348.91" stroke="#222" stroke-width="1.1" />
<line x1="619.20" y1="339.50" x2="619.20" y2="344.00" stroke="#222" stroke-width="0.7" />
<path d="M462.5,345.6 L497,346.2 M444.5,364 A18,18.3 0 0 1 462.5,345.6 M444.5,364 A18,17.5 0 0 0 462.5,381.5 L619.3,382.7 A17.3,17.9 0 0 0 636.6,364.8 A17.3,17.6 0 0 0 624.5,348.2" stroke="#222" stroke-width="1.4" fill="none" stroke-linejoin="round" stroke-linecap="round" />
<path d="M462.5,349.2 L463,349.2 M448.0,364 A14.5,14.8 0 0 1 462.5,349.2 M448.0,364 A14.5,14.6 0 0 0 462.5,378.6 L619.3,379.7" stroke="#222" stroke-width="1.0" fill="none" stroke-linejoin="round" stroke-linecap="round" />
<line x1="452.00" y1="381.50" x2="452.00" y2="383.30" stroke="#222" stroke-width="0.9" />
<line x1="454.60" y1="381.52" x2="454.60" y2="383.32" stroke="#222" stroke-width="0.9" />
<line x1="457.20" y1="381.54" x2="457.20" y2="383.34" stroke="#222" stroke-width="0.9" />
<line x1="459.80" y1="381.55" x2="459.80" y2="383.35" stroke="#222" stroke-width="0.9" />
<line x1="462.40" y1="381.57" x2="462.40" y2="383.37" stroke="#222" stroke-width="0.9" />
<line x1="465.00" y1="381.59" x2="465.00" y2="383.39" stroke="#222" stroke-width="0.9" />
<line x1="467.60" y1="381.61" x2="467.60" y2="383.41" stroke="#222" stroke-width="0.9" />
<line x1="470.20" y1="381.63" x2="470.20" y2="383.43" stroke="#222" stroke-width="0.9" />
<line x1="472.80" y1="381.65" x2="472.80" y2="383.45" stroke="#222" stroke-width="0.9" />
<line x1="475.40" y1="381.66" x2="475.40" y2="383.46" stroke="#222" stroke-width="0.9" />
<line x1="478.00" y1="381.68" x2="478.00" y2="383.48" stroke="#222" stroke-width="0.9" />
<line x1="480.60" y1="381.70" x2="480.60" y2="383.50" stroke="#222" stroke-width="0.9" />
<line x1="483.20" y1="381.72" x2="483.20" y2="383.52" stroke="#222" stroke-width="0.9" />
<line x1="485.80" y1="381.74" x2="485.80" y2="383.54" stroke="#222" stroke-width="0.9" />
<line x1="488.40" y1="381.75" x2="488.40" y2="383.55" stroke="#222" stroke-width="0.9" />
<line x1="491.00" y1="381.77" x2="491.00" y2="383.57" stroke="#222" stroke-width="0.9" />
<line x1="493.60" y1="381.79" x2="493.60" y2="383.59" stroke="#222" stroke-width="0.9" />
<line x1="496.20" y1="381.81" x2="496.20" y2="383.61" stroke="#222" stroke-width="0.9" />
<line x1="498.80" y1="381.83" x2="498.80" y2="383.63" stroke="#222" stroke-width="0.9" />
<line x1="501.40" y1="381.85" x2="501.40" y2="383.65" stroke="#222" stroke-width="0.9" />
<line x1="504.00" y1="381.86" x2="504.00" y2="383.66" stroke="#222" stroke-width="0.9" />
<line x1="506.60" y1="381.88" x2="506.60" y2="383.68" stroke="#222" stroke-width="0.9" />
<line x1="509.20" y1="381.90" x2="509.20" y2="383.70" stroke="#222" stroke-width="0.9" />
<line x1="511.80" y1="381.92" x2="511.80" y2="383.72" stroke="#222" stroke-width="0.9" />
<line x1="514.40" y1="381.94" x2="514.40" y2="383.74" stroke="#222" stroke-width="0.9" />
<line x1="517.00" y1="381.95" x2="517.00" y2="383.75" stroke="#222" stroke-width="0.9" />
<line x1="519.60" y1="381.97" x2="519.60" y2="383.77" stroke="#222" stroke-width="0.9" />
<line x1="522.20" y1="381.99" x2="522.20" y2="383.79" stroke="#222" stroke-width="0.9" />
<line x1="524.80" y1="382.01" x2="524.80" y2="383.81" stroke="#222" stroke-width="0.9" />
<line x1="527.40" y1="382.03" x2="527.40" y2="383.83" stroke="#222" stroke-width="0.9" />
<line x1="530.00" y1="382.05" x2="530.00" y2="383.85" stroke="#222" stroke-width="0.9" />
<line x1="532.60" y1="382.06" x2="532.60" y2="383.86" stroke="#222" stroke-width="0.9" />
<line x1="535.20" y1="382.08" x2="535.20" y2="383.88" stroke="#222" stroke-width="0.9" />
<line x1="537.80" y1="382.10" x2="537.80" y2="383.90" stroke="#222" stroke-width="0.9" />
<line x1="540.40" y1="382.12" x2="540.40" y2="383.92" stroke="#222" stroke-width="0.9" />
<line x1="543.00" y1="382.14" x2="543.00" y2="383.94" stroke="#222" stroke-width="0.9" />
<line x1="545.60" y1="382.16" x2="545.60" y2="383.96" stroke="#222" stroke-width="0.9" />
<line x1="548.20" y1="382.17" x2="548.20" y2="383.97" stroke="#222" stroke-width="0.9" />
<line x1="550.80" y1="382.19" x2="550.80" y2="383.99" stroke="#222" stroke-width="0.9" />
<line x1="553.40" y1="382.21" x2="553.40" y2="384.01" stroke="#222" stroke-width="0.9" />
<line x1="556.00" y1="382.23" x2="556.00" y2="384.03" stroke="#222" stroke-width="0.9" />
<line x1="558.60" y1="382.25" x2="558.60" y2="384.05" stroke="#222" stroke-width="0.9" />
<line x1="561.20" y1="382.26" x2="561.20" y2="384.06" stroke="#222" stroke-width="0.9" />
<line x1="563.80" y1="382.28" x2="563.80" y2="384.08" stroke="#222" stroke-width="0.9" />
<line x1="566.40" y1="382.30" x2="566.40" y2="384.10" stroke="#222" stroke-width="0.9" />
<line x1="569.00" y1="382.32" x2="569.00" y2="384.12" stroke="#222" stroke-width="0.9" />
<line x1="571.60" y1="382.34" x2="571.60" y2="384.14" stroke="#222" stroke-width="0.9" />
<line x1="574.20" y1="382.36" x2="574.20" y2="384.16" stroke="#222" stroke-width="0.9" />
<line x1="576.80" y1="382.37" x2="576.80" y2="384.17" stroke="#222" stroke-width="0.9" />
<line x1="579.40" y1="382.39" x2="579.40" y2="384.19" stroke="#222" stroke-width="0.9" />
<line x1="582.00" y1="382.41" x2="582.00" y2="384.21" stroke="#222" stroke-width="0.9" />
<line x1="584.60" y1="382.43" x2="584.60" y2="384.23" stroke="#222" stroke-width="0.9" />
<line x1="587.20" y1="382.45" x2="587.20" y2="384.25" stroke="#222" stroke-width="0.9" />
<line x1="589.80" y1="382.46" x2="589.80" y2="384.26" stroke="#222" stroke-width="0.9" />
<line x1="592.40" y1="382.48" x2="592.40" y2="384.28" stroke="#222" stroke-width="0.9" />
<line x1="595.00" y1="382.50" x2="595.00" y2="384.30" stroke="#222" stroke-width="0.9" />
<line x1="597.60" y1="382.52" x2="597.60" y2="384.32" stroke="#222" stroke-width="0.9" />
<line x1="600.20" y1="382.54" x2="600.20" y2="384.34" stroke="#222" stroke-width="0.9" />
<line x1="602.80" y1="382.56" x2="602.80" y2="384.36" stroke="#222" stroke-width="0.9" />
<line x1="605.40" y1="382.57" x2="605.40" y2="384.37" stroke="#222" stroke-width="0.9" />
<line x1="608.00" y1="382.59" x2="608.00" y2="384.39" stroke="#222" stroke-width="0.9" />
<line x1="610.60" y1="382.61" x2="610.60" y2="384.41" stroke="#222" stroke-width="0.9" />
<line x1="613.20" y1="382.63" x2="613.20" y2="384.43" stroke="#222" stroke-width="0.9" />
<line x1="615.80" y1="382.65" x2="615.80" y2="384.45" stroke="#222" stroke-width="0.9" />
<line x1="618.40" y1="382.66" x2="618.40" y2="384.46" stroke="#222" stroke-width="0.9" />
<line x1="621.00" y1="382.68" x2="621.00" y2="384.48" stroke="#222" stroke-width="0.9" />
<line x1="623.60" y1="382.70" x2="623.60" y2="384.50" stroke="#222" stroke-width="0.9" />
<line x1="461.24" y1="378.64" x2="460.93" y2="382.13" stroke="#555" stroke-width="0.6" />
<line x1="459.49" y1="378.38" x2="458.76" y2="381.80" stroke="#555" stroke-width="0.6" />
<line x1="457.78" y1="377.90" x2="456.64" y2="381.21" stroke="#555" stroke-width="0.6" />
<line x1="456.14" y1="377.21" x2="454.61" y2="380.36" stroke="#555" stroke-width="0.6" />
<line x1="454.60" y1="376.33" x2="452.70" y2="379.26" stroke="#555" stroke-width="0.6" />
<line x1="453.18" y1="375.26" x2="450.93" y2="377.94" stroke="#555" stroke-width="0.6" />
<line x1="451.90" y1="374.03" x2="449.34" y2="376.41" stroke="#555" stroke-width="0.6" />
<line x1="450.77" y1="372.64" x2="447.94" y2="374.70" stroke="#555" stroke-width="0.6" />
<line x1="449.82" y1="371.13" x2="446.76" y2="372.82" stroke="#555" stroke-width="0.6" />
<line x1="449.06" y1="369.51" x2="445.81" y2="370.82" stroke="#555" stroke-width="0.6" />
<line x1="448.49" y1="367.80" x2="445.11" y2="368.71" stroke="#555" stroke-width="0.6" />
<line x1="448.14" y1="366.05" x2="444.68" y2="366.53" stroke="#555" stroke-width="0.6" />
<line x1="448.00" y1="364.26" x2="444.50" y2="364.32" stroke="#555" stroke-width="0.6" />
<line x1="448.08" y1="362.46" x2="444.60" y2="362.10" stroke="#555" stroke-width="0.6" />
<line x1="448.37" y1="360.69" x2="444.96" y2="359.91" stroke="#555" stroke-width="0.6" />
<line x1="448.87" y1="358.97" x2="445.59" y2="357.78" stroke="#555" stroke-width="0.6" />
<line x1="449.58" y1="357.33" x2="446.46" y2="355.74" stroke="#555" stroke-width="0.6" />
<line x1="450.48" y1="355.78" x2="447.58" y2="353.82" stroke="#555" stroke-width="0.6" />
<line x1="451.56" y1="354.36" x2="448.92" y2="352.06" stroke="#555" stroke-width="0.6" />
<line x1="452.80" y1="353.08" x2="450.46" y2="350.47" stroke="#555" stroke-width="0.6" />
<line x1="454.18" y1="351.96" x2="452.18" y2="349.09" stroke="#555" stroke-width="0.6" />
<line x1="455.69" y1="351.02" x2="454.05" y2="347.93" stroke="#555" stroke-width="0.6" />
<line x1="457.30" y1="350.28" x2="456.05" y2="347.01" stroke="#555" stroke-width="0.6" />
<line x1="458.99" y1="349.74" x2="458.15" y2="346.34" stroke="#555" stroke-width="0.6" />
<line x1="460.73" y1="349.41" x2="460.31" y2="345.94" stroke="#555" stroke-width="0.6" />
<line x1="462.50" y1="349.30" x2="462.50" y2="345.80" stroke="#555" stroke-width="0.6" />
<circle cx="462.50" cy="364.20" r="4.90" stroke="#222" stroke-width="1.5" fill="none"/>
<circle cx="462.5" cy="364.2" r="8.3" stroke="#222" stroke-width="2.8" fill="none" stroke-dasharray="2.8 2.0"/>
<circle cx="462.50" cy="364.20" r="6.60" stroke="#222" stroke-width="0.9" fill="none"/>
<line x1="450.00" y1="364.20" x2="476.00" y2="364.40" stroke="#222" stroke-width="0.6" />
<line x1="462.50" y1="341.00" x2="462.50" y2="384.00" stroke="#222" stroke-width="0.6" />
<circle cx="619.30" cy="364.80" r="13.70" stroke="#222" stroke-width="1.4" fill="none"/>
<circle cx="619.30" cy="364.80" r="10.40" stroke="#222" stroke-width="1.0" fill="none"/>
<path d="M613.5,362.4 L623.0,362.4 Q625.0,362.4 625.0,364.2 L625.0,367.0 Q625.0,368.8 623.0,368.8 L613.5,368.8 Q611.5,368.8 611.5,367.0 L611.5,364.2 Q611.5,362.4 613.5,362.4 Z" stroke="#222" stroke-width="1.2" fill="none" stroke-linejoin="round" stroke-linecap="round" />
<line x1="607.00" y1="365.60" x2="630.00" y2="365.80" stroke="#222" stroke-width="0.8" />
<line x1="614.00" y1="364.20" x2="623.00" y2="364.20" stroke="#222" stroke-width="0.8" />
<line x1="614.00" y1="367.20" x2="623.00" y2="367.20" stroke="#222" stroke-width="0.8" />
<line x1="618.60" y1="338.80" x2="618.60" y2="384.00" stroke="#222" stroke-width="0.6" />
<path d="M636.00,362.60 L642.00,362.60 L642.60,366.20 L636.40,366.20" stroke="#222" stroke-width="1.0" fill="none" stroke-linejoin="round" stroke-linecap="round" />
<line x1="636.00" y1="366.40" x2="646.00" y2="366.40" stroke="#222" stroke-width="0.7" />
<path d="M473.80,357.00 L605.00,358.00" stroke="#222" stroke-width="1.3" fill="none" stroke-linejoin="round" stroke-linecap="round" />
<path d="M476.00,371.20 L606.00,372.00" stroke="#222" stroke-width="1.3" fill="none" stroke-linejoin="round" stroke-linecap="round" />
<path d="M473.80,357.00 L473.80,367.50 L476.00,371.20" stroke="#222" stroke-width="1.1" fill="none" stroke-linejoin="round" stroke-linecap="round" />
<path d="M605.00,358.00 L606.00,372.00" stroke="#222" stroke-width="1.1" fill="none" stroke-linejoin="round" stroke-linecap="round" />
<line x1="469.50" y1="379.00" x2="477.50" y2="372.00" stroke="#222" stroke-width="0.9" />
<path d="M480.10,372.00 A6.2,6.2 0 0 0 492.50,372.00" stroke="#222" stroke-width="1.2" fill="none" stroke-linejoin="round" stroke-linecap="round" />
<path d="M482.70,372.20 A3.6,3.6 0 0 0 489.90,372.20" stroke="#222" stroke-width="0.8" fill="none" stroke-linejoin="round" stroke-linecap="round" />
<ellipse cx="486.30" cy="374.80" rx="2.2" ry="2.4" fill="#222"/>
<line x1="486.30" y1="370.20" x2="486.30" y2="380.20" stroke="#222" stroke-width="0.6" />
<path d="M506.80,372.16 A6.2,6.2 0 0 0 519.20,372.16" stroke="#222" stroke-width="1.2" fill="none" stroke-linejoin="round" stroke-linecap="round" />
<path d="M509.40,372.36 A3.6,3.6 0 0 0 516.60,372.36" stroke="#222" stroke-width="0.8" fill="none" stroke-linejoin="round" stroke-linecap="round" />
<ellipse cx="513.00" cy="374.96" rx="2.2" ry="2.4" fill="#222"/>
<line x1="513.00" y1="370.36" x2="513.00" y2="380.36" stroke="#222" stroke-width="0.6" />
<path d="M534.30,372.33 A6.2,6.2 0 0 0 546.70,372.33" stroke="#222" stroke-width="1.2" fill="none" stroke-linejoin="round" stroke-linecap="round" />
<path d="M536.90,372.53 A3.6,3.6 0 0 0 544.10,372.53" stroke="#222" stroke-width="0.8" fill="none" stroke-linejoin="round" stroke-linecap="round" />
<ellipse cx="540.50" cy="375.13" rx="2.2" ry="2.4" fill="#222"/>
<line x1="540.50" y1="370.53" x2="540.50" y2="380.53" stroke="#222" stroke-width="0.6" />
<path d="M562.60,372.50 A6.2,6.2 0 0 0 575.00,372.50" stroke="#222" stroke-width="1.2" fill="none" stroke-linejoin="round" stroke-linecap="round" />
<path d="M565.20,372.70 A3.6,3.6 0 0 0 572.40,372.70" stroke="#222" stroke-width="0.8" fill="none" stroke-linejoin="round" stroke-linecap="round" />
<ellipse cx="568.80" cy="375.30" rx="2.2" ry="2.4" fill="#222"/>
<line x1="568.80" y1="370.70" x2="568.80" y2="380.70" stroke="#222" stroke-width="0.6" />
<path d="M589.30,372.66 A6.2,6.2 0 0 0 601.70,372.66" stroke="#222" stroke-width="1.2" fill="none" stroke-linejoin="round" stroke-linecap="round" />
<path d="M591.90,372.86 A3.6,3.6 0 0 0 599.10,372.86" stroke="#222" stroke-width="0.8" fill="none" stroke-linejoin="round" stroke-linecap="round" />
<ellipse cx="595.50" cy="375.46" rx="2.2" ry="2.4" fill="#222"/>
<line x1="595.50" y1="370.86" x2="595.50" y2="380.86" stroke="#222" stroke-width="0.6" />
<rect x="485.00" y="352.60" width="35.00" height="3.80" rx="0" stroke="#222" stroke-width="1.2" fill="none"/>
<rect x="561.30" y="352.80" width="31.20" height="4.00" rx="0" stroke="#222" stroke-width="1.2" fill="none"/>
<line x1="481.00" y1="352.60" x2="485.00" y2="352.60" stroke="#222" stroke-width="0.8" />
<line x1="483.00" y1="349.50" x2="483.00" y2="356.50" stroke="#222" stroke-width="0.8" />
<rect x="495.00" y="357.20" width="16.30" height="9.20" rx="0" stroke="#222" stroke-width="1.3" fill="none"/>
<rect x="497.40" y="357.40" width="11.50" height="5.80" rx="0" stroke="#222" stroke-width="0.9" fill="none"/>
<line x1="498.50" y1="364.80" x2="507.80" y2="364.80" stroke="#222" stroke-width="1.6" />
<rect x="568.80" y="357.20" width="15.00" height="9.20" rx="0" stroke="#222" stroke-width="1.3" fill="none"/>
<rect x="571.20" y="357.40" width="10.20" height="5.80" rx="0" stroke="#222" stroke-width="0.9" fill="none"/>
<line x1="572.30" y1="364.80" x2="580.30" y2="364.80" stroke="#222" stroke-width="1.6" />
<rect x="535.00" y="348.80" width="12.50" height="7.60" rx="0" stroke="#222" stroke-width="1.1" fill="none"/>
<line x1="535.00" y1="352.20" x2="547.50" y2="352.20" stroke="#222" stroke-width="0.7" />
<line x1="598.00" y1="350.00" x2="598.00" y2="360.00" stroke="#222" stroke-width="0.8" />
<line x1="592.50" y1="354.60" x2="601.00" y2="354.60" stroke="#222" stroke-width="0.8" />
<line x1="390.50" y1="232.20" x2="460.00" y2="233.00" stroke="#222" stroke-width="1.3" />
<line x1="390.50" y1="236.60" x2="460.00" y2="237.40" stroke="#222" stroke-width="1.3" />
<line x1="460.00" y1="233.80" x2="467.00" y2="233.90" stroke="#222" stroke-width="0.9" />
<line x1="412.61" y1="234.10" x2="410.88" y2="234.60" stroke="#222" stroke-width="1.1" />
<line x1="420.95" y1="233.46" x2="421.75" y2="233.58" stroke="#222" stroke-width="1.1" />
<line x1="449.21" y1="235.39" x2="450.67" y2="236.18" stroke="#222" stroke-width="1.1" />
<line x1="395.94" y1="234.83" x2="396.32" y2="235.50" stroke="#222" stroke-width="1.1" />
<line x1="442.12" y1="235.67" x2="442.09" y2="236.55" stroke="#222" stroke-width="1.1" />
<line x1="437.20" y1="234.53" x2="436.83" y2="235.19" stroke="#222" stroke-width="1.1" />
<line x1="452.93" y1="232.81" x2="453.90" y2="233.64" stroke="#222" stroke-width="1.1" />
<line x1="405.39" y1="233.15" x2="404.12" y2="235.06" stroke="#222" stroke-width="1.1" />
<line x1="414.61" y1="233.86" x2="414.11" y2="234.71" stroke="#222" stroke-width="1.1" />
<line x1="419.05" y1="235.55" x2="419.24" y2="236.40" stroke="#222" stroke-width="1.1" />
<line x1="396.76" y1="234.97" x2="394.59" y2="235.04" stroke="#222" stroke-width="1.1" />
<line x1="398.74" y1="234.81" x2="398.78" y2="235.74" stroke="#222" stroke-width="1.1" />
<line x1="437.21" y1="234.78" x2="436.31" y2="235.40" stroke="#222" stroke-width="1.1" />
<line x1="455.04" y1="236.06" x2="455.11" y2="236.90" stroke="#222" stroke-width="1.1" />
<line x1="424.65" y1="233.31" x2="423.66" y2="234.80" stroke="#222" stroke-width="1.1" />
<line x1="431.02" y1="236.71" x2="432.82" y2="236.96" stroke="#222" stroke-width="1.1" />
<line x1="446.06" y1="233.25" x2="446.43" y2="233.84" stroke="#222" stroke-width="1.1" />
<line x1="431.35" y1="235.69" x2="432.17" y2="237.27" stroke="#222" stroke-width="1.1" />
<line x1="416.75" y1="235.65" x2="418.21" y2="237.38" stroke="#222" stroke-width="1.1" />
<line x1="421.56" y1="232.81" x2="423.32" y2="233.33" stroke="#222" stroke-width="1.1" />
<line x1="450.37" y1="235.35" x2="452.21" y2="236.32" stroke="#222" stroke-width="1.1" />
<line x1="440.39" y1="233.26" x2="441.03" y2="234.88" stroke="#222" stroke-width="1.1" />
<line x1="392.24" y1="232.97" x2="393.17" y2="234.84" stroke="#222" stroke-width="1.1" />
<line x1="459.25" y1="234.07" x2="457.40" y2="234.62" stroke="#222" stroke-width="1.1" />
<line x1="450.39" y1="235.15" x2="448.71" y2="235.32" stroke="#222" stroke-width="1.1" />
<line x1="455.98" y1="235.06" x2="457.19" y2="235.92" stroke="#222" stroke-width="1.1" />
<line x1="424.60" y1="234.15" x2="425.17" y2="235.50" stroke="#222" stroke-width="1.1" />
<line x1="431.69" y1="233.69" x2="432.63" y2="234.80" stroke="#222" stroke-width="1.1" />
<line x1="426.01" y1="234.48" x2="425.56" y2="235.27" stroke="#222" stroke-width="1.1" />
<line x1="427.90" y1="233.90" x2="426.55" y2="235.09" stroke="#222" stroke-width="1.1" />
<line x1="444.72" y1="234.87" x2="446.26" y2="236.40" stroke="#222" stroke-width="1.1" />
<line x1="426.48" y1="234.30" x2="427.27" y2="235.32" stroke="#222" stroke-width="1.1" />
<line x1="439.84" y1="236.07" x2="439.94" y2="237.91" stroke="#222" stroke-width="1.1" />
<line x1="406.37" y1="234.61" x2="406.86" y2="235.62" stroke="#222" stroke-width="1.1" />
<line x1="416.26" y1="235.82" x2="415.63" y2="236.53" stroke="#222" stroke-width="1.1" />
<line x1="407.78" y1="235.94" x2="406.97" y2="237.48" stroke="#222" stroke-width="1.1" />
<line x1="434.88" y1="235.57" x2="435.34" y2="236.11" stroke="#222" stroke-width="1.1" />
<line x1="416.34" y1="232.93" x2="414.86" y2="233.11" stroke="#222" stroke-width="1.1" />
<line x1="437.24" y1="236.67" x2="436.43" y2="237.24" stroke="#222" stroke-width="1.1" />
<line x1="414.74" y1="233.23" x2="413.26" y2="234.34" stroke="#222" stroke-width="1.1" />
<line x1="424.92" y1="234.28" x2="425.86" y2="235.35" stroke="#222" stroke-width="1.1" />
<line x1="440.06" y1="236.38" x2="438.22" y2="237.33" stroke="#222" stroke-width="1.1" />
<line x1="421.65" y1="234.48" x2="422.89" y2="236.37" stroke="#222" stroke-width="1.1" />
<line x1="404.38" y1="233.43" x2="405.75" y2="235.11" stroke="#222" stroke-width="1.1" />
<line x1="449.56" y1="234.13" x2="447.67" y2="235.08" stroke="#222" stroke-width="1.1" />
<line x1="420.84" y1="233.57" x2="419.90" y2="234.38" stroke="#222" stroke-width="1.1" />
<line x1="400.06" y1="236.41" x2="400.30" y2="237.66" stroke="#222" stroke-width="1.1" />
<line x1="432.18" y1="233.82" x2="433.44" y2="233.90" stroke="#222" stroke-width="1.1" />
<line x1="417.60" y1="232.84" x2="418.34" y2="234.59" stroke="#222" stroke-width="1.1" />
<line x1="414.47" y1="235.52" x2="414.12" y2="236.37" stroke="#222" stroke-width="1.1" />
<line x1="393.38" y1="235.50" x2="393.00" y2="236.53" stroke="#222" stroke-width="1.1" />
<line x1="405.51" y1="236.22" x2="404.56" y2="236.50" stroke="#222" stroke-width="1.1" />
<line x1="431.55" y1="235.10" x2="431.91" y2="235.66" stroke="#222" stroke-width="1.1" />
<line x1="413.96" y1="235.38" x2="413.50" y2="236.77" stroke="#222" stroke-width="1.1" />
<line x1="400.26" y1="233.65" x2="400.99" y2="234.74" stroke="#222" stroke-width="1.1" />
<line x1="416.52" y1="236.41" x2="418.64" y2="237.22" stroke="#222" stroke-width="1.1" />
<line x1="408.23" y1="236.23" x2="409.38" y2="237.33" stroke="#222" stroke-width="1.1" />
<line x1="417.46" y1="232.95" x2="415.87" y2="234.13" stroke="#222" stroke-width="1.1" />
<line x1="410.17" y1="235.90" x2="410.32" y2="238.18" stroke="#222" stroke-width="1.1" />
<line x1="395.67" y1="234.32" x2="396.93" y2="235.41" stroke="#222" stroke-width="1.1" />
<line x1="444.51" y1="236.17" x2="444.32" y2="237.41" stroke="#222" stroke-width="1.1" />
<line x1="445.98" y1="233.22" x2="447.26" y2="234.59" stroke="#222" stroke-width="1.1" />
<line x1="421.73" y1="236.77" x2="423.06" y2="237.16" stroke="#222" stroke-width="1.1" />
<line x1="406.34" y1="232.81" x2="407.07" y2="233.03" stroke="#222" stroke-width="1.1" />
<line x1="416.90" y1="234.53" x2="416.88" y2="235.62" stroke="#222" stroke-width="1.1" />
<line x1="439.38" y1="234.86" x2="438.50" y2="234.92" stroke="#222" stroke-width="1.1" />
<line x1="426.47" y1="234.77" x2="427.27" y2="236.67" stroke="#222" stroke-width="1.1" />
<line x1="406.14" y1="236.31" x2="406.65" y2="237.37" stroke="#222" stroke-width="1.1" />
<line x1="433.50" y1="235.05" x2="433.97" y2="235.63" stroke="#222" stroke-width="1.1" />
<line x1="456.48" y1="234.28" x2="458.08" y2="234.88" stroke="#222" stroke-width="1.1" />
<line x1="427.91" y1="234.11" x2="428.96" y2="235.86" stroke="#222" stroke-width="1.1" />
<line x1="414.86" y1="234.47" x2="413.65" y2="234.63" stroke="#222" stroke-width="1.1" />
<line x1="419.14" y1="233.45" x2="418.29" y2="234.96" stroke="#222" stroke-width="1.1" />
<line x1="422.13" y1="234.42" x2="423.57" y2="235.72" stroke="#222" stroke-width="1.1" />
<line x1="422.86" y1="236.13" x2="423.57" y2="237.83" stroke="#222" stroke-width="1.1" />
<line x1="393.94" y1="233.68" x2="392.19" y2="233.90" stroke="#222" stroke-width="1.1" />
<line x1="437.61" y1="234.79" x2="437.69" y2="235.72" stroke="#222" stroke-width="1.1" />
<line x1="403.68" y1="235.38" x2="403.08" y2="236.23" stroke="#222" stroke-width="1.1" />
<line x1="435.51" y1="233.34" x2="435.20" y2="234.18" stroke="#222" stroke-width="1.1" />
<line x1="426.39" y1="234.06" x2="426.26" y2="234.87" stroke="#222" stroke-width="1.1" />
<line x1="424.63" y1="235.27" x2="425.65" y2="235.73" stroke="#222" stroke-width="1.1" />
<line x1="437.81" y1="234.98" x2="437.12" y2="236.78" stroke="#222" stroke-width="1.1" />
<line x1="430.57" y1="233.69" x2="430.94" y2="235.67" stroke="#222" stroke-width="1.1" />
<line x1="430.25" y1="235.81" x2="430.82" y2="237.05" stroke="#222" stroke-width="1.1" />
<line x1="457.46" y1="236.09" x2="457.10" y2="236.78" stroke="#222" stroke-width="1.1" />
<line x1="433.30" y1="232.93" x2="431.10" y2="233.40" stroke="#222" stroke-width="1.1" />
<line x1="441.15" y1="233.87" x2="440.35" y2="234.29" stroke="#222" stroke-width="1.1" />
<line x1="447.88" y1="234.88" x2="449.99" y2="234.99" stroke="#222" stroke-width="1.1" />
<line x1="421.70" y1="236.12" x2="420.86" y2="237.37" stroke="#222" stroke-width="1.1" />
<line x1="450.21" y1="233.61" x2="449.10" y2="233.98" stroke="#222" stroke-width="1.1" />
<line x1="393.76" y1="234.15" x2="394.46" y2="234.30" stroke="#222" stroke-width="1.1" />
<line x1="434.13" y1="233.28" x2="435.09" y2="233.81" stroke="#222" stroke-width="1.1" />
<line x1="410.82" y1="236.48" x2="408.83" y2="237.09" stroke="#222" stroke-width="1.1" />
<line x1="458.81" y1="234.56" x2="457.95" y2="235.21" stroke="#222" stroke-width="1.1" />
<line x1="454.54" y1="236.04" x2="453.88" y2="236.78" stroke="#222" stroke-width="1.1" />
<line x1="398.18" y1="236.50" x2="397.91" y2="238.12" stroke="#222" stroke-width="1.1" />
<line x1="450.18" y1="233.37" x2="449.37" y2="234.50" stroke="#222" stroke-width="1.1" />
<line x1="445.06" y1="234.62" x2="446.87" y2="235.91" stroke="#222" stroke-width="1.1" />
<line x1="410.98" y1="235.78" x2="410.10" y2="236.30" stroke="#222" stroke-width="1.1" />
<line x1="438.91" y1="234.38" x2="439.65" y2="235.01" stroke="#222" stroke-width="1.1" />
<line x1="456.40" y1="234.27" x2="456.35" y2="235.72" stroke="#222" stroke-width="1.1" />
<line x1="393.79" y1="235.81" x2="392.34" y2="237.31" stroke="#222" stroke-width="1.1" />
<line x1="416.09" y1="233.64" x2="416.94" y2="235.28" stroke="#222" stroke-width="1.1" />
<line x1="436.41" y1="234.42" x2="436.35" y2="235.28" stroke="#222" stroke-width="1.1" />
<line x1="454.00" y1="234.69" x2="453.96" y2="236.62" stroke="#222" stroke-width="1.1" />
<line x1="405.36" y1="235.69" x2="406.24" y2="237.46" stroke="#222" stroke-width="1.1" />
<line x1="398.37" y1="233.90" x2="397.78" y2="235.20" stroke="#222" stroke-width="1.1" />
<line x1="417.44" y1="235.11" x2="418.48" y2="235.96" stroke="#222" stroke-width="1.1" />
<line x1="392.13" y1="235.99" x2="393.53" y2="237.43" stroke="#222" stroke-width="1.1" />
<line x1="429.27" y1="235.21" x2="428.96" y2="235.96" stroke="#222" stroke-width="1.1" />
<line x1="444.46" y1="233.97" x2="442.70" y2="234.78" stroke="#222" stroke-width="1.1" />
<line x1="437.78" y1="236.06" x2="438.12" y2="237.77" stroke="#222" stroke-width="1.1" />
<line x1="456.31" y1="233.56" x2="457.55" y2="233.96" stroke="#222" stroke-width="1.1" />
<line x1="426.40" y1="233.40" x2="427.99" y2="234.72" stroke="#222" stroke-width="1.1" />
<line x1="418.19" y1="233.40" x2="419.52" y2="234.26" stroke="#222" stroke-width="1.1" />
<line x1="404.82" y1="234.70" x2="404.66" y2="236.04" stroke="#222" stroke-width="1.1" />
<line x1="426.00" y1="236.15" x2="428.18" y2="236.26" stroke="#222" stroke-width="1.1" />
<line x1="405.45" y1="232.95" x2="404.28" y2="234.00" stroke="#222" stroke-width="1.1" />
<line x1="428.31" y1="233.67" x2="427.44" y2="234.38" stroke="#222" stroke-width="1.1" />
<line x1="441.07" y1="233.71" x2="440.68" y2="235.37" stroke="#222" stroke-width="1.1" />
<line x1="417.09" y1="234.72" x2="418.74" y2="235.06" stroke="#222" stroke-width="1.1" />
<line x1="438.66" y1="233.41" x2="438.37" y2="235.24" stroke="#222" stroke-width="1.1" />
<line x1="398.82" y1="236.16" x2="398.19" y2="236.43" stroke="#222" stroke-width="1.1" />
<line x1="408.77" y1="233.14" x2="409.29" y2="233.67" stroke="#222" stroke-width="1.1" />
<line x1="425.03" y1="233.80" x2="425.84" y2="234.92" stroke="#222" stroke-width="1.1" />
<line x1="417.08" y1="235.95" x2="416.57" y2="236.56" stroke="#222" stroke-width="1.1" />
<line x1="407.08" y1="232.83" x2="407.48" y2="233.51" stroke="#222" stroke-width="1.1" />
<line x1="439.06" y1="235.92" x2="438.10" y2="235.93" stroke="#222" stroke-width="1.1" />
<line x1="394.48" y1="235.83" x2="395.07" y2="237.93" stroke="#222" stroke-width="1.1" />
<line x1="418.49" y1="234.05" x2="420.64" y2="234.55" stroke="#222" stroke-width="1.1" />
<line x1="426.57" y1="234.56" x2="426.94" y2="236.43" stroke="#222" stroke-width="1.1" />
<line x1="448.08" y1="234.70" x2="449.17" y2="235.39" stroke="#222" stroke-width="1.1" />
<line x1="452.16" y1="234.43" x2="451.41" y2="235.79" stroke="#222" stroke-width="1.1" />
<line x1="423.14" y1="235.10" x2="424.25" y2="236.18" stroke="#222" stroke-width="1.1" />
<line x1="450.37" y1="233.12" x2="451.21" y2="235.04" stroke="#222" stroke-width="1.1" />
<line x1="458.03" y1="232.85" x2="457.38" y2="234.40" stroke="#222" stroke-width="1.1" />
<line x1="448.91" y1="234.68" x2="449.93" y2="235.12" stroke="#222" stroke-width="1.1" />
<line x1="440.11" y1="235.71" x2="441.46" y2="236.73" stroke="#222" stroke-width="1.1" />
<line x1="436.33" y1="235.43" x2="437.68" y2="235.52" stroke="#222" stroke-width="1.1" />
<line x1="413.94" y1="235.19" x2="414.34" y2="235.90" stroke="#222" stroke-width="1.1" />
<line x1="437.25" y1="233.95" x2="436.36" y2="234.63" stroke="#222" stroke-width="1.1" />
<line x1="428.84" y1="236.03" x2="430.57" y2="236.69" stroke="#222" stroke-width="1.1" />
<line x1="396.60" y1="236.55" x2="398.42" y2="236.69" stroke="#222" stroke-width="1.1" />
<line x1="416.89" y1="233.52" x2="417.36" y2="234.89" stroke="#222" stroke-width="1.1" />
<line x1="420.01" y1="233.29" x2="419.93" y2="234.40" stroke="#222" stroke-width="1.1" />
<line x1="457.29" y1="234.33" x2="457.49" y2="235.30" stroke="#222" stroke-width="1.1" />
<line x1="457.39" y1="234.09" x2="456.50" y2="235.89" stroke="#222" stroke-width="1.1" />
<line x1="418.54" y1="235.82" x2="419.04" y2="236.43" stroke="#222" stroke-width="1.1" />
<line x1="394.85" y1="234.60" x2="393.98" y2="234.96" stroke="#222" stroke-width="1.1" />
<line x1="421.73" y1="235.85" x2="422.29" y2="236.51" stroke="#222" stroke-width="1.1" />
<line x1="427.05" y1="234.50" x2="424.96" y2="234.91" stroke="#222" stroke-width="1.1" />
<line x1="408.07" y1="235.04" x2="408.24" y2="235.68" stroke="#222" stroke-width="1.1" />
<line x1="421.99" y1="236.46" x2="422.92" y2="237.76" stroke="#222" stroke-width="1.1" />
<line x1="439.95" y1="233.05" x2="439.18" y2="233.24" stroke="#222" stroke-width="1.1" />
<line x1="412.35" y1="235.66" x2="413.59" y2="235.74" stroke="#222" stroke-width="1.1" />
<line x1="400.55" y1="234.69" x2="401.40" y2="234.74" stroke="#222" stroke-width="1.1" />
<line x1="407.02" y1="233.13" x2="407.91" y2="233.39" stroke="#222" stroke-width="1.1" />
<line x1="426.94" y1="233.35" x2="425.83" y2="234.05" stroke="#222" stroke-width="1.1" />
<line x1="409.00" y1="233.76" x2="408.41" y2="234.09" stroke="#222" stroke-width="1.1" />
<line x1="442.10" y1="233.19" x2="440.82" y2="233.41" stroke="#222" stroke-width="1.1" />
<line x1="432.34" y1="236.25" x2="433.01" y2="236.47" stroke="#222" stroke-width="1.1" />
<line x1="438.82" y1="235.15" x2="438.13" y2="235.97" stroke="#222" stroke-width="1.1" />
<line x1="425.54" y1="233.55" x2="425.75" y2="234.60" stroke="#222" stroke-width="1.1" />
<line x1="431.53" y1="234.00" x2="432.63" y2="235.28" stroke="#222" stroke-width="1.1" />
<line x1="397.77" y1="236.00" x2="397.79" y2="236.99" stroke="#222" stroke-width="1.1" />
<line x1="399.76" y1="234.84" x2="399.74" y2="236.66" stroke="#222" stroke-width="1.1" />
<line x1="417.24" y1="234.45" x2="416.23" y2="234.80" stroke="#222" stroke-width="1.1" />
<line x1="458.22" y1="236.37" x2="456.02" y2="236.44" stroke="#222" stroke-width="1.1" />
<line x1="409.36" y1="236.06" x2="409.03" y2="236.95" stroke="#222" stroke-width="1.1" />
<line x1="459.33" y1="235.39" x2="458.05" y2="236.26" stroke="#222" stroke-width="1.1" />
<line x1="397.37" y1="236.25" x2="398.25" y2="236.80" stroke="#222" stroke-width="1.1" />
<line x1="433.59" y1="233.58" x2="433.81" y2="235.38" stroke="#222" stroke-width="1.1" />
<line x1="398.48" y1="235.44" x2="399.81" y2="235.90" stroke="#222" stroke-width="1.1" />
<line x1="435.84" y1="235.55" x2="436.75" y2="235.67" stroke="#222" stroke-width="1.1" />
<line x1="456.81" y1="234.36" x2="457.10" y2="235.57" stroke="#222" stroke-width="1.1" />
<line x1="438.99" y1="235.76" x2="438.41" y2="236.91" stroke="#222" stroke-width="1.1" />
<line x1="430.44" y1="234.86" x2="432.28" y2="236.09" stroke="#222" stroke-width="1.1" />
<line x1="457.13" y1="235.91" x2="455.74" y2="235.94" stroke="#222" stroke-width="1.1" />
<line x1="448.64" y1="233.76" x2="447.39" y2="235.08" stroke="#222" stroke-width="1.1" />
<line x1="455.35" y1="236.13" x2="454.37" y2="236.52" stroke="#222" stroke-width="1.1" />
<line x1="445.15" y1="234.70" x2="445.83" y2="235.72" stroke="#222" stroke-width="1.1" />
<line x1="445.92" y1="236.17" x2="444.39" y2="236.99" stroke="#222" stroke-width="1.1" />
<line x1="403.50" y1="233.42" x2="403.29" y2="234.36" stroke="#222" stroke-width="1.1" />
<line x1="414.72" y1="233.21" x2="416.33" y2="234.06" stroke="#222" stroke-width="1.1" />
<line x1="407.10" y1="236.19" x2="408.14" y2="237.95" stroke="#222" stroke-width="1.1" />
<line x1="412.43" y1="233.87" x2="412.63" y2="234.46" stroke="#222" stroke-width="1.1" />
<line x1="421.40" y1="234.32" x2="423.46" y2="234.40" stroke="#222" stroke-width="1.1" />
<line x1="417.32" y1="232.80" x2="416.34" y2="232.92" stroke="#222" stroke-width="1.1" />
<line x1="409.08" y1="232.90" x2="410.80" y2="233.45" stroke="#222" stroke-width="1.1" />
<line x1="431.29" y1="234.82" x2="432.06" y2="235.58" stroke="#222" stroke-width="1.1" />
<line x1="390.50" y1="234.60" x2="460.00" y2="235.40" stroke="#222" stroke-width="0.6" />
<path d="M466.90,225.30 L478.50,225.30 L478.50,240.60" stroke="#222" stroke-width="1.4" fill="none" stroke-linejoin="round" stroke-linecap="round" />
<rect x="466.80" y="235.20" width="8.00" height="3.60" rx="0" stroke="#222" stroke-width="1.0" fill="none"/>
<line x1="474.18" y1="236.62" x2="472.52" y2="236.67" stroke="#222" stroke-width="1.0" />
<line x1="468.10" y1="238.04" x2="469.55" y2="238.14" stroke="#222" stroke-width="1.0" />
<line x1="473.03" y1="237.59" x2="472.78" y2="239.14" stroke="#222" stroke-width="1.0" />
<line x1="468.31" y1="237.12" x2="469.04" y2="237.92" stroke="#222" stroke-width="1.0" />
<line x1="468.58" y1="237.62" x2="468.23" y2="239.12" stroke="#222" stroke-width="1.0" />
<line x1="471.72" y1="237.30" x2="470.20" y2="237.68" stroke="#222" stroke-width="1.0" />
<line x1="471.28" y1="236.48" x2="470.26" y2="236.71" stroke="#222" stroke-width="1.0" />
<line x1="467.94" y1="236.50" x2="466.90" y2="237.87" stroke="#222" stroke-width="1.0" />
<line x1="471.85" y1="237.49" x2="470.35" y2="237.79" stroke="#222" stroke-width="1.0" />
<line x1="470.41" y1="236.89" x2="469.69" y2="237.56" stroke="#222" stroke-width="1.0" />
<line x1="467.99" y1="237.36" x2="467.25" y2="237.87" stroke="#222" stroke-width="1.0" />
<line x1="472.12" y1="238.18" x2="472.82" y2="238.48" stroke="#222" stroke-width="1.0" />
<line x1="470.75" y1="236.50" x2="468.98" y2="236.79" stroke="#222" stroke-width="1.0" />
<line x1="470.41" y1="237.88" x2="470.08" y2="238.62" stroke="#222" stroke-width="1.0" />
<line x1="474.20" y1="236.02" x2="475.31" y2="236.29" stroke="#222" stroke-width="1.0" />
<line x1="467.33" y1="236.94" x2="467.80" y2="238.62" stroke="#222" stroke-width="1.0" />
<line x1="415.44" y1="148.22" x2="408.04" y2="168.72" stroke="#222" stroke-width="1.2" />
<line x1="419.76" y1="149.78" x2="412.36" y2="170.28" stroke="#222" stroke-width="1.2" />
<line x1="407.19" y1="168.41" x2="395.39" y2="200.91" stroke="#222" stroke-width="1.3" />
<line x1="413.21" y1="170.59" x2="401.41" y2="203.09" stroke="#222" stroke-width="1.3" />
<line x1="407.19" y1="168.41" x2="413.21" y2="170.59" stroke="#222" stroke-width="1.2" />
<line x1="395.39" y1="200.91" x2="401.41" y2="203.09" stroke="#222" stroke-width="1.0" />
<line x1="400.99" y1="185.51" x2="407.01" y2="187.69" stroke="#222" stroke-width="1.3" />
<line x1="410.20" y1="169.50" x2="398.40" y2="202.00" stroke="#222" stroke-width="0.7" stroke-dasharray="2.2 1.2"/>
<path d="M395.39,200.91 L390.72,214.72" stroke="#222" stroke-width="1.2" fill="none" stroke-linejoin="round" stroke-linecap="round" />
<path d="M401.41,203.09 L394.48,216.08" stroke="#222" stroke-width="1.2" fill="none" stroke-linejoin="round" stroke-linecap="round" />
<line x1="398.40" y1="202.00" x2="392.60" y2="215.40" stroke="#222" stroke-width="0.7" stroke-dasharray="2.2 1.2"/>
<line x1="422.45" y1="150.04" x2="459.25" y2="223.04" stroke="#222" stroke-width="1.2" />
<line x1="426.55" y1="147.96" x2="463.35" y2="220.96" stroke="#222" stroke-width="1.2" />
<line x1="422.45" y1="150.04" x2="427.45" y2="149.66" stroke="#222" stroke-width="0.9" />
<line x1="423.67" y1="152.47" x2="428.68" y2="152.10" stroke="#222" stroke-width="0.9" />
<line x1="424.90" y1="154.90" x2="429.91" y2="154.53" stroke="#222" stroke-width="0.9" />
<line x1="426.13" y1="157.34" x2="431.13" y2="156.96" stroke="#222" stroke-width="0.9" />
<line x1="427.35" y1="159.77" x2="432.36" y2="159.40" stroke="#222" stroke-width="0.9" />
<line x1="428.58" y1="162.20" x2="433.59" y2="161.83" stroke="#222" stroke-width="0.9" />
<line x1="429.81" y1="164.64" x2="434.81" y2="164.26" stroke="#222" stroke-width="0.9" />
<line x1="431.03" y1="167.07" x2="436.04" y2="166.70" stroke="#222" stroke-width="0.9" />
<line x1="432.26" y1="169.50" x2="437.27" y2="169.13" stroke="#222" stroke-width="0.9" />
<line x1="433.49" y1="171.94" x2="438.49" y2="171.56" stroke="#222" stroke-width="0.9" />
<line x1="434.71" y1="174.37" x2="439.72" y2="174.00" stroke="#222" stroke-width="0.9" />
<line x1="435.94" y1="176.80" x2="440.95" y2="176.43" stroke="#222" stroke-width="0.9" />
<line x1="437.17" y1="179.24" x2="442.17" y2="178.86" stroke="#222" stroke-width="0.9" />
<line x1="438.39" y1="181.67" x2="443.40" y2="181.30" stroke="#222" stroke-width="0.9" />
<line x1="439.62" y1="184.10" x2="444.63" y2="183.73" stroke="#222" stroke-width="0.9" />
<line x1="440.85" y1="186.54" x2="445.85" y2="186.16" stroke="#222" stroke-width="0.9" />
<line x1="442.07" y1="188.97" x2="447.08" y2="188.60" stroke="#222" stroke-width="0.9" />
<line x1="443.30" y1="191.40" x2="448.31" y2="191.03" stroke="#222" stroke-width="0.9" />
<line x1="444.53" y1="193.84" x2="449.53" y2="193.46" stroke="#222" stroke-width="0.9" />
<line x1="445.75" y1="196.27" x2="450.76" y2="195.90" stroke="#222" stroke-width="0.9" />
<line x1="446.98" y1="198.70" x2="451.99" y2="198.33" stroke="#222" stroke-width="0.9" />
<line x1="448.21" y1="201.14" x2="453.21" y2="200.76" stroke="#222" stroke-width="0.9" />
<line x1="449.43" y1="203.57" x2="454.44" y2="203.20" stroke="#222" stroke-width="0.9" />
<line x1="450.66" y1="206.00" x2="455.67" y2="205.63" stroke="#222" stroke-width="0.9" />
<line x1="451.89" y1="208.44" x2="456.89" y2="208.06" stroke="#222" stroke-width="0.9" />
<line x1="453.11" y1="210.87" x2="458.12" y2="210.50" stroke="#222" stroke-width="0.9" />
<line x1="454.34" y1="213.30" x2="459.35" y2="212.93" stroke="#222" stroke-width="0.9" />
<line x1="455.57" y1="215.74" x2="460.57" y2="215.36" stroke="#222" stroke-width="0.9" />
<line x1="456.79" y1="218.17" x2="461.80" y2="217.80" stroke="#222" stroke-width="0.9" />
<line x1="458.02" y1="220.60" x2="463.03" y2="220.23" stroke="#222" stroke-width="0.9" />
<path d="M411.80,137.60 L414.80,134.00 L424.60,136.60 L423.60,143.80 L419.00,145.60 L413.40,141.60 Z" stroke="#222" stroke-width="1.4" fill="#fff" stroke-linejoin="round" stroke-linecap="round" />
<line x1="414.20" y1="137.40" x2="423.20" y2="140.40" stroke="#222" stroke-width="1.1" />
<line x1="413.80" y1="140.00" x2="421.60" y2="142.90" stroke="#222" stroke-width="0.9" />
<path d="M425.20,133.30 Q432.60,135.50 431.00,142.50 Q430.00,147.50 425.80,149.60" stroke="#222" stroke-width="1.5" fill="none" stroke-linejoin="round" stroke-linecap="round" />
<path d="M425.00,136.20 Q428.80,138.50 428.00,142.50 Q427.40,145.60 424.80,147.40" stroke="#222" stroke-width="1.2" fill="none" stroke-linejoin="round" stroke-linecap="round" />
<line x1="413.60" y1="133.60" x2="424.80" y2="133.20" stroke="#222" stroke-width="1.8" />
<line x1="426.20" y1="133.00" x2="428.20" y2="129.60" stroke="#222" stroke-width="0.8" />
<path d="M416.2,144.5 L418.0,149.5 L425.5,150.0 L426.6,146.0" stroke="#222" stroke-width="1.3" fill="none" stroke-linejoin="round" stroke-linecap="round" />
<line x1="420.90" y1="148.82" x2="419.80" y2="149.73" stroke="#222" stroke-width="0.9" />
<line x1="419.66" y1="146.37" x2="419.70" y2="147.52" stroke="#222" stroke-width="0.9" />
<line x1="422.52" y1="147.27" x2="423.28" y2="148.51" stroke="#222" stroke-width="0.9" />
<line x1="424.98" y1="145.91" x2="425.28" y2="146.45" stroke="#222" stroke-width="0.9" />
<line x1="418.66" y1="145.25" x2="419.08" y2="146.97" stroke="#222" stroke-width="0.9" />
<line x1="422.88" y1="149.35" x2="421.65" y2="150.04" stroke="#222" stroke-width="0.9" />
<line x1="422.06" y1="145.06" x2="422.41" y2="145.96" stroke="#222" stroke-width="0.9" />
<line x1="422.34" y1="145.29" x2="422.20" y2="146.41" stroke="#222" stroke-width="0.9" />
<line x1="421.44" y1="146.82" x2="422.99" y2="147.33" stroke="#222" stroke-width="0.9" />
<line x1="423.60" y1="147.69" x2="424.95" y2="148.20" stroke="#222" stroke-width="0.9" />
<path d="M439.40,127.80 L442.40,124.20 L452.20,126.80 L451.20,134.00 L446.60,135.80 L441.00,131.80 Z" stroke="#222" stroke-width="1.4" fill="#fff" stroke-linejoin="round" stroke-linecap="round" />
<line x1="441.80" y1="127.60" x2="450.80" y2="130.60" stroke="#222" stroke-width="1.1" />
<line x1="441.40" y1="130.20" x2="449.20" y2="133.10" stroke="#222" stroke-width="0.9" />
<path d="M452.80,123.50 Q460.20,125.70 458.60,132.70 Q457.60,137.70 453.40,139.80" stroke="#222" stroke-width="1.5" fill="none" stroke-linejoin="round" stroke-linecap="round" />
<path d="M452.60,126.40 Q456.40,128.70 455.60,132.70 Q455.00,135.80 452.40,137.60" stroke="#222" stroke-width="1.2" fill="none" stroke-linejoin="round" stroke-linecap="round" />
<line x1="441.20" y1="123.80" x2="452.40" y2="123.40" stroke="#222" stroke-width="1.8" />
<line x1="453.80" y1="123.20" x2="455.80" y2="119.80" stroke="#222" stroke-width="0.8" />
<path d="M446.60,135.60 L441.60,139.40 L438.00,142.00 L439.60,146.00 L437.60,149.00 L439.60,151.60 L442.60,150.00 L445.60,144.60 L449.00,141.00 L450.50,137.00 Z" stroke="#222" stroke-width="1.3" fill="#fff" stroke-linejoin="round" stroke-linecap="round" />
<line x1="441.50" y1="143.00" x2="444.50" y2="140.80" stroke="#222" stroke-width="1.2" />
<line x1="440.60" y1="148.20" x2="443.00" y2="145.20" stroke="#222" stroke-width="1.5" />
<line x1="445.00" y1="138.60" x2="448.40" y2="138.00" stroke="#222" stroke-width="1.2" />
<line x1="438.80" y1="151.60" x2="436.40" y2="153.80" stroke="#222" stroke-width="0.9" />
<line x1="452.80" y1="138.60" x2="452.70" y2="153.00" stroke="#222" stroke-width="2.4" />
<line x1="452.80" y1="146.50" x2="452.80" y2="150.50" stroke="#fff" stroke-width="0.7" />
<line x1="452.90" y1="153.00" x2="454.20" y2="161.50" stroke="#222" stroke-width="0.9" />
<line x1="454.30" y1="163.00" x2="461.30" y2="215.00" stroke="#222" stroke-width="0.8" stroke-dasharray="11 3"/>
<line x1="394.50" y1="215.00" x2="406.00" y2="217.50" stroke="#222" stroke-width="0.8" />
<line x1="416.00" y1="219.00" x2="443.80" y2="225.00" stroke="#222" stroke-width="0.8" />
<path d="M452.4,231.4 L452.4,226.5 Q453.5,223 455.7,221.6 Q458.5,218.6 461.5,218.2 Q464.5,218 465.7,219.9 Q467.2,224 466.5,228.2 Q466,230.5 464,231.4 Z" stroke="#222" stroke-width="1.5" fill="none" stroke-linejoin="round" stroke-linecap="round" />
<path d="M456.5,222.5 Q459,226.5 463.5,227.5" stroke="#222" stroke-width="1.2" fill="none" stroke-linejoin="round" stroke-linecap="round" />
<path d="M462,221 L464.5,229" stroke="#222" stroke-width="1.0" fill="none" stroke-linejoin="round" stroke-linecap="round" />
<path d="M466.9,225.0 L467.1,219.5 Q467.6,216.3 470.2,216.2 Q472.9,216.3 473.4,219.5 L473.5,225.0" stroke="#222" stroke-width="1.4" fill="none" stroke-linejoin="round" stroke-linecap="round" />
<line x1="452.00" y1="231.60" x2="466.50" y2="231.70" stroke="#222" stroke-width="1.4" />
<line x1="353.00" y1="201.70" x2="372.80" y2="201.70" stroke="#222" stroke-width="1.0" />
<path d="M357.3,202.6 L357.3,212.6" stroke="#222" stroke-width="2.2" fill="none" stroke-linejoin="round" stroke-linecap="round" />
<path d="M361.6,207.4 Q363.5,203.2 368.5,202.9 Q373.5,202.8 376.5,207 L379.3,210.2 Q382,212 385.5,212.8" stroke="#222" stroke-width="1.7" fill="none" stroke-linejoin="round" stroke-linecap="round" />
<path d="M364.5,207.2 Q366.5,205 369.5,205 Q372.8,205.2 374.7,208" stroke="#222" stroke-width="1.5" fill="none" stroke-linejoin="round" stroke-linecap="round" />
<path d="M360.6,211.6 L370,210.6 L377.5,210.4" stroke="#222" stroke-width="1.5" fill="none" stroke-linejoin="round" stroke-linecap="round" />
<path d="M361,213.2 Q362,215.4 366,215.6 L372.5,215.8" stroke="#222" stroke-width="1.9" fill="none" stroke-linejoin="round" stroke-linecap="round" />
<path d="M372.8,215 L376.5,220 L379.5,225 L382,231.5" stroke="#222" stroke-width="1.6" fill="none" stroke-linejoin="round" stroke-linecap="round" />
<path d="M377.5,210.6 L381,214.5 L384,217 L388.5,218.5" stroke="#222" stroke-width="1.3" fill="none" stroke-linejoin="round" stroke-linecap="round" />
<line x1="383.90" y1="219.41" x2="383.41" y2="219.87" stroke="#222" stroke-width="1.1" />
<line x1="383.97" y1="217.16" x2="385.31" y2="218.74" stroke="#222" stroke-width="1.1" />
<line x1="383.52" y1="218.77" x2="384.61" y2="219.83" stroke="#222" stroke-width="1.1" />
<line x1="379.72" y1="214.57" x2="378.56" y2="215.65" stroke="#222" stroke-width="1.1" />
<line x1="379.32" y1="216.30" x2="377.85" y2="216.64" stroke="#222" stroke-width="1.1" />
<line x1="384.26" y1="216.46" x2="383.62" y2="216.48" stroke="#222" stroke-width="1.1" />
<line x1="380.41" y1="216.37" x2="379.00" y2="217.99" stroke="#222" stroke-width="1.1" />
<line x1="381.80" y1="215.85" x2="381.20" y2="217.17" stroke="#222" stroke-width="1.1" />
<line x1="382.49" y1="219.13" x2="383.60" y2="219.18" stroke="#222" stroke-width="1.1" />
<line x1="383.95" y1="212.92" x2="383.44" y2="213.32" stroke="#222" stroke-width="1.1" />
<line x1="382.01" y1="218.10" x2="382.90" y2="218.93" stroke="#222" stroke-width="1.1" />
<line x1="378.42" y1="217.43" x2="378.28" y2="219.00" stroke="#222" stroke-width="1.1" />
<line x1="379.27" y1="216.61" x2="377.44" y2="216.87" stroke="#222" stroke-width="1.1" />
<line x1="384.59" y1="214.23" x2="384.53" y2="215.45" stroke="#222" stroke-width="1.1" />
<line x1="379.44" y1="218.12" x2="380.72" y2="218.90" stroke="#222" stroke-width="1.1" />
<line x1="383.08" y1="219.05" x2="384.11" y2="219.11" stroke="#222" stroke-width="1.1" />
<line x1="380.69" y1="219.05" x2="382.39" y2="220.01" stroke="#222" stroke-width="1.1" />
<line x1="379.88" y1="216.33" x2="379.19" y2="216.49" stroke="#222" stroke-width="1.1" />
<line x1="381.97" y1="220.17" x2="382.96" y2="220.61" stroke="#222" stroke-width="1.1" />
<line x1="384.76" y1="223.35" x2="386.50" y2="224.06" stroke="#222" stroke-width="1.1" />
<line x1="383.30" y1="220.07" x2="381.69" y2="221.10" stroke="#222" stroke-width="1.1" />
<line x1="381.13" y1="226.05" x2="380.33" y2="226.59" stroke="#222" stroke-width="1.1" />
<line x1="379.51" y1="225.51" x2="378.86" y2="225.90" stroke="#222" stroke-width="1.1" />
<line x1="385.25" y1="224.80" x2="384.46" y2="226.56" stroke="#222" stroke-width="1.1" />
<line x1="386.89" y1="221.46" x2="385.09" y2="222.49" stroke="#222" stroke-width="1.1" />
<line x1="381.85" y1="224.13" x2="380.78" y2="225.76" stroke="#222" stroke-width="1.1" />
<line x1="383.75" y1="221.07" x2="384.78" y2="222.11" stroke="#222" stroke-width="1.1" />
<line x1="380.52" y1="225.45" x2="379.59" y2="225.78" stroke="#222" stroke-width="1.1" />
<line x1="384.73" y1="224.05" x2="386.44" y2="224.74" stroke="#222" stroke-width="1.1" />
<line x1="385.25" y1="221.30" x2="386.25" y2="221.62" stroke="#222" stroke-width="1.1" />
<line x1="385.29" y1="222.50" x2="384.57" y2="222.97" stroke="#222" stroke-width="1.1" />
<line x1="380.30" y1="221.62" x2="379.50" y2="221.93" stroke="#222" stroke-width="1.1" />
<line x1="380.05" y1="224.65" x2="381.65" y2="225.12" stroke="#222" stroke-width="1.1" />
<line x1="380.13" y1="220.85" x2="379.14" y2="222.59" stroke="#222" stroke-width="1.1" />
<line x1="382.57" y1="222.37" x2="383.71" y2="222.48" stroke="#222" stroke-width="1.1" />
<line x1="381.32" y1="224.92" x2="380.16" y2="226.37" stroke="#222" stroke-width="1.1" />
<path d="M380.60,236.50 L380.60,228.00 L383.00,226.30 L391.50,226.60 L391.50,236.50" stroke="#222" stroke-width="1.3" fill="none" stroke-linejoin="round" stroke-linecap="round" />
<line x1="386.55" y1="233.44" x2="387.67" y2="233.92" stroke="#222" stroke-width="1.1" />
<line x1="384.28" y1="229.90" x2="383.64" y2="230.59" stroke="#222" stroke-width="1.1" />
<line x1="384.59" y1="229.90" x2="383.11" y2="230.57" stroke="#222" stroke-width="1.1" />
<line x1="386.07" y1="230.73" x2="384.03" y2="231.24" stroke="#222" stroke-width="1.1" />
<line x1="385.77" y1="232.32" x2="384.85" y2="232.74" stroke="#222" stroke-width="1.1" />
<line x1="383.96" y1="228.38" x2="383.95" y2="230.21" stroke="#222" stroke-width="1.1" />
<line x1="382.99" y1="231.18" x2="381.62" y2="231.22" stroke="#222" stroke-width="1.1" />
<line x1="385.13" y1="234.64" x2="384.00" y2="235.03" stroke="#222" stroke-width="1.1" />
<line x1="382.67" y1="232.91" x2="381.25" y2="234.42" stroke="#222" stroke-width="1.1" />
<line x1="387.77" y1="230.12" x2="387.72" y2="231.17" stroke="#222" stroke-width="1.1" />
<line x1="385.74" y1="231.48" x2="383.77" y2="232.04" stroke="#222" stroke-width="1.1" />
<line x1="390.30" y1="231.56" x2="389.48" y2="231.66" stroke="#222" stroke-width="1.1" />
<line x1="390.25" y1="232.94" x2="389.09" y2="233.43" stroke="#222" stroke-width="1.1" />
<line x1="390.91" y1="227.71" x2="389.22" y2="228.59" stroke="#222" stroke-width="1.1" />
<line x1="385.06" y1="234.54" x2="386.47" y2="235.67" stroke="#222" stroke-width="1.1" />
<line x1="385.95" y1="230.99" x2="387.48" y2="232.08" stroke="#222" stroke-width="1.1" />
<line x1="388.44" y1="228.26" x2="387.49" y2="228.32" stroke="#222" stroke-width="1.1" />
<line x1="385.06" y1="231.02" x2="384.58" y2="232.99" stroke="#222" stroke-width="1.1" />
<line x1="390.48" y1="232.88" x2="390.80" y2="233.59" stroke="#222" stroke-width="1.1" />
<line x1="382.15" y1="231.91" x2="381.81" y2="233.18" stroke="#222" stroke-width="1.1" />
<line x1="390.83" y1="231.02" x2="391.41" y2="232.15" stroke="#222" stroke-width="1.1" />
<line x1="383.13" y1="235.48" x2="382.72" y2="236.89" stroke="#222" stroke-width="1.1" />
<line x1="385.55" y1="229.63" x2="386.31" y2="230.79" stroke="#222" stroke-width="1.1" />
<line x1="385.74" y1="235.82" x2="385.56" y2="236.74" stroke="#222" stroke-width="1.1" />
<line x1="382.01" y1="228.85" x2="382.87" y2="230.49" stroke="#222" stroke-width="1.1" />
<line x1="389.95" y1="229.51" x2="388.94" y2="230.34" stroke="#222" stroke-width="1.1" />
<path d="M386.5,226.5 L389.0,220 L391.5,216.5" stroke="#222" stroke-width="1.2" fill="none" stroke-linejoin="round" stroke-linecap="round" />
</g>
</svg>
</body></html>
